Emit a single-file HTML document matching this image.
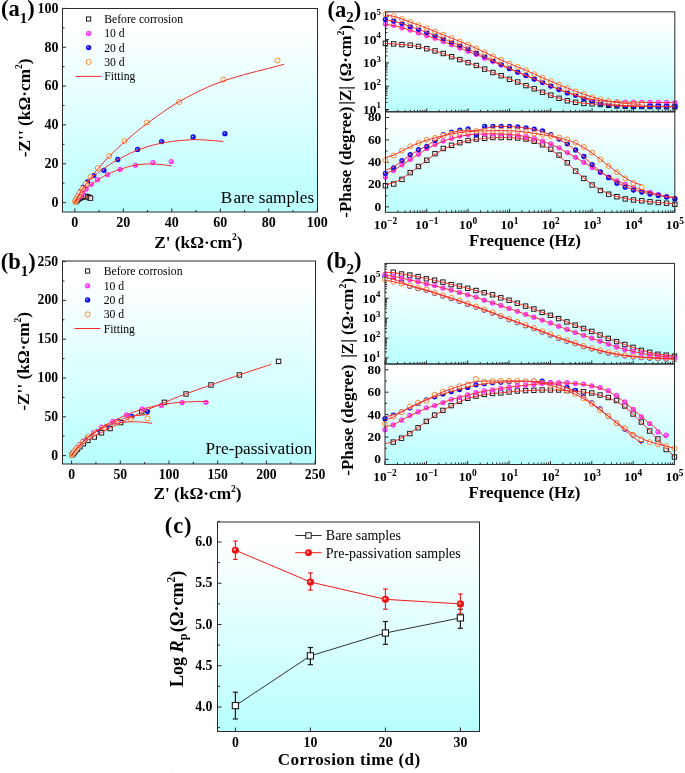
<!DOCTYPE html>
<html><head><meta charset="utf-8"><style>
html,body{margin:0;padding:0;background:#fff;}
body{width:685px;height:773px;overflow:hidden;font-family:"Liberation Serif",serif;}
svg{display:block;will-change:transform;}
</style></head><body>
<svg width="685" height="773" viewBox="0 0 685 773" font-family="'Liberation Serif', serif"><defs><linearGradient id="g" x1="0" y1="0" x2="0" y2="1"><stop offset="0" stop-color="#ffffff"/><stop offset="0.1" stop-color="#ffffff"/><stop offset="1" stop-color="#b9ffff"/></linearGradient><radialGradient id="bp" cx="0.5" cy="0.5" fx="0.36" fy="0.38" r="0.55"><stop offset="0" stop-color="#ffe6ff"/><stop offset="0.45" stop-color="#ff3cff"/><stop offset="1" stop-color="#ff3cff"/></radialGradient><radialGradient id="bb" cx="0.5" cy="0.5" fx="0.36" fy="0.38" r="0.55"><stop offset="0" stop-color="#c8c8ff"/><stop offset="0.45" stop-color="#0c0cf2"/><stop offset="1" stop-color="#0c0cf2"/></radialGradient><radialGradient id="br" cx="0.5" cy="0.5" fx="0.36" fy="0.38" r="0.55"><stop offset="0" stop-color="#ffe0e0"/><stop offset="0.45" stop-color="#f01010"/><stop offset="1" stop-color="#f01010"/></radialGradient></defs><rect x="62.5" y="8.5" width="255.0" height="203.5" fill="url(#g)" stroke="none"/>
<line x1="74.80" y1="212.00" x2="74.80" y2="208.50" stroke="#2a2a2a" stroke-width="1"/>
<line x1="123.30" y1="212.00" x2="123.30" y2="208.50" stroke="#2a2a2a" stroke-width="1"/>
<line x1="171.80" y1="212.00" x2="171.80" y2="208.50" stroke="#2a2a2a" stroke-width="1"/>
<line x1="220.30" y1="212.00" x2="220.30" y2="208.50" stroke="#2a2a2a" stroke-width="1"/>
<line x1="268.80" y1="212.00" x2="268.80" y2="208.50" stroke="#2a2a2a" stroke-width="1"/>
<line x1="317.30" y1="212.00" x2="317.30" y2="208.50" stroke="#2a2a2a" stroke-width="1"/>
<line x1="99.05" y1="212.00" x2="99.05" y2="210.00" stroke="#2a2a2a" stroke-width="1"/>
<line x1="147.55" y1="212.00" x2="147.55" y2="210.00" stroke="#2a2a2a" stroke-width="1"/>
<line x1="196.05" y1="212.00" x2="196.05" y2="210.00" stroke="#2a2a2a" stroke-width="1"/>
<line x1="244.55" y1="212.00" x2="244.55" y2="210.00" stroke="#2a2a2a" stroke-width="1"/>
<line x1="293.05" y1="212.00" x2="293.05" y2="210.00" stroke="#2a2a2a" stroke-width="1"/>
<line x1="62.50" y1="202.60" x2="66.00" y2="202.60" stroke="#2a2a2a" stroke-width="1"/>
<line x1="62.50" y1="163.76" x2="66.00" y2="163.76" stroke="#2a2a2a" stroke-width="1"/>
<line x1="62.50" y1="124.92" x2="66.00" y2="124.92" stroke="#2a2a2a" stroke-width="1"/>
<line x1="62.50" y1="86.08" x2="66.00" y2="86.08" stroke="#2a2a2a" stroke-width="1"/>
<line x1="62.50" y1="47.24" x2="66.00" y2="47.24" stroke="#2a2a2a" stroke-width="1"/>
<line x1="62.50" y1="8.40" x2="66.00" y2="8.40" stroke="#2a2a2a" stroke-width="1"/>
<line x1="62.50" y1="183.18" x2="64.50" y2="183.18" stroke="#2a2a2a" stroke-width="1"/>
<line x1="62.50" y1="144.34" x2="64.50" y2="144.34" stroke="#2a2a2a" stroke-width="1"/>
<line x1="62.50" y1="105.50" x2="64.50" y2="105.50" stroke="#2a2a2a" stroke-width="1"/>
<line x1="62.50" y1="66.66" x2="64.50" y2="66.66" stroke="#2a2a2a" stroke-width="1"/>
<line x1="62.50" y1="27.82" x2="64.50" y2="27.82" stroke="#2a2a2a" stroke-width="1"/>
<rect x="73.45" y="199.43" width="4.4" height="4.4" fill="#ffffff" stroke="#1a1a1a" stroke-width="1.0"/>
<rect x="74.05" y="198.75" width="4.4" height="4.4" fill="#ffffff" stroke="#1a1a1a" stroke-width="1.0"/>
<rect x="75.02" y="197.88" width="4.4" height="4.4" fill="#ffffff" stroke="#1a1a1a" stroke-width="1.0"/>
<rect x="76.24" y="196.90" width="4.4" height="4.4" fill="#ffffff" stroke="#1a1a1a" stroke-width="1.0"/>
<rect x="77.93" y="195.93" width="4.4" height="4.4" fill="#ffffff" stroke="#1a1a1a" stroke-width="1.0"/>
<rect x="79.88" y="194.96" width="4.4" height="4.4" fill="#ffffff" stroke="#1a1a1a" stroke-width="1.0"/>
<rect x="81.81" y="194.38" width="4.4" height="4.4" fill="#ffffff" stroke="#1a1a1a" stroke-width="1.0"/>
<rect x="83.75" y="194.19" width="4.4" height="4.4" fill="#ffffff" stroke="#1a1a1a" stroke-width="1.0"/>
<rect x="85.69" y="194.57" width="4.4" height="4.4" fill="#ffffff" stroke="#1a1a1a" stroke-width="1.0"/>
<rect x="87.15" y="195.55" width="4.4" height="4.4" fill="#ffffff" stroke="#1a1a1a" stroke-width="1.0"/>
<rect x="88.36" y="195.93" width="4.4" height="4.4" fill="#ffffff" stroke="#1a1a1a" stroke-width="1.0"/>
<circle cx="75.48" cy="201.53" r="2.65" fill="url(#bp)"/>
<circle cx="75.89" cy="200.85" r="2.65" fill="url(#bp)"/>
<circle cx="76.50" cy="199.98" r="2.65" fill="url(#bp)"/>
<circle cx="77.35" cy="198.81" r="2.65" fill="url(#bp)"/>
<circle cx="78.68" cy="197.16" r="2.65" fill="url(#bp)"/>
<circle cx="80.38" cy="195.22" r="2.65" fill="url(#bp)"/>
<circle cx="82.80" cy="192.50" r="2.65" fill="url(#bp)"/>
<circle cx="86.20" cy="189.01" r="2.65" fill="url(#bp)"/>
<circle cx="91.29" cy="184.35" r="2.65" fill="url(#bp)"/>
<circle cx="97.59" cy="179.68" r="2.65" fill="url(#bp)"/>
<circle cx="107.54" cy="174.64" r="2.65" fill="url(#bp)"/>
<circle cx="120.15" cy="169.39" r="2.65" fill="url(#bp)"/>
<circle cx="135.42" cy="165.31" r="2.65" fill="url(#bp)"/>
<circle cx="152.88" cy="162.59" r="2.65" fill="url(#bp)"/>
<circle cx="171.31" cy="161.62" r="2.65" fill="url(#bp)"/>
<circle cx="75.48" cy="200.95" r="2.65" fill="url(#bb)"/>
<circle cx="75.89" cy="199.98" r="2.65" fill="url(#bb)"/>
<circle cx="76.50" cy="198.72" r="2.65" fill="url(#bb)"/>
<circle cx="77.35" cy="196.97" r="2.65" fill="url(#bb)"/>
<circle cx="78.68" cy="194.64" r="2.65" fill="url(#bb)"/>
<circle cx="80.62" cy="191.34" r="2.65" fill="url(#bb)"/>
<circle cx="83.29" cy="187.26" r="2.65" fill="url(#bb)"/>
<circle cx="87.41" cy="182.01" r="2.65" fill="url(#bb)"/>
<circle cx="93.72" cy="175.61" r="2.65" fill="url(#bb)"/>
<circle cx="103.90" cy="170.36" r="2.65" fill="url(#bb)"/>
<circle cx="117.72" cy="159.49" r="2.65" fill="url(#bb)"/>
<circle cx="137.61" cy="149.39" r="2.65" fill="url(#bb)"/>
<circle cx="161.61" cy="141.62" r="2.65" fill="url(#bb)"/>
<circle cx="193.14" cy="136.96" r="2.65" fill="url(#bb)"/>
<circle cx="224.91" cy="133.66" r="2.65" fill="url(#bb)"/>
<circle cx="75.16" cy="201.73" r="2.5" fill="#ffffff" stroke="#f58a2a" stroke-width="1.0"/>
<circle cx="75.41" cy="201.14" r="2.5" fill="#ffffff" stroke="#f58a2a" stroke-width="1.0"/>
<circle cx="75.77" cy="200.27" r="2.5" fill="#ffffff" stroke="#f58a2a" stroke-width="1.0"/>
<circle cx="76.38" cy="199.10" r="2.5" fill="#ffffff" stroke="#f58a2a" stroke-width="1.0"/>
<circle cx="77.22" cy="197.55" r="2.5" fill="#ffffff" stroke="#f58a2a" stroke-width="1.0"/>
<circle cx="78.44" cy="195.41" r="2.5" fill="#ffffff" stroke="#f58a2a" stroke-width="1.0"/>
<circle cx="80.13" cy="192.50" r="2.5" fill="#ffffff" stroke="#f58a2a" stroke-width="1.0"/>
<circle cx="82.56" cy="188.62" r="2.5" fill="#ffffff" stroke="#f58a2a" stroke-width="1.0"/>
<circle cx="85.95" cy="183.76" r="2.5" fill="#ffffff" stroke="#f58a2a" stroke-width="1.0"/>
<circle cx="90.56" cy="176.97" r="2.5" fill="#ffffff" stroke="#f58a2a" stroke-width="1.0"/>
<circle cx="97.84" cy="168.03" r="2.5" fill="#ffffff" stroke="#f58a2a" stroke-width="1.0"/>
<circle cx="109.23" cy="155.99" r="2.5" fill="#ffffff" stroke="#f58a2a" stroke-width="1.0"/>
<circle cx="124.51" cy="141.04" r="2.5" fill="#ffffff" stroke="#f58a2a" stroke-width="1.0"/>
<circle cx="146.82" cy="122.59" r="2.5" fill="#ffffff" stroke="#f58a2a" stroke-width="1.0"/>
<circle cx="179.20" cy="102.00" r="2.5" fill="#ffffff" stroke="#f58a2a" stroke-width="1.0"/>
<circle cx="223.21" cy="79.67" r="2.5" fill="#ffffff" stroke="#f58a2a" stroke-width="1.0"/>
<circle cx="277.53" cy="60.45" r="2.5" fill="#ffffff" stroke="#f58a2a" stroke-width="1.0"/>
<polyline points="74.80,202.60 74.95,202.41 75.15,202.15 75.39,201.84 75.66,201.50 75.95,201.16 76.25,200.85 76.57,200.56 76.92,200.26 77.29,199.95 77.67,199.66 78.05,199.37 78.44,199.10 78.82,198.85 79.22,198.60 79.62,198.36 80.03,198.14 80.44,197.93 80.86,197.75 81.29,197.58 81.73,197.42 82.18,197.28 82.63,197.16 83.08,197.06 83.53,196.97 83.98,196.89 84.43,196.83 84.88,196.79 85.33,196.76 85.77,196.75 86.20,196.77 86.62,196.82 87.04,196.90 87.46,196.99 87.86,197.10 88.25,197.23 88.62,197.36 89.00,197.51 89.38,197.69 89.74,197.88 90.08,198.06 90.36,198.22 90.56,198.33" fill="none" stroke="#f52a2a" stroke-width="1.0" stroke-linejoin="round"/>
<polyline points="74.80,202.60 75.11,202.04 75.55,201.25 76.06,200.32 76.61,199.33 77.18,198.38 77.71,197.55 78.20,196.85 78.66,196.22 79.13,195.62 79.64,195.02 80.21,194.38 80.86,193.67 81.63,192.86 82.49,191.97 83.41,191.05 84.36,190.12 85.30,189.23 86.20,188.42 87.05,187.70 87.87,187.05 88.68,186.43 89.51,185.83 90.37,185.20 91.29,184.54 92.23,183.84 93.17,183.14 94.14,182.43 95.18,181.68 96.32,180.90 97.59,180.07 99.01,179.17 100.54,178.20 102.17,177.18 103.89,176.17 105.68,175.18 107.54,174.25 109.45,173.37 111.44,172.53 113.51,171.72 115.65,170.93 117.86,170.16 120.15,169.39 122.51,168.61 124.96,167.81 127.48,167.02 130.07,166.29 132.72,165.64 135.42,165.12 138.19,164.71 141.03,164.39 143.93,164.15 146.88,164.00 149.87,163.93 152.88,163.95 156.17,164.12 159.78,164.44 163.43,164.85 166.84,165.28 169.73,165.65 171.80,165.90" fill="none" stroke="#f52a2a" stroke-width="1.0" stroke-linejoin="round"/>
<polyline points="74.80,202.60 75.12,201.96 75.54,201.09 76.04,200.05 76.62,198.89 77.26,197.65 77.95,196.39 78.73,195.01 79.61,193.47 80.56,191.85 81.52,190.24 82.44,188.75 83.29,187.45 84.02,186.40 84.67,185.52 85.29,184.76 85.92,184.03 86.61,183.27 87.41,182.40 88.29,181.45 89.21,180.48 90.18,179.47 91.25,178.42 92.41,177.33 93.72,176.19 95.15,175.00 96.69,173.75 98.34,172.46 100.09,171.14 101.95,169.79 103.90,168.42 105.92,167.03 108.01,165.61 110.20,164.16 112.53,162.69 115.03,161.19 117.72,159.68 120.64,158.11 123.75,156.47 127.03,154.81 130.45,153.18 133.98,151.61 137.61,150.17 141.28,148.81 145.03,147.52 148.88,146.29 152.90,145.15 157.13,144.11 161.61,143.17 166.45,142.33 171.62,141.56 177.00,140.88 182.46,140.33 187.88,139.92 193.14,139.68 198.58,139.69 204.38,139.94 210.15,140.33 215.47,140.78 219.96,141.18 223.21,141.43" fill="none" stroke="#f52a2a" stroke-width="1.0" stroke-linejoin="round"/>
<polyline points="74.80,202.60 75.13,201.94 75.56,201.03 76.09,199.95 76.68,198.77 77.31,197.56 77.95,196.39 78.60,195.26 79.25,194.14 79.95,192.99 80.72,191.77 81.58,190.45 82.56,189.01 83.71,187.38 85.00,185.58 86.39,183.69 87.82,181.77 89.23,179.89 90.56,178.13 91.77,176.52 92.89,175.02 93.99,173.57 95.13,172.09 96.39,170.52 97.84,168.81 99.45,166.94 101.19,164.97 103.04,162.91 105.00,160.78 107.06,158.60 109.23,156.38 111.48,154.14 113.78,151.88 116.19,149.56 118.76,147.16 121.51,144.65 124.51,142.01 127.69,139.24 131.02,136.38 134.53,133.40 138.30,130.31 142.38,127.10 146.82,123.75 151.64,120.19 156.80,116.41 162.27,112.50 168.02,108.57 174.03,104.71 180.29,101.03 186.69,97.50 193.23,94.04 200.04,90.66 207.22,87.35 214.91,84.14 223.21,81.03 233.02,77.86 244.42,74.60 256.33,71.43 267.63,68.54 277.25,66.11 284.08,64.33" fill="none" stroke="#f52a2a" stroke-width="1.0" stroke-linejoin="round"/>
<rect x="62.5" y="8.5" width="255.0" height="203.5" fill="none" stroke="#2a2a2a" stroke-width="1"/>
<text x="0" y="0" font-size="14" font-weight="bold" text-anchor="middle" transform="translate(74.80,226.90) scale(1,1.0)">0</text>
<text x="0" y="0" font-size="14" font-weight="bold" text-anchor="end" transform="translate(58.60,206.90) scale(1,1.0)">0</text>
<text x="0" y="0" font-size="14" font-weight="bold" text-anchor="middle" transform="translate(123.30,226.90) scale(1,1.0)">20</text>
<text x="0" y="0" font-size="14" font-weight="bold" text-anchor="end" transform="translate(58.60,168.06) scale(1,1.0)">20</text>
<text x="0" y="0" font-size="14" font-weight="bold" text-anchor="middle" transform="translate(171.80,226.90) scale(1,1.0)">40</text>
<text x="0" y="0" font-size="14" font-weight="bold" text-anchor="end" transform="translate(58.60,129.22) scale(1,1.0)">40</text>
<text x="0" y="0" font-size="14" font-weight="bold" text-anchor="middle" transform="translate(220.30,226.90) scale(1,1.0)">60</text>
<text x="0" y="0" font-size="14" font-weight="bold" text-anchor="end" transform="translate(58.60,90.38) scale(1,1.0)">60</text>
<text x="0" y="0" font-size="14" font-weight="bold" text-anchor="middle" transform="translate(268.80,226.90) scale(1,1.0)">80</text>
<text x="0" y="0" font-size="14" font-weight="bold" text-anchor="end" transform="translate(58.60,51.54) scale(1,1.0)">80</text>
<text x="0" y="0" font-size="14" font-weight="bold" text-anchor="middle" transform="translate(317.30,226.90) scale(1,1.0)">100</text>
<text x="0" y="0" font-size="14" font-weight="bold" text-anchor="end" transform="translate(58.60,12.70) scale(1,1.0)">100</text>
<rect x="86.50" y="16.90" width="4.2" height="4.2" fill="#ffffff" stroke="#1a1a1a" stroke-width="1.0"/>
<circle cx="88.60" cy="33.40" r="2.7" fill="url(#bp)"/>
<circle cx="88.60" cy="47.60" r="2.7" fill="url(#bb)"/>
<circle cx="88.60" cy="62.00" r="2.6" fill="#ffffff" stroke="#f58a2a" stroke-width="1.0"/>
<line x1="75.40" y1="76.40" x2="101.40" y2="76.40" stroke="#f52a2a" stroke-width="1"/>
<text x="104.20" y="23.00" font-size="11.7" font-weight="normal" text-anchor="start" >Before corrosion</text>
<text x="104.20" y="37.40" font-size="11.7" font-weight="normal" text-anchor="start" >10 d</text>
<text x="104.20" y="51.60" font-size="11.7" font-weight="normal" text-anchor="start" >20 d</text>
<text x="104.20" y="66.00" font-size="11.7" font-weight="normal" text-anchor="start" >30 d</text>
<text x="104.20" y="80.40" font-size="11.7" font-weight="normal" text-anchor="start" >Fitting</text>
<text x="220.80" y="202.90" font-size="17.2" font-weight="normal" text-anchor="start" >B<tspan dx='1.2'>are samples</tspan></text>
<text x="0.00" y="0.00" font-size="17.3" font-weight="bold" text-anchor="middle" transform="translate(29.7,107.8) rotate(-90)">-Z'' (kΩ·cm<tspan font-size='9.5' dy='-7.5'>2</tspan><tspan dy='7.5'>)</tspan></text>
<text x="154.20" y="247.60" font-size="17.3" font-weight="bold" text-anchor="start" >Z' (kΩ·cm<tspan font-size='9.5' dy='-7.5'>2</tspan><tspan dy='7.5'>)</tspan></text>
<text x="1.00" y="16.30" font-size="22.5" font-weight="bold" text-anchor="start" >(a<tspan font-size='15' dy='6.5'>1</tspan><tspan dy='-6.5'>)</tspan></text>
<rect x="385.5" y="11.8" width="289.29999999999995" height="100.0" fill="url(#g)" stroke="none"/>
<rect x="385.5" y="111.8" width="289.29999999999995" height="100.50000000000001" fill="url(#g)" stroke="none"/>
<line x1="385.40" y1="111.80" x2="385.40" y2="108.30" stroke="#2a2a2a" stroke-width="1"/>
<line x1="397.85" y1="111.80" x2="397.85" y2="109.80" stroke="#2a2a2a" stroke-width="1"/>
<line x1="405.13" y1="111.80" x2="405.13" y2="109.80" stroke="#2a2a2a" stroke-width="1"/>
<line x1="410.29" y1="111.80" x2="410.29" y2="109.80" stroke="#2a2a2a" stroke-width="1"/>
<line x1="414.30" y1="111.80" x2="414.30" y2="109.80" stroke="#2a2a2a" stroke-width="1"/>
<line x1="417.57" y1="111.80" x2="417.57" y2="109.80" stroke="#2a2a2a" stroke-width="1"/>
<line x1="420.34" y1="111.80" x2="420.34" y2="109.80" stroke="#2a2a2a" stroke-width="1"/>
<line x1="422.74" y1="111.80" x2="422.74" y2="109.80" stroke="#2a2a2a" stroke-width="1"/>
<line x1="424.85" y1="111.80" x2="424.85" y2="109.80" stroke="#2a2a2a" stroke-width="1"/>
<line x1="426.74" y1="111.80" x2="426.74" y2="108.30" stroke="#2a2a2a" stroke-width="1"/>
<line x1="439.19" y1="111.80" x2="439.19" y2="109.80" stroke="#2a2a2a" stroke-width="1"/>
<line x1="446.47" y1="111.80" x2="446.47" y2="109.80" stroke="#2a2a2a" stroke-width="1"/>
<line x1="451.63" y1="111.80" x2="451.63" y2="109.80" stroke="#2a2a2a" stroke-width="1"/>
<line x1="455.64" y1="111.80" x2="455.64" y2="109.80" stroke="#2a2a2a" stroke-width="1"/>
<line x1="458.91" y1="111.80" x2="458.91" y2="109.80" stroke="#2a2a2a" stroke-width="1"/>
<line x1="461.68" y1="111.80" x2="461.68" y2="109.80" stroke="#2a2a2a" stroke-width="1"/>
<line x1="464.08" y1="111.80" x2="464.08" y2="109.80" stroke="#2a2a2a" stroke-width="1"/>
<line x1="466.19" y1="111.80" x2="466.19" y2="109.80" stroke="#2a2a2a" stroke-width="1"/>
<line x1="468.09" y1="111.80" x2="468.09" y2="108.30" stroke="#2a2a2a" stroke-width="1"/>
<line x1="480.53" y1="111.80" x2="480.53" y2="109.80" stroke="#2a2a2a" stroke-width="1"/>
<line x1="487.81" y1="111.80" x2="487.81" y2="109.80" stroke="#2a2a2a" stroke-width="1"/>
<line x1="492.98" y1="111.80" x2="492.98" y2="109.80" stroke="#2a2a2a" stroke-width="1"/>
<line x1="496.98" y1="111.80" x2="496.98" y2="109.80" stroke="#2a2a2a" stroke-width="1"/>
<line x1="500.26" y1="111.80" x2="500.26" y2="109.80" stroke="#2a2a2a" stroke-width="1"/>
<line x1="503.02" y1="111.80" x2="503.02" y2="109.80" stroke="#2a2a2a" stroke-width="1"/>
<line x1="505.42" y1="111.80" x2="505.42" y2="109.80" stroke="#2a2a2a" stroke-width="1"/>
<line x1="507.54" y1="111.80" x2="507.54" y2="109.80" stroke="#2a2a2a" stroke-width="1"/>
<line x1="509.43" y1="111.80" x2="509.43" y2="108.30" stroke="#2a2a2a" stroke-width="1"/>
<line x1="521.87" y1="111.80" x2="521.87" y2="109.80" stroke="#2a2a2a" stroke-width="1"/>
<line x1="529.15" y1="111.80" x2="529.15" y2="109.80" stroke="#2a2a2a" stroke-width="1"/>
<line x1="534.32" y1="111.80" x2="534.32" y2="109.80" stroke="#2a2a2a" stroke-width="1"/>
<line x1="538.33" y1="111.80" x2="538.33" y2="109.80" stroke="#2a2a2a" stroke-width="1"/>
<line x1="541.60" y1="111.80" x2="541.60" y2="109.80" stroke="#2a2a2a" stroke-width="1"/>
<line x1="544.37" y1="111.80" x2="544.37" y2="109.80" stroke="#2a2a2a" stroke-width="1"/>
<line x1="546.76" y1="111.80" x2="546.76" y2="109.80" stroke="#2a2a2a" stroke-width="1"/>
<line x1="548.88" y1="111.80" x2="548.88" y2="109.80" stroke="#2a2a2a" stroke-width="1"/>
<line x1="550.77" y1="111.80" x2="550.77" y2="108.30" stroke="#2a2a2a" stroke-width="1"/>
<line x1="563.22" y1="111.80" x2="563.22" y2="109.80" stroke="#2a2a2a" stroke-width="1"/>
<line x1="570.50" y1="111.80" x2="570.50" y2="109.80" stroke="#2a2a2a" stroke-width="1"/>
<line x1="575.66" y1="111.80" x2="575.66" y2="109.80" stroke="#2a2a2a" stroke-width="1"/>
<line x1="579.67" y1="111.80" x2="579.67" y2="109.80" stroke="#2a2a2a" stroke-width="1"/>
<line x1="582.94" y1="111.80" x2="582.94" y2="109.80" stroke="#2a2a2a" stroke-width="1"/>
<line x1="585.71" y1="111.80" x2="585.71" y2="109.80" stroke="#2a2a2a" stroke-width="1"/>
<line x1="588.11" y1="111.80" x2="588.11" y2="109.80" stroke="#2a2a2a" stroke-width="1"/>
<line x1="590.22" y1="111.80" x2="590.22" y2="109.80" stroke="#2a2a2a" stroke-width="1"/>
<line x1="592.11" y1="111.80" x2="592.11" y2="108.30" stroke="#2a2a2a" stroke-width="1"/>
<line x1="604.56" y1="111.80" x2="604.56" y2="109.80" stroke="#2a2a2a" stroke-width="1"/>
<line x1="611.84" y1="111.80" x2="611.84" y2="109.80" stroke="#2a2a2a" stroke-width="1"/>
<line x1="617.01" y1="111.80" x2="617.01" y2="109.80" stroke="#2a2a2a" stroke-width="1"/>
<line x1="621.01" y1="111.80" x2="621.01" y2="109.80" stroke="#2a2a2a" stroke-width="1"/>
<line x1="624.29" y1="111.80" x2="624.29" y2="109.80" stroke="#2a2a2a" stroke-width="1"/>
<line x1="627.05" y1="111.80" x2="627.05" y2="109.80" stroke="#2a2a2a" stroke-width="1"/>
<line x1="629.45" y1="111.80" x2="629.45" y2="109.80" stroke="#2a2a2a" stroke-width="1"/>
<line x1="631.57" y1="111.80" x2="631.57" y2="109.80" stroke="#2a2a2a" stroke-width="1"/>
<line x1="633.46" y1="111.80" x2="633.46" y2="108.30" stroke="#2a2a2a" stroke-width="1"/>
<line x1="645.90" y1="111.80" x2="645.90" y2="109.80" stroke="#2a2a2a" stroke-width="1"/>
<line x1="653.18" y1="111.80" x2="653.18" y2="109.80" stroke="#2a2a2a" stroke-width="1"/>
<line x1="658.35" y1="111.80" x2="658.35" y2="109.80" stroke="#2a2a2a" stroke-width="1"/>
<line x1="662.35" y1="111.80" x2="662.35" y2="109.80" stroke="#2a2a2a" stroke-width="1"/>
<line x1="665.63" y1="111.80" x2="665.63" y2="109.80" stroke="#2a2a2a" stroke-width="1"/>
<line x1="668.40" y1="111.80" x2="668.40" y2="109.80" stroke="#2a2a2a" stroke-width="1"/>
<line x1="670.79" y1="111.80" x2="670.79" y2="109.80" stroke="#2a2a2a" stroke-width="1"/>
<line x1="672.91" y1="111.80" x2="672.91" y2="109.80" stroke="#2a2a2a" stroke-width="1"/>
<line x1="674.80" y1="111.80" x2="674.80" y2="108.30" stroke="#2a2a2a" stroke-width="1"/>
<line x1="385.50" y1="110.57" x2="387.50" y2="110.57" stroke="#2a2a2a" stroke-width="1"/>
<line x1="385.50" y1="109.50" x2="389.00" y2="109.50" stroke="#2a2a2a" stroke-width="1"/>
<line x1="385.50" y1="102.49" x2="387.50" y2="102.49" stroke="#2a2a2a" stroke-width="1"/>
<line x1="385.50" y1="98.38" x2="387.50" y2="98.38" stroke="#2a2a2a" stroke-width="1"/>
<line x1="385.50" y1="95.47" x2="387.50" y2="95.47" stroke="#2a2a2a" stroke-width="1"/>
<line x1="385.50" y1="93.21" x2="387.50" y2="93.21" stroke="#2a2a2a" stroke-width="1"/>
<line x1="385.50" y1="91.37" x2="387.50" y2="91.37" stroke="#2a2a2a" stroke-width="1"/>
<line x1="385.50" y1="89.81" x2="387.50" y2="89.81" stroke="#2a2a2a" stroke-width="1"/>
<line x1="385.50" y1="88.46" x2="387.50" y2="88.46" stroke="#2a2a2a" stroke-width="1"/>
<line x1="385.50" y1="87.27" x2="387.50" y2="87.27" stroke="#2a2a2a" stroke-width="1"/>
<line x1="385.50" y1="86.20" x2="389.00" y2="86.20" stroke="#2a2a2a" stroke-width="1"/>
<line x1="385.50" y1="79.19" x2="387.50" y2="79.19" stroke="#2a2a2a" stroke-width="1"/>
<line x1="385.50" y1="75.08" x2="387.50" y2="75.08" stroke="#2a2a2a" stroke-width="1"/>
<line x1="385.50" y1="72.17" x2="387.50" y2="72.17" stroke="#2a2a2a" stroke-width="1"/>
<line x1="385.50" y1="69.91" x2="387.50" y2="69.91" stroke="#2a2a2a" stroke-width="1"/>
<line x1="385.50" y1="68.07" x2="387.50" y2="68.07" stroke="#2a2a2a" stroke-width="1"/>
<line x1="385.50" y1="66.51" x2="387.50" y2="66.51" stroke="#2a2a2a" stroke-width="1"/>
<line x1="385.50" y1="65.16" x2="387.50" y2="65.16" stroke="#2a2a2a" stroke-width="1"/>
<line x1="385.50" y1="63.97" x2="387.50" y2="63.97" stroke="#2a2a2a" stroke-width="1"/>
<line x1="385.50" y1="62.90" x2="389.00" y2="62.90" stroke="#2a2a2a" stroke-width="1"/>
<line x1="385.50" y1="55.89" x2="387.50" y2="55.89" stroke="#2a2a2a" stroke-width="1"/>
<line x1="385.50" y1="51.78" x2="387.50" y2="51.78" stroke="#2a2a2a" stroke-width="1"/>
<line x1="385.50" y1="48.87" x2="387.50" y2="48.87" stroke="#2a2a2a" stroke-width="1"/>
<line x1="385.50" y1="46.61" x2="387.50" y2="46.61" stroke="#2a2a2a" stroke-width="1"/>
<line x1="385.50" y1="44.77" x2="387.50" y2="44.77" stroke="#2a2a2a" stroke-width="1"/>
<line x1="385.50" y1="43.21" x2="387.50" y2="43.21" stroke="#2a2a2a" stroke-width="1"/>
<line x1="385.50" y1="41.86" x2="387.50" y2="41.86" stroke="#2a2a2a" stroke-width="1"/>
<line x1="385.50" y1="40.67" x2="387.50" y2="40.67" stroke="#2a2a2a" stroke-width="1"/>
<line x1="385.50" y1="39.60" x2="389.00" y2="39.60" stroke="#2a2a2a" stroke-width="1"/>
<line x1="385.50" y1="32.59" x2="387.50" y2="32.59" stroke="#2a2a2a" stroke-width="1"/>
<line x1="385.50" y1="28.48" x2="387.50" y2="28.48" stroke="#2a2a2a" stroke-width="1"/>
<line x1="385.50" y1="25.57" x2="387.50" y2="25.57" stroke="#2a2a2a" stroke-width="1"/>
<line x1="385.50" y1="23.31" x2="387.50" y2="23.31" stroke="#2a2a2a" stroke-width="1"/>
<line x1="385.50" y1="21.47" x2="387.50" y2="21.47" stroke="#2a2a2a" stroke-width="1"/>
<line x1="385.50" y1="19.91" x2="387.50" y2="19.91" stroke="#2a2a2a" stroke-width="1"/>
<line x1="385.50" y1="18.56" x2="387.50" y2="18.56" stroke="#2a2a2a" stroke-width="1"/>
<line x1="385.50" y1="17.37" x2="387.50" y2="17.37" stroke="#2a2a2a" stroke-width="1"/>
<line x1="385.50" y1="16.30" x2="389.00" y2="16.30" stroke="#2a2a2a" stroke-width="1"/>
<line x1="385.40" y1="212.30" x2="385.40" y2="208.80" stroke="#2a2a2a" stroke-width="1"/>
<line x1="397.85" y1="212.30" x2="397.85" y2="210.30" stroke="#2a2a2a" stroke-width="1"/>
<line x1="405.13" y1="212.30" x2="405.13" y2="210.30" stroke="#2a2a2a" stroke-width="1"/>
<line x1="410.29" y1="212.30" x2="410.29" y2="210.30" stroke="#2a2a2a" stroke-width="1"/>
<line x1="414.30" y1="212.30" x2="414.30" y2="210.30" stroke="#2a2a2a" stroke-width="1"/>
<line x1="417.57" y1="212.30" x2="417.57" y2="210.30" stroke="#2a2a2a" stroke-width="1"/>
<line x1="420.34" y1="212.30" x2="420.34" y2="210.30" stroke="#2a2a2a" stroke-width="1"/>
<line x1="422.74" y1="212.30" x2="422.74" y2="210.30" stroke="#2a2a2a" stroke-width="1"/>
<line x1="424.85" y1="212.30" x2="424.85" y2="210.30" stroke="#2a2a2a" stroke-width="1"/>
<line x1="426.74" y1="212.30" x2="426.74" y2="208.80" stroke="#2a2a2a" stroke-width="1"/>
<line x1="439.19" y1="212.30" x2="439.19" y2="210.30" stroke="#2a2a2a" stroke-width="1"/>
<line x1="446.47" y1="212.30" x2="446.47" y2="210.30" stroke="#2a2a2a" stroke-width="1"/>
<line x1="451.63" y1="212.30" x2="451.63" y2="210.30" stroke="#2a2a2a" stroke-width="1"/>
<line x1="455.64" y1="212.30" x2="455.64" y2="210.30" stroke="#2a2a2a" stroke-width="1"/>
<line x1="458.91" y1="212.30" x2="458.91" y2="210.30" stroke="#2a2a2a" stroke-width="1"/>
<line x1="461.68" y1="212.30" x2="461.68" y2="210.30" stroke="#2a2a2a" stroke-width="1"/>
<line x1="464.08" y1="212.30" x2="464.08" y2="210.30" stroke="#2a2a2a" stroke-width="1"/>
<line x1="466.19" y1="212.30" x2="466.19" y2="210.30" stroke="#2a2a2a" stroke-width="1"/>
<line x1="468.09" y1="212.30" x2="468.09" y2="208.80" stroke="#2a2a2a" stroke-width="1"/>
<line x1="480.53" y1="212.30" x2="480.53" y2="210.30" stroke="#2a2a2a" stroke-width="1"/>
<line x1="487.81" y1="212.30" x2="487.81" y2="210.30" stroke="#2a2a2a" stroke-width="1"/>
<line x1="492.98" y1="212.30" x2="492.98" y2="210.30" stroke="#2a2a2a" stroke-width="1"/>
<line x1="496.98" y1="212.30" x2="496.98" y2="210.30" stroke="#2a2a2a" stroke-width="1"/>
<line x1="500.26" y1="212.30" x2="500.26" y2="210.30" stroke="#2a2a2a" stroke-width="1"/>
<line x1="503.02" y1="212.30" x2="503.02" y2="210.30" stroke="#2a2a2a" stroke-width="1"/>
<line x1="505.42" y1="212.30" x2="505.42" y2="210.30" stroke="#2a2a2a" stroke-width="1"/>
<line x1="507.54" y1="212.30" x2="507.54" y2="210.30" stroke="#2a2a2a" stroke-width="1"/>
<line x1="509.43" y1="212.30" x2="509.43" y2="208.80" stroke="#2a2a2a" stroke-width="1"/>
<line x1="521.87" y1="212.30" x2="521.87" y2="210.30" stroke="#2a2a2a" stroke-width="1"/>
<line x1="529.15" y1="212.30" x2="529.15" y2="210.30" stroke="#2a2a2a" stroke-width="1"/>
<line x1="534.32" y1="212.30" x2="534.32" y2="210.30" stroke="#2a2a2a" stroke-width="1"/>
<line x1="538.33" y1="212.30" x2="538.33" y2="210.30" stroke="#2a2a2a" stroke-width="1"/>
<line x1="541.60" y1="212.30" x2="541.60" y2="210.30" stroke="#2a2a2a" stroke-width="1"/>
<line x1="544.37" y1="212.30" x2="544.37" y2="210.30" stroke="#2a2a2a" stroke-width="1"/>
<line x1="546.76" y1="212.30" x2="546.76" y2="210.30" stroke="#2a2a2a" stroke-width="1"/>
<line x1="548.88" y1="212.30" x2="548.88" y2="210.30" stroke="#2a2a2a" stroke-width="1"/>
<line x1="550.77" y1="212.30" x2="550.77" y2="208.80" stroke="#2a2a2a" stroke-width="1"/>
<line x1="563.22" y1="212.30" x2="563.22" y2="210.30" stroke="#2a2a2a" stroke-width="1"/>
<line x1="570.50" y1="212.30" x2="570.50" y2="210.30" stroke="#2a2a2a" stroke-width="1"/>
<line x1="575.66" y1="212.30" x2="575.66" y2="210.30" stroke="#2a2a2a" stroke-width="1"/>
<line x1="579.67" y1="212.30" x2="579.67" y2="210.30" stroke="#2a2a2a" stroke-width="1"/>
<line x1="582.94" y1="212.30" x2="582.94" y2="210.30" stroke="#2a2a2a" stroke-width="1"/>
<line x1="585.71" y1="212.30" x2="585.71" y2="210.30" stroke="#2a2a2a" stroke-width="1"/>
<line x1="588.11" y1="212.30" x2="588.11" y2="210.30" stroke="#2a2a2a" stroke-width="1"/>
<line x1="590.22" y1="212.30" x2="590.22" y2="210.30" stroke="#2a2a2a" stroke-width="1"/>
<line x1="592.11" y1="212.30" x2="592.11" y2="208.80" stroke="#2a2a2a" stroke-width="1"/>
<line x1="604.56" y1="212.30" x2="604.56" y2="210.30" stroke="#2a2a2a" stroke-width="1"/>
<line x1="611.84" y1="212.30" x2="611.84" y2="210.30" stroke="#2a2a2a" stroke-width="1"/>
<line x1="617.01" y1="212.30" x2="617.01" y2="210.30" stroke="#2a2a2a" stroke-width="1"/>
<line x1="621.01" y1="212.30" x2="621.01" y2="210.30" stroke="#2a2a2a" stroke-width="1"/>
<line x1="624.29" y1="212.30" x2="624.29" y2="210.30" stroke="#2a2a2a" stroke-width="1"/>
<line x1="627.05" y1="212.30" x2="627.05" y2="210.30" stroke="#2a2a2a" stroke-width="1"/>
<line x1="629.45" y1="212.30" x2="629.45" y2="210.30" stroke="#2a2a2a" stroke-width="1"/>
<line x1="631.57" y1="212.30" x2="631.57" y2="210.30" stroke="#2a2a2a" stroke-width="1"/>
<line x1="633.46" y1="212.30" x2="633.46" y2="208.80" stroke="#2a2a2a" stroke-width="1"/>
<line x1="645.90" y1="212.30" x2="645.90" y2="210.30" stroke="#2a2a2a" stroke-width="1"/>
<line x1="653.18" y1="212.30" x2="653.18" y2="210.30" stroke="#2a2a2a" stroke-width="1"/>
<line x1="658.35" y1="212.30" x2="658.35" y2="210.30" stroke="#2a2a2a" stroke-width="1"/>
<line x1="662.35" y1="212.30" x2="662.35" y2="210.30" stroke="#2a2a2a" stroke-width="1"/>
<line x1="665.63" y1="212.30" x2="665.63" y2="210.30" stroke="#2a2a2a" stroke-width="1"/>
<line x1="668.40" y1="212.30" x2="668.40" y2="210.30" stroke="#2a2a2a" stroke-width="1"/>
<line x1="670.79" y1="212.30" x2="670.79" y2="210.30" stroke="#2a2a2a" stroke-width="1"/>
<line x1="672.91" y1="212.30" x2="672.91" y2="210.30" stroke="#2a2a2a" stroke-width="1"/>
<line x1="674.80" y1="212.30" x2="674.80" y2="208.80" stroke="#2a2a2a" stroke-width="1"/>
<line x1="385.50" y1="206.90" x2="389.00" y2="206.90" stroke="#2a2a2a" stroke-width="1"/>
<line x1="385.50" y1="184.55" x2="389.00" y2="184.55" stroke="#2a2a2a" stroke-width="1"/>
<line x1="385.50" y1="162.20" x2="389.00" y2="162.20" stroke="#2a2a2a" stroke-width="1"/>
<line x1="385.50" y1="139.85" x2="389.00" y2="139.85" stroke="#2a2a2a" stroke-width="1"/>
<line x1="385.50" y1="117.50" x2="389.00" y2="117.50" stroke="#2a2a2a" stroke-width="1"/>
<line x1="385.50" y1="195.72" x2="387.50" y2="195.72" stroke="#2a2a2a" stroke-width="1"/>
<line x1="385.50" y1="173.38" x2="387.50" y2="173.38" stroke="#2a2a2a" stroke-width="1"/>
<line x1="385.50" y1="151.03" x2="387.50" y2="151.03" stroke="#2a2a2a" stroke-width="1"/>
<line x1="385.50" y1="128.68" x2="387.50" y2="128.68" stroke="#2a2a2a" stroke-width="1"/>
<rect x="383.20" y="41.10" width="4.4" height="4.4" fill="#ffffff" stroke="#1a1a1a" stroke-width="1.0"/>
<rect x="391.47" y="41.70" width="4.4" height="4.4" fill="#ffffff" stroke="#1a1a1a" stroke-width="1.0"/>
<rect x="399.74" y="42.40" width="4.4" height="4.4" fill="#ffffff" stroke="#1a1a1a" stroke-width="1.0"/>
<rect x="408.01" y="43.00" width="4.4" height="4.4" fill="#ffffff" stroke="#1a1a1a" stroke-width="1.0"/>
<rect x="416.28" y="44.20" width="4.4" height="4.4" fill="#ffffff" stroke="#1a1a1a" stroke-width="1.0"/>
<rect x="424.55" y="46.50" width="4.4" height="4.4" fill="#ffffff" stroke="#1a1a1a" stroke-width="1.0"/>
<rect x="432.82" y="48.70" width="4.4" height="4.4" fill="#ffffff" stroke="#1a1a1a" stroke-width="1.0"/>
<rect x="441.09" y="51.30" width="4.4" height="4.4" fill="#ffffff" stroke="#1a1a1a" stroke-width="1.0"/>
<rect x="449.36" y="54.50" width="4.4" height="4.4" fill="#ffffff" stroke="#1a1a1a" stroke-width="1.0"/>
<rect x="457.63" y="57.40" width="4.4" height="4.4" fill="#ffffff" stroke="#1a1a1a" stroke-width="1.0"/>
<rect x="465.90" y="60.40" width="4.4" height="4.4" fill="#ffffff" stroke="#1a1a1a" stroke-width="1.0"/>
<rect x="474.17" y="63.30" width="4.4" height="4.4" fill="#ffffff" stroke="#1a1a1a" stroke-width="1.0"/>
<rect x="482.44" y="66.90" width="4.4" height="4.4" fill="#ffffff" stroke="#1a1a1a" stroke-width="1.0"/>
<rect x="490.71" y="70.30" width="4.4" height="4.4" fill="#ffffff" stroke="#1a1a1a" stroke-width="1.0"/>
<rect x="498.98" y="73.50" width="4.4" height="4.4" fill="#ffffff" stroke="#1a1a1a" stroke-width="1.0"/>
<rect x="507.25" y="77.10" width="4.4" height="4.4" fill="#ffffff" stroke="#1a1a1a" stroke-width="1.0"/>
<rect x="515.52" y="79.80" width="4.4" height="4.4" fill="#ffffff" stroke="#1a1a1a" stroke-width="1.0"/>
<rect x="523.79" y="83.40" width="4.4" height="4.4" fill="#ffffff" stroke="#1a1a1a" stroke-width="1.0"/>
<rect x="532.06" y="86.60" width="4.4" height="4.4" fill="#ffffff" stroke="#1a1a1a" stroke-width="1.0"/>
<rect x="540.33" y="90.00" width="4.4" height="4.4" fill="#ffffff" stroke="#1a1a1a" stroke-width="1.0"/>
<rect x="548.60" y="92.90" width="4.4" height="4.4" fill="#ffffff" stroke="#1a1a1a" stroke-width="1.0"/>
<rect x="556.87" y="96.10" width="4.4" height="4.4" fill="#ffffff" stroke="#1a1a1a" stroke-width="1.0"/>
<rect x="565.14" y="98.60" width="4.4" height="4.4" fill="#ffffff" stroke="#1a1a1a" stroke-width="1.0"/>
<rect x="573.41" y="100.10" width="4.4" height="4.4" fill="#ffffff" stroke="#1a1a1a" stroke-width="1.0"/>
<rect x="581.68" y="101.20" width="4.4" height="4.4" fill="#ffffff" stroke="#1a1a1a" stroke-width="1.0"/>
<rect x="589.95" y="101.60" width="4.4" height="4.4" fill="#ffffff" stroke="#1a1a1a" stroke-width="1.0"/>
<rect x="598.22" y="102.30" width="4.4" height="4.4" fill="#ffffff" stroke="#1a1a1a" stroke-width="1.0"/>
<rect x="606.49" y="103.10" width="4.4" height="4.4" fill="#ffffff" stroke="#1a1a1a" stroke-width="1.0"/>
<rect x="614.76" y="103.80" width="4.4" height="4.4" fill="#ffffff" stroke="#1a1a1a" stroke-width="1.0"/>
<rect x="623.03" y="104.00" width="4.4" height="4.4" fill="#ffffff" stroke="#1a1a1a" stroke-width="1.0"/>
<rect x="631.30" y="104.20" width="4.4" height="4.4" fill="#ffffff" stroke="#1a1a1a" stroke-width="1.0"/>
<rect x="639.57" y="104.30" width="4.4" height="4.4" fill="#ffffff" stroke="#1a1a1a" stroke-width="1.0"/>
<rect x="647.84" y="104.40" width="4.4" height="4.4" fill="#ffffff" stroke="#1a1a1a" stroke-width="1.0"/>
<rect x="656.11" y="104.50" width="4.4" height="4.4" fill="#ffffff" stroke="#1a1a1a" stroke-width="1.0"/>
<rect x="664.38" y="104.60" width="4.4" height="4.4" fill="#ffffff" stroke="#1a1a1a" stroke-width="1.0"/>
<rect x="672.65" y="104.70" width="4.4" height="4.4" fill="#ffffff" stroke="#1a1a1a" stroke-width="1.0"/>
<circle cx="385.40" cy="23.90" r="2.65" fill="url(#bp)"/>
<circle cx="393.67" cy="25.30" r="2.65" fill="url(#bp)"/>
<circle cx="401.94" cy="27.80" r="2.65" fill="url(#bp)"/>
<circle cx="410.21" cy="30.10" r="2.65" fill="url(#bp)"/>
<circle cx="418.48" cy="32.90" r="2.65" fill="url(#bp)"/>
<circle cx="426.75" cy="35.50" r="2.65" fill="url(#bp)"/>
<circle cx="435.02" cy="38.20" r="2.65" fill="url(#bp)"/>
<circle cx="443.29" cy="41.40" r="2.65" fill="url(#bp)"/>
<circle cx="451.56" cy="44.70" r="2.65" fill="url(#bp)"/>
<circle cx="459.83" cy="48.00" r="2.65" fill="url(#bp)"/>
<circle cx="468.10" cy="51.30" r="2.65" fill="url(#bp)"/>
<circle cx="476.37" cy="54.50" r="2.65" fill="url(#bp)"/>
<circle cx="484.64" cy="58.20" r="2.65" fill="url(#bp)"/>
<circle cx="492.91" cy="61.50" r="2.65" fill="url(#bp)"/>
<circle cx="501.18" cy="65.00" r="2.65" fill="url(#bp)"/>
<circle cx="509.45" cy="68.80" r="2.65" fill="url(#bp)"/>
<circle cx="517.72" cy="72.30" r="2.65" fill="url(#bp)"/>
<circle cx="525.99" cy="75.70" r="2.65" fill="url(#bp)"/>
<circle cx="534.26" cy="79.10" r="2.65" fill="url(#bp)"/>
<circle cx="542.53" cy="82.50" r="2.65" fill="url(#bp)"/>
<circle cx="550.80" cy="86.00" r="2.65" fill="url(#bp)"/>
<circle cx="559.07" cy="89.40" r="2.65" fill="url(#bp)"/>
<circle cx="567.34" cy="92.60" r="2.65" fill="url(#bp)"/>
<circle cx="575.61" cy="95.20" r="2.65" fill="url(#bp)"/>
<circle cx="583.88" cy="97.80" r="2.65" fill="url(#bp)"/>
<circle cx="592.15" cy="99.60" r="2.65" fill="url(#bp)"/>
<circle cx="600.42" cy="100.80" r="2.65" fill="url(#bp)"/>
<circle cx="608.69" cy="101.50" r="2.65" fill="url(#bp)"/>
<circle cx="616.96" cy="101.90" r="2.65" fill="url(#bp)"/>
<circle cx="625.23" cy="102.10" r="2.65" fill="url(#bp)"/>
<circle cx="633.50" cy="102.20" r="2.65" fill="url(#bp)"/>
<circle cx="641.77" cy="102.30" r="2.65" fill="url(#bp)"/>
<circle cx="650.04" cy="102.40" r="2.65" fill="url(#bp)"/>
<circle cx="658.31" cy="102.50" r="2.65" fill="url(#bp)"/>
<circle cx="666.58" cy="102.50" r="2.65" fill="url(#bp)"/>
<circle cx="674.85" cy="102.60" r="2.65" fill="url(#bp)"/>
<circle cx="385.40" cy="19.50" r="2.65" fill="url(#bb)"/>
<circle cx="393.67" cy="20.90" r="2.65" fill="url(#bb)"/>
<circle cx="401.94" cy="23.60" r="2.65" fill="url(#bb)"/>
<circle cx="410.21" cy="26.40" r="2.65" fill="url(#bb)"/>
<circle cx="418.48" cy="29.30" r="2.65" fill="url(#bb)"/>
<circle cx="426.75" cy="32.30" r="2.65" fill="url(#bb)"/>
<circle cx="435.02" cy="35.50" r="2.65" fill="url(#bb)"/>
<circle cx="443.29" cy="38.80" r="2.65" fill="url(#bb)"/>
<circle cx="451.56" cy="42.10" r="2.65" fill="url(#bb)"/>
<circle cx="459.83" cy="45.50" r="2.65" fill="url(#bb)"/>
<circle cx="468.10" cy="48.70" r="2.65" fill="url(#bb)"/>
<circle cx="476.37" cy="53.20" r="2.65" fill="url(#bb)"/>
<circle cx="484.64" cy="56.40" r="2.65" fill="url(#bb)"/>
<circle cx="492.91" cy="60.40" r="2.65" fill="url(#bb)"/>
<circle cx="501.18" cy="64.30" r="2.65" fill="url(#bb)"/>
<circle cx="509.45" cy="68.40" r="2.65" fill="url(#bb)"/>
<circle cx="517.72" cy="72.00" r="2.65" fill="url(#bb)"/>
<circle cx="525.99" cy="75.40" r="2.65" fill="url(#bb)"/>
<circle cx="534.26" cy="78.90" r="2.65" fill="url(#bb)"/>
<circle cx="542.53" cy="82.30" r="2.65" fill="url(#bb)"/>
<circle cx="550.80" cy="85.90" r="2.65" fill="url(#bb)"/>
<circle cx="559.07" cy="89.60" r="2.65" fill="url(#bb)"/>
<circle cx="567.34" cy="92.90" r="2.65" fill="url(#bb)"/>
<circle cx="575.61" cy="95.00" r="2.65" fill="url(#bb)"/>
<circle cx="583.88" cy="98.70" r="2.65" fill="url(#bb)"/>
<circle cx="592.15" cy="101.20" r="2.65" fill="url(#bb)"/>
<circle cx="600.42" cy="103.40" r="2.65" fill="url(#bb)"/>
<circle cx="608.69" cy="104.60" r="2.65" fill="url(#bb)"/>
<circle cx="616.96" cy="105.30" r="2.65" fill="url(#bb)"/>
<circle cx="625.23" cy="105.70" r="2.65" fill="url(#bb)"/>
<circle cx="633.50" cy="105.90" r="2.65" fill="url(#bb)"/>
<circle cx="641.77" cy="106.00" r="2.65" fill="url(#bb)"/>
<circle cx="650.04" cy="106.10" r="2.65" fill="url(#bb)"/>
<circle cx="658.31" cy="106.20" r="2.65" fill="url(#bb)"/>
<circle cx="666.58" cy="106.30" r="2.65" fill="url(#bb)"/>
<circle cx="674.85" cy="106.40" r="2.65" fill="url(#bb)"/>
<circle cx="385.40" cy="14.40" r="2.5" fill="#ffffff" stroke="#f58a2a" stroke-width="1.0"/>
<circle cx="393.67" cy="16.10" r="2.5" fill="#ffffff" stroke="#f58a2a" stroke-width="1.0"/>
<circle cx="401.94" cy="19.10" r="2.5" fill="#ffffff" stroke="#f58a2a" stroke-width="1.0"/>
<circle cx="410.21" cy="22.10" r="2.5" fill="#ffffff" stroke="#f58a2a" stroke-width="1.0"/>
<circle cx="418.48" cy="25.00" r="2.5" fill="#ffffff" stroke="#f58a2a" stroke-width="1.0"/>
<circle cx="426.75" cy="28.20" r="2.5" fill="#ffffff" stroke="#f58a2a" stroke-width="1.0"/>
<circle cx="435.02" cy="31.50" r="2.5" fill="#ffffff" stroke="#f58a2a" stroke-width="1.0"/>
<circle cx="443.29" cy="34.80" r="2.5" fill="#ffffff" stroke="#f58a2a" stroke-width="1.0"/>
<circle cx="451.56" cy="38.20" r="2.5" fill="#ffffff" stroke="#f58a2a" stroke-width="1.0"/>
<circle cx="459.83" cy="41.40" r="2.5" fill="#ffffff" stroke="#f58a2a" stroke-width="1.0"/>
<circle cx="468.10" cy="44.70" r="2.5" fill="#ffffff" stroke="#f58a2a" stroke-width="1.0"/>
<circle cx="476.37" cy="48.40" r="2.5" fill="#ffffff" stroke="#f58a2a" stroke-width="1.0"/>
<circle cx="484.64" cy="52.30" r="2.5" fill="#ffffff" stroke="#f58a2a" stroke-width="1.0"/>
<circle cx="492.91" cy="56.40" r="2.5" fill="#ffffff" stroke="#f58a2a" stroke-width="1.0"/>
<circle cx="501.18" cy="59.90" r="2.5" fill="#ffffff" stroke="#f58a2a" stroke-width="1.0"/>
<circle cx="509.45" cy="63.70" r="2.5" fill="#ffffff" stroke="#f58a2a" stroke-width="1.0"/>
<circle cx="517.72" cy="66.90" r="2.5" fill="#ffffff" stroke="#f58a2a" stroke-width="1.0"/>
<circle cx="525.99" cy="70.30" r="2.5" fill="#ffffff" stroke="#f58a2a" stroke-width="1.0"/>
<circle cx="534.26" cy="74.20" r="2.5" fill="#ffffff" stroke="#f58a2a" stroke-width="1.0"/>
<circle cx="542.53" cy="77.90" r="2.5" fill="#ffffff" stroke="#f58a2a" stroke-width="1.0"/>
<circle cx="550.80" cy="81.20" r="2.5" fill="#ffffff" stroke="#f58a2a" stroke-width="1.0"/>
<circle cx="559.07" cy="84.70" r="2.5" fill="#ffffff" stroke="#f58a2a" stroke-width="1.0"/>
<circle cx="567.34" cy="88.10" r="2.5" fill="#ffffff" stroke="#f58a2a" stroke-width="1.0"/>
<circle cx="575.61" cy="91.40" r="2.5" fill="#ffffff" stroke="#f58a2a" stroke-width="1.0"/>
<circle cx="583.88" cy="94.30" r="2.5" fill="#ffffff" stroke="#f58a2a" stroke-width="1.0"/>
<circle cx="592.15" cy="97.20" r="2.5" fill="#ffffff" stroke="#f58a2a" stroke-width="1.0"/>
<circle cx="600.42" cy="99.40" r="2.5" fill="#ffffff" stroke="#f58a2a" stroke-width="1.0"/>
<circle cx="608.69" cy="101.30" r="2.5" fill="#ffffff" stroke="#f58a2a" stroke-width="1.0"/>
<circle cx="616.96" cy="102.60" r="2.5" fill="#ffffff" stroke="#f58a2a" stroke-width="1.0"/>
<circle cx="625.23" cy="103.50" r="2.5" fill="#ffffff" stroke="#f58a2a" stroke-width="1.0"/>
<circle cx="633.50" cy="104.00" r="2.5" fill="#ffffff" stroke="#f58a2a" stroke-width="1.0"/>
<circle cx="641.77" cy="104.30" r="2.5" fill="#ffffff" stroke="#f58a2a" stroke-width="1.0"/>
<polyline points="385.40,43.50 386.89,43.57 389.02,43.67 391.41,43.79 393.67,43.92 395.74,44.07 397.80,44.23 399.87,44.40 401.94,44.58 404.01,44.75 406.07,44.92 408.14,45.11 410.21,45.35 412.28,45.63 414.35,45.94 416.41,46.28 418.48,46.67 420.55,47.12 422.62,47.61 424.68,48.14 426.75,48.67 428.82,49.23 430.88,49.80 432.95,50.39 435.02,51.00 437.09,51.63 439.15,52.28 441.22,52.96 443.29,53.65 445.36,54.37 447.42,55.12 449.49,55.87 451.56,56.62 453.63,57.37 455.69,58.13 457.76,58.88 459.83,59.62 461.90,60.36 463.96,61.09 466.03,61.83 468.10,62.58 470.17,63.33 472.23,64.10 474.30,64.88 476.37,65.67 478.44,66.50 480.50,67.34 482.57,68.20 484.64,69.05 486.71,69.90 488.77,70.75 490.84,71.60 492.91,72.45 494.98,73.29 497.04,74.13 499.11,74.97 501.18,75.80 503.25,76.63 505.31,77.45 507.38,78.27 509.45,79.08 511.52,79.87 513.59,80.65 515.65,81.43 517.72,82.22 519.79,83.03 521.86,83.85 523.92,84.67 525.99,85.50 528.06,86.34 530.12,87.18 532.19,88.02 534.26,88.85 536.33,89.67 538.39,90.48 540.46,91.28 542.53,92.08 544.60,92.86 546.66,93.64 548.73,94.41 550.80,95.17 552.87,95.94 554.93,96.69 557.00,97.43 559.07,98.12 561.14,98.79 563.20,99.42 565.27,100.01 567.34,100.55 569.41,101.03 571.47,101.46 573.54,101.85 575.61,102.20 577.68,102.51 579.75,102.78 581.81,103.01 583.88,103.22 585.95,103.41 588.01,103.57 590.08,103.72 592.15,103.88 594.22,104.04 596.28,104.19 598.35,104.36 600.42,104.53 602.49,104.71 604.55,104.90 606.62,105.10 608.69,105.28 610.76,105.44 612.82,105.60 614.89,105.75 616.96,105.88 619.03,105.98 621.10,106.06 623.16,106.14 625.23,106.20 627.30,106.26 629.37,106.30 631.43,106.34 633.50,106.38 635.57,106.41 637.63,106.44 639.70,106.47 641.77,106.50 643.84,106.53 645.90,106.55 647.97,106.58 650.04,106.60 652.11,106.62 654.17,106.65 656.24,106.67 658.31,106.70 660.38,106.73 662.44,106.75 664.51,106.78 666.58,106.80 668.84,106.82 671.23,106.84 673.36,106.86 674.85,106.87" fill="none" stroke="#f52a2a" stroke-width="1.0" stroke-linejoin="round"/>
<polyline points="385.40,24.37 386.89,24.56 389.02,24.83 391.41,25.18 393.67,25.57 395.74,26.04 397.80,26.58 399.87,27.16 401.94,27.75 404.01,28.34 406.07,28.96 408.14,29.59 410.21,30.23 412.28,30.87 414.35,31.52 416.41,32.19 418.48,32.85 420.55,33.51 422.62,34.18 424.68,34.85 426.75,35.52 428.82,36.21 430.88,36.90 432.95,37.60 435.02,38.33 437.09,39.07 439.15,39.85 441.22,40.63 443.29,41.42 445.36,42.23 447.42,43.05 449.49,43.88 451.56,44.70 453.63,45.52 455.69,46.35 457.76,47.18 459.83,48.00 461.90,48.82 463.96,49.63 466.03,50.45 468.10,51.27 470.17,52.10 472.23,52.94 474.30,53.78 476.37,54.62 478.44,55.49 480.50,56.36 482.57,57.23 484.64,58.10 486.71,58.96 488.77,59.82 490.84,60.68 492.91,61.55 494.98,62.42 497.04,63.30 499.11,64.18 501.18,65.08 503.25,65.98 505.31,66.90 507.38,67.82 509.45,68.72 511.52,69.62 513.59,70.51 515.65,71.40 517.72,72.28 519.79,73.14 521.86,74.00 523.92,74.85 525.99,75.70 528.06,76.55 530.12,77.40 532.19,78.25 534.26,79.10 536.33,79.95 538.39,80.81 540.46,81.67 542.53,82.53 544.60,83.39 546.66,84.25 548.73,85.12 550.80,85.97 552.87,86.83 554.93,87.68 557.00,88.53 559.07,89.35 561.14,90.15 563.20,90.94 565.27,91.71 567.34,92.45 569.41,93.17 571.47,93.87 573.54,94.55 575.61,95.20 577.68,95.84 579.75,96.46 581.81,97.05 583.88,97.60 585.95,98.12 588.01,98.60 590.08,99.04 592.15,99.45 594.22,99.81 596.28,100.13 598.35,100.42 600.42,100.67 602.49,100.90 604.55,101.10 606.62,101.27 608.69,101.42 610.76,101.56 612.82,101.67 614.89,101.77 616.96,101.85 619.03,101.92 621.10,101.98 623.16,102.03 625.23,102.08 627.30,102.11 629.37,102.15 631.43,102.17 633.50,102.20 635.57,102.23 637.63,102.25 639.70,102.28 641.77,102.30 643.84,102.33 645.90,102.35 647.97,102.38 650.04,102.40 652.11,102.42 654.17,102.44 656.24,102.46 658.31,102.47 660.38,102.49 662.44,102.50 664.51,102.51 666.58,102.53 668.84,102.54 671.23,102.55 673.36,102.56 674.85,102.57" fill="none" stroke="#f52a2a" stroke-width="1.0" stroke-linejoin="round"/>
<polyline points="385.40,19.97 386.89,20.17 389.02,20.45 391.41,20.80 393.67,21.23 395.74,21.74 397.80,22.33 399.87,22.97 401.94,23.62 404.01,24.29 406.07,24.99 408.14,25.71 410.21,26.43 412.28,27.14 414.35,27.86 416.41,28.59 418.48,29.32 420.55,30.07 422.62,30.82 424.68,31.58 426.75,32.35 428.82,33.13 430.88,33.92 432.95,34.72 435.02,35.52 437.09,36.34 439.15,37.15 441.22,37.98 443.29,38.80 445.36,39.63 447.42,40.46 449.49,41.29 451.56,42.12 453.63,42.95 455.69,43.77 457.76,44.60 459.83,45.45 461.90,46.32 463.96,47.20 466.03,48.11 468.10,49.03 470.17,49.97 472.23,50.94 474.30,51.91 476.37,52.88 478.44,53.81 480.50,54.74 482.57,55.67 484.64,56.60 486.71,57.54 488.77,58.47 490.84,59.42 492.91,60.38 494.98,61.36 497.04,62.35 499.11,63.36 501.18,64.35 503.25,65.34 505.31,66.33 507.38,67.31 509.45,68.28 511.52,69.22 513.59,70.14 515.65,71.05 517.72,71.95 519.79,72.83 521.86,73.70 523.92,74.56 525.99,75.43 528.06,76.29 530.12,77.15 532.19,78.01 534.26,78.88 536.33,79.74 538.39,80.60 540.46,81.47 542.53,82.35 544.60,83.24 546.66,84.13 548.73,85.03 550.80,85.92 552.87,86.83 554.93,87.74 557.00,88.64 559.07,89.50 561.14,90.32 563.20,91.10 565.27,91.86 567.34,92.60 569.41,93.32 571.47,94.01 573.54,94.69 575.61,95.40 577.68,96.14 579.75,96.90 581.81,97.66 583.88,98.40 585.95,99.12 588.01,99.82 590.08,100.50 592.15,101.12 594.22,101.70 596.28,102.23 598.35,102.71 600.42,103.15 602.49,103.54 604.55,103.89 606.62,104.20 608.69,104.47 610.76,104.71 612.82,104.91 614.89,105.07 616.96,105.22 619.03,105.36 621.10,105.47 623.16,105.57 625.23,105.65 627.30,105.72 629.37,105.78 631.43,105.83 633.50,105.88 635.57,105.91 637.63,105.95 639.70,105.97 641.77,106.00 643.84,106.03 645.90,106.05 647.97,106.08 650.04,106.10 652.11,106.12 654.17,106.15 656.24,106.17 658.31,106.20 660.38,106.23 662.44,106.25 664.51,106.28 666.58,106.30 668.84,106.32 671.23,106.34 673.36,106.36 674.85,106.37" fill="none" stroke="#f52a2a" stroke-width="1.0" stroke-linejoin="round"/>
<polyline points="385.40,14.97 386.89,15.20 389.02,15.53 391.41,15.94 393.67,16.43 395.74,17.00 397.80,17.67 399.87,18.38 401.94,19.10 404.01,19.82 406.07,20.57 408.14,21.32 410.21,22.08 412.28,22.82 414.35,23.56 416.41,24.31 418.48,25.07 420.55,25.85 422.62,26.63 424.68,27.43 426.75,28.23 428.82,29.03 430.88,29.85 432.95,30.67 435.02,31.50 437.09,32.33 439.15,33.16 441.22,33.99 443.29,34.83 445.36,35.66 447.42,36.49 449.49,37.32 451.56,38.15 453.63,38.97 455.69,39.78 457.76,40.60 459.83,41.42 461.90,42.26 463.96,43.09 466.03,43.93 468.10,44.80 470.17,45.69 472.23,46.59 474.30,47.51 476.37,48.45 478.44,49.41 480.50,50.38 482.57,51.37 484.64,52.35 486.71,53.33 488.77,54.31 490.84,55.29 492.91,56.25 494.98,57.20 497.04,58.13 499.11,59.06 501.18,59.98 503.25,60.88 505.31,61.78 507.38,62.67 509.45,63.55 511.52,64.41 513.59,65.26 515.65,66.10 517.72,66.95 519.79,67.81 521.86,68.67 523.92,69.54 525.99,70.42 528.06,71.34 530.12,72.28 532.19,73.22 534.26,74.15 536.33,75.07 538.39,75.99 540.46,76.90 542.53,77.80 544.60,78.68 546.66,79.54 548.73,80.39 550.80,81.25 552.87,82.11 554.93,82.97 557.00,83.82 559.07,84.67 561.14,85.53 563.20,86.39 565.27,87.24 567.34,88.08 569.41,88.90 571.47,89.71 573.54,90.51 575.61,91.30 577.68,92.07 579.75,92.83 581.81,93.57 583.88,94.30 585.95,95.01 588.01,95.71 590.08,96.38 592.15,97.03 594.22,97.64 596.28,98.23 598.35,98.79 600.42,99.33 602.49,99.83 604.55,100.30 606.62,100.74 608.69,101.15 610.76,101.53 612.82,101.88 614.89,102.21 616.96,102.50 619.03,102.76 621.10,103.00 623.16,103.21 625.23,103.40 627.30,103.57 629.37,103.71 631.43,103.84 633.50,103.95 635.76,104.05 638.15,104.15 640.28,104.22 641.77,104.28" fill="none" stroke="#f52a2a" stroke-width="1.0" stroke-linejoin="round"/>
<rect x="383.20" y="183.50" width="4.4" height="4.4" fill="#ffffff" stroke="#1a1a1a" stroke-width="1.0"/>
<rect x="391.47" y="181.80" width="4.4" height="4.4" fill="#ffffff" stroke="#1a1a1a" stroke-width="1.0"/>
<rect x="399.74" y="177.20" width="4.4" height="4.4" fill="#ffffff" stroke="#1a1a1a" stroke-width="1.0"/>
<rect x="408.01" y="170.40" width="4.4" height="4.4" fill="#ffffff" stroke="#1a1a1a" stroke-width="1.0"/>
<rect x="416.28" y="164.30" width="4.4" height="4.4" fill="#ffffff" stroke="#1a1a1a" stroke-width="1.0"/>
<rect x="424.55" y="158.00" width="4.4" height="4.4" fill="#ffffff" stroke="#1a1a1a" stroke-width="1.0"/>
<rect x="432.82" y="151.40" width="4.4" height="4.4" fill="#ffffff" stroke="#1a1a1a" stroke-width="1.0"/>
<rect x="441.09" y="146.30" width="4.4" height="4.4" fill="#ffffff" stroke="#1a1a1a" stroke-width="1.0"/>
<rect x="449.36" y="143.10" width="4.4" height="4.4" fill="#ffffff" stroke="#1a1a1a" stroke-width="1.0"/>
<rect x="457.63" y="140.50" width="4.4" height="4.4" fill="#ffffff" stroke="#1a1a1a" stroke-width="1.0"/>
<rect x="465.90" y="138.30" width="4.4" height="4.4" fill="#ffffff" stroke="#1a1a1a" stroke-width="1.0"/>
<rect x="474.17" y="136.80" width="4.4" height="4.4" fill="#ffffff" stroke="#1a1a1a" stroke-width="1.0"/>
<rect x="482.44" y="136.10" width="4.4" height="4.4" fill="#ffffff" stroke="#1a1a1a" stroke-width="1.0"/>
<rect x="490.71" y="135.30" width="4.4" height="4.4" fill="#ffffff" stroke="#1a1a1a" stroke-width="1.0"/>
<rect x="498.98" y="135.30" width="4.4" height="4.4" fill="#ffffff" stroke="#1a1a1a" stroke-width="1.0"/>
<rect x="507.25" y="135.30" width="4.4" height="4.4" fill="#ffffff" stroke="#1a1a1a" stroke-width="1.0"/>
<rect x="515.52" y="135.80" width="4.4" height="4.4" fill="#ffffff" stroke="#1a1a1a" stroke-width="1.0"/>
<rect x="523.79" y="136.80" width="4.4" height="4.4" fill="#ffffff" stroke="#1a1a1a" stroke-width="1.0"/>
<rect x="532.06" y="139.00" width="4.4" height="4.4" fill="#ffffff" stroke="#1a1a1a" stroke-width="1.0"/>
<rect x="540.33" y="142.60" width="4.4" height="4.4" fill="#ffffff" stroke="#1a1a1a" stroke-width="1.0"/>
<rect x="548.60" y="147.00" width="4.4" height="4.4" fill="#ffffff" stroke="#1a1a1a" stroke-width="1.0"/>
<rect x="556.87" y="152.90" width="4.4" height="4.4" fill="#ffffff" stroke="#1a1a1a" stroke-width="1.0"/>
<rect x="565.14" y="160.60" width="4.4" height="4.4" fill="#ffffff" stroke="#1a1a1a" stroke-width="1.0"/>
<rect x="573.41" y="168.90" width="4.4" height="4.4" fill="#ffffff" stroke="#1a1a1a" stroke-width="1.0"/>
<rect x="581.68" y="176.20" width="4.4" height="4.4" fill="#ffffff" stroke="#1a1a1a" stroke-width="1.0"/>
<rect x="589.95" y="182.80" width="4.4" height="4.4" fill="#ffffff" stroke="#1a1a1a" stroke-width="1.0"/>
<rect x="598.22" y="188.30" width="4.4" height="4.4" fill="#ffffff" stroke="#1a1a1a" stroke-width="1.0"/>
<rect x="606.49" y="192.00" width="4.4" height="4.4" fill="#ffffff" stroke="#1a1a1a" stroke-width="1.0"/>
<rect x="614.76" y="194.50" width="4.4" height="4.4" fill="#ffffff" stroke="#1a1a1a" stroke-width="1.0"/>
<rect x="623.03" y="196.70" width="4.4" height="4.4" fill="#ffffff" stroke="#1a1a1a" stroke-width="1.0"/>
<rect x="631.30" y="197.80" width="4.4" height="4.4" fill="#ffffff" stroke="#1a1a1a" stroke-width="1.0"/>
<rect x="639.57" y="198.60" width="4.4" height="4.4" fill="#ffffff" stroke="#1a1a1a" stroke-width="1.0"/>
<rect x="647.84" y="199.60" width="4.4" height="4.4" fill="#ffffff" stroke="#1a1a1a" stroke-width="1.0"/>
<rect x="656.11" y="200.30" width="4.4" height="4.4" fill="#ffffff" stroke="#1a1a1a" stroke-width="1.0"/>
<rect x="664.38" y="201.00" width="4.4" height="4.4" fill="#ffffff" stroke="#1a1a1a" stroke-width="1.0"/>
<rect x="672.65" y="202.10" width="4.4" height="4.4" fill="#ffffff" stroke="#1a1a1a" stroke-width="1.0"/>
<circle cx="385.40" cy="177.00" r="2.65" fill="url(#bp)"/>
<circle cx="393.67" cy="170.40" r="2.65" fill="url(#bp)"/>
<circle cx="401.94" cy="164.80" r="2.65" fill="url(#bp)"/>
<circle cx="410.21" cy="159.40" r="2.65" fill="url(#bp)"/>
<circle cx="418.48" cy="154.30" r="2.65" fill="url(#bp)"/>
<circle cx="426.75" cy="148.50" r="2.65" fill="url(#bp)"/>
<circle cx="435.02" cy="144.40" r="2.65" fill="url(#bp)"/>
<circle cx="443.29" cy="140.90" r="2.65" fill="url(#bp)"/>
<circle cx="451.56" cy="138.30" r="2.65" fill="url(#bp)"/>
<circle cx="459.83" cy="136.10" r="2.65" fill="url(#bp)"/>
<circle cx="468.10" cy="134.60" r="2.65" fill="url(#bp)"/>
<circle cx="476.37" cy="133.90" r="2.65" fill="url(#bp)"/>
<circle cx="484.64" cy="133.90" r="2.65" fill="url(#bp)"/>
<circle cx="492.91" cy="133.90" r="2.65" fill="url(#bp)"/>
<circle cx="501.18" cy="133.90" r="2.65" fill="url(#bp)"/>
<circle cx="509.45" cy="134.20" r="2.65" fill="url(#bp)"/>
<circle cx="517.72" cy="135.10" r="2.65" fill="url(#bp)"/>
<circle cx="525.99" cy="136.50" r="2.65" fill="url(#bp)"/>
<circle cx="534.26" cy="138.30" r="2.65" fill="url(#bp)"/>
<circle cx="542.53" cy="141.20" r="2.65" fill="url(#bp)"/>
<circle cx="550.80" cy="143.80" r="2.65" fill="url(#bp)"/>
<circle cx="559.07" cy="147.80" r="2.65" fill="url(#bp)"/>
<circle cx="567.34" cy="152.60" r="2.65" fill="url(#bp)"/>
<circle cx="575.61" cy="157.30" r="2.65" fill="url(#bp)"/>
<circle cx="583.88" cy="162.40" r="2.65" fill="url(#bp)"/>
<circle cx="592.15" cy="167.50" r="2.65" fill="url(#bp)"/>
<circle cx="600.42" cy="172.60" r="2.65" fill="url(#bp)"/>
<circle cx="608.69" cy="177.00" r="2.65" fill="url(#bp)"/>
<circle cx="616.96" cy="180.90" r="2.65" fill="url(#bp)"/>
<circle cx="625.23" cy="184.30" r="2.65" fill="url(#bp)"/>
<circle cx="633.50" cy="187.50" r="2.65" fill="url(#bp)"/>
<circle cx="641.77" cy="190.10" r="2.65" fill="url(#bp)"/>
<circle cx="650.04" cy="192.30" r="2.65" fill="url(#bp)"/>
<circle cx="658.31" cy="194.50" r="2.65" fill="url(#bp)"/>
<circle cx="666.58" cy="196.70" r="2.65" fill="url(#bp)"/>
<circle cx="674.85" cy="198.40" r="2.65" fill="url(#bp)"/>
<circle cx="385.40" cy="173.30" r="2.65" fill="url(#bb)"/>
<circle cx="393.67" cy="167.90" r="2.65" fill="url(#bb)"/>
<circle cx="401.94" cy="160.60" r="2.65" fill="url(#bb)"/>
<circle cx="410.21" cy="154.60" r="2.65" fill="url(#bb)"/>
<circle cx="418.48" cy="149.70" r="2.65" fill="url(#bb)"/>
<circle cx="426.75" cy="146.50" r="2.65" fill="url(#bb)"/>
<circle cx="435.02" cy="140.50" r="2.65" fill="url(#bb)"/>
<circle cx="443.29" cy="134.60" r="2.65" fill="url(#bb)"/>
<circle cx="451.56" cy="132.10" r="2.65" fill="url(#bb)"/>
<circle cx="459.83" cy="130.20" r="2.65" fill="url(#bb)"/>
<circle cx="468.10" cy="128.80" r="2.65" fill="url(#bb)"/>
<circle cx="476.37" cy="134.80" r="2.65" fill="url(#bb)"/>
<circle cx="484.64" cy="126.30" r="2.65" fill="url(#bb)"/>
<circle cx="492.91" cy="126.30" r="2.65" fill="url(#bb)"/>
<circle cx="501.18" cy="126.30" r="2.65" fill="url(#bb)"/>
<circle cx="509.45" cy="126.30" r="2.65" fill="url(#bb)"/>
<circle cx="517.72" cy="126.90" r="2.65" fill="url(#bb)"/>
<circle cx="525.99" cy="127.80" r="2.65" fill="url(#bb)"/>
<circle cx="534.26" cy="129.20" r="2.65" fill="url(#bb)"/>
<circle cx="542.53" cy="131.00" r="2.65" fill="url(#bb)"/>
<circle cx="550.80" cy="134.60" r="2.65" fill="url(#bb)"/>
<circle cx="559.07" cy="139.00" r="2.65" fill="url(#bb)"/>
<circle cx="567.34" cy="143.80" r="2.65" fill="url(#bb)"/>
<circle cx="575.61" cy="150.00" r="2.65" fill="url(#bb)"/>
<circle cx="583.88" cy="156.50" r="2.65" fill="url(#bb)"/>
<circle cx="592.15" cy="164.60" r="2.65" fill="url(#bb)"/>
<circle cx="600.42" cy="171.90" r="2.65" fill="url(#bb)"/>
<circle cx="608.69" cy="177.70" r="2.65" fill="url(#bb)"/>
<circle cx="616.96" cy="183.20" r="2.65" fill="url(#bb)"/>
<circle cx="625.23" cy="187.20" r="2.65" fill="url(#bb)"/>
<circle cx="633.50" cy="190.10" r="2.65" fill="url(#bb)"/>
<circle cx="641.77" cy="192.00" r="2.65" fill="url(#bb)"/>
<circle cx="650.04" cy="194.00" r="2.65" fill="url(#bb)"/>
<circle cx="658.31" cy="195.50" r="2.65" fill="url(#bb)"/>
<circle cx="666.58" cy="197.00" r="2.65" fill="url(#bb)"/>
<circle cx="674.85" cy="198.90" r="2.65" fill="url(#bb)"/>
<circle cx="385.40" cy="160.20" r="2.5" fill="#ffffff" stroke="#f58a2a" stroke-width="1.0"/>
<circle cx="393.67" cy="155.50" r="2.5" fill="#ffffff" stroke="#f58a2a" stroke-width="1.0"/>
<circle cx="401.94" cy="150.70" r="2.5" fill="#ffffff" stroke="#f58a2a" stroke-width="1.0"/>
<circle cx="410.21" cy="146.30" r="2.5" fill="#ffffff" stroke="#f58a2a" stroke-width="1.0"/>
<circle cx="418.48" cy="143.00" r="2.5" fill="#ffffff" stroke="#f58a2a" stroke-width="1.0"/>
<circle cx="426.75" cy="139.70" r="2.5" fill="#ffffff" stroke="#f58a2a" stroke-width="1.0"/>
<circle cx="435.02" cy="138.00" r="2.5" fill="#ffffff" stroke="#f58a2a" stroke-width="1.0"/>
<circle cx="443.29" cy="135.60" r="2.5" fill="#ffffff" stroke="#f58a2a" stroke-width="1.0"/>
<circle cx="451.56" cy="133.60" r="2.5" fill="#ffffff" stroke="#f58a2a" stroke-width="1.0"/>
<circle cx="459.83" cy="132.40" r="2.5" fill="#ffffff" stroke="#f58a2a" stroke-width="1.0"/>
<circle cx="468.10" cy="131.70" r="2.5" fill="#ffffff" stroke="#f58a2a" stroke-width="1.0"/>
<circle cx="476.37" cy="131.00" r="2.5" fill="#ffffff" stroke="#f58a2a" stroke-width="1.0"/>
<circle cx="484.64" cy="130.70" r="2.5" fill="#ffffff" stroke="#f58a2a" stroke-width="1.0"/>
<circle cx="492.91" cy="130.70" r="2.5" fill="#ffffff" stroke="#f58a2a" stroke-width="1.0"/>
<circle cx="501.18" cy="130.70" r="2.5" fill="#ffffff" stroke="#f58a2a" stroke-width="1.0"/>
<circle cx="509.45" cy="130.70" r="2.5" fill="#ffffff" stroke="#f58a2a" stroke-width="1.0"/>
<circle cx="517.72" cy="131.00" r="2.5" fill="#ffffff" stroke="#f58a2a" stroke-width="1.0"/>
<circle cx="525.99" cy="131.70" r="2.5" fill="#ffffff" stroke="#f58a2a" stroke-width="1.0"/>
<circle cx="534.26" cy="133.60" r="2.5" fill="#ffffff" stroke="#f58a2a" stroke-width="1.0"/>
<circle cx="542.53" cy="134.60" r="2.5" fill="#ffffff" stroke="#f58a2a" stroke-width="1.0"/>
<circle cx="550.80" cy="136.10" r="2.5" fill="#ffffff" stroke="#f58a2a" stroke-width="1.0"/>
<circle cx="559.07" cy="137.50" r="2.5" fill="#ffffff" stroke="#f58a2a" stroke-width="1.0"/>
<circle cx="567.34" cy="139.40" r="2.5" fill="#ffffff" stroke="#f58a2a" stroke-width="1.0"/>
<circle cx="575.61" cy="142.70" r="2.5" fill="#ffffff" stroke="#f58a2a" stroke-width="1.0"/>
<circle cx="583.88" cy="147.00" r="2.5" fill="#ffffff" stroke="#f58a2a" stroke-width="1.0"/>
<circle cx="592.15" cy="152.60" r="2.5" fill="#ffffff" stroke="#f58a2a" stroke-width="1.0"/>
<circle cx="600.42" cy="159.40" r="2.5" fill="#ffffff" stroke="#f58a2a" stroke-width="1.0"/>
<circle cx="608.69" cy="166.00" r="2.5" fill="#ffffff" stroke="#f58a2a" stroke-width="1.0"/>
<circle cx="616.96" cy="172.10" r="2.5" fill="#ffffff" stroke="#f58a2a" stroke-width="1.0"/>
<circle cx="625.23" cy="178.40" r="2.5" fill="#ffffff" stroke="#f58a2a" stroke-width="1.0"/>
<circle cx="633.50" cy="183.10" r="2.5" fill="#ffffff" stroke="#f58a2a" stroke-width="1.0"/>
<circle cx="641.77" cy="187.20" r="2.5" fill="#ffffff" stroke="#f58a2a" stroke-width="1.0"/>
<polyline points="385.40,184.51 386.89,184.23 389.02,183.84 391.41,183.31 393.67,182.63 395.74,181.78 397.80,180.78 399.87,179.65 401.94,178.44 404.01,177.13 406.07,175.70 408.14,174.22 410.21,172.71 412.28,171.19 414.35,169.62 416.41,168.03 418.48,166.45 420.55,164.87 422.62,163.29 424.68,161.71 426.75,160.17 428.82,158.64 430.88,157.13 432.95,155.66 435.02,154.26 437.09,152.93 439.15,151.66 441.22,150.46 443.29,149.34 445.36,148.32 447.42,147.37 449.49,146.49 451.56,145.67 453.63,144.90 455.69,144.20 457.76,143.55 459.83,142.93 461.90,142.35 463.96,141.81 466.03,141.30 468.10,140.84 470.17,140.41 472.23,140.02 474.30,139.66 476.37,139.34 478.44,139.05 480.50,138.79 482.57,138.57 484.64,138.36 486.71,138.18 488.77,138.03 490.84,137.90 492.91,137.79 494.98,137.71 497.04,137.64 499.11,137.60 501.18,137.58 503.25,137.58 505.31,137.60 507.38,137.65 509.45,137.72 511.52,137.82 513.59,137.94 515.65,138.09 517.72,138.29 519.79,138.54 521.86,138.82 523.92,139.16 525.99,139.57 528.06,140.04 530.12,140.57 532.19,141.18 534.26,141.85 536.33,142.60 538.39,143.42 540.46,144.31 542.53,145.28 544.60,146.33 546.66,147.44 548.73,148.64 550.80,149.93 552.87,151.30 554.93,152.76 557.00,154.30 559.07,155.91 561.14,157.60 563.20,159.39 565.27,161.22 567.34,163.07 569.41,164.96 571.47,166.89 573.54,168.82 575.61,170.72 577.68,172.59 579.75,174.44 581.81,176.25 583.88,178.01 585.95,179.70 588.01,181.35 590.08,182.93 592.15,184.43 594.22,185.86 596.28,187.21 598.35,188.49 600.42,189.68 602.49,190.78 604.55,191.80 606.62,192.74 608.69,193.62 610.76,194.42 612.82,195.15 614.89,195.82 616.96,196.44 619.03,197.02 621.10,197.54 623.16,198.01 625.23,198.45 627.30,198.85 629.37,199.20 631.43,199.53 633.50,199.83 635.57,200.11 637.63,200.37 639.70,200.60 641.77,200.84 643.84,201.06 645.90,201.28 647.97,201.49 650.04,201.70 652.11,201.91 654.17,202.11 656.24,202.31 658.31,202.51 660.38,202.70 662.44,202.90 664.51,203.09 666.58,203.26 668.84,203.41 671.23,203.54 673.36,203.65 674.85,203.72" fill="none" stroke="#f52a2a" stroke-width="1.0" stroke-linejoin="round"/>
<polyline points="385.40,173.42 386.89,172.89 389.02,172.16 391.41,171.25 393.67,170.24 395.74,169.07 397.80,167.74 399.87,166.34 401.94,164.96 404.01,163.60 406.07,162.22 408.14,160.84 410.21,159.48 412.28,158.13 414.35,156.79 416.41,155.47 418.48,154.16 420.55,152.87 422.62,151.59 424.68,150.33 426.75,149.13 428.82,147.98 430.88,146.86 432.95,145.80 435.02,144.79 437.09,143.84 439.15,142.94 441.22,142.10 443.29,141.30 445.36,140.55 447.42,139.84 449.49,139.18 451.56,138.55 453.63,137.96 455.69,137.41 457.76,136.90 459.83,136.44 461.90,136.01 463.96,135.63 466.03,135.29 468.10,134.99 470.17,134.73 472.23,134.53 474.30,134.35 476.37,134.21 478.44,134.10 480.50,134.03 482.57,133.98 484.64,133.94 486.71,133.92 488.77,133.91 490.84,133.91 492.91,133.92 494.98,133.93 497.04,133.96 499.11,133.99 501.18,134.05 503.25,134.13 505.31,134.22 507.38,134.33 509.45,134.47 511.52,134.65 513.59,134.85 515.65,135.08 517.72,135.35 519.79,135.65 521.86,135.98 523.92,136.35 525.99,136.75 528.06,137.19 530.12,137.66 532.19,138.17 534.26,138.72 536.33,139.30 538.39,139.91 540.46,140.56 542.53,141.24 544.60,141.96 546.66,142.72 548.73,143.51 550.80,144.36 552.87,145.25 554.93,146.18 557.00,147.16 559.07,148.18 561.14,149.24 563.20,150.35 565.27,151.48 567.34,152.64 569.41,153.81 571.47,155.01 573.54,156.22 575.61,157.44 577.68,158.68 579.75,159.92 581.81,161.17 583.88,162.43 585.95,163.68 588.01,164.95 590.08,166.21 592.15,167.46 594.22,168.69 596.28,169.92 598.35,171.13 600.42,172.31 602.49,173.46 604.55,174.58 606.62,175.67 608.69,176.74 610.76,177.77 612.82,178.76 614.89,179.73 616.96,180.67 619.03,181.58 621.10,182.47 623.16,183.32 625.23,184.16 627.30,184.96 629.37,185.75 631.43,186.51 633.50,187.24 635.57,187.94 637.63,188.62 639.70,189.28 641.77,189.91 643.84,190.53 645.90,191.12 647.97,191.70 650.04,192.28 652.11,192.84 654.17,193.40 656.24,193.94 658.31,194.47 660.38,194.98 662.44,195.49 664.51,195.96 666.58,196.37 668.84,196.72 671.23,197.01 673.36,197.25 674.85,197.41" fill="none" stroke="#f52a2a" stroke-width="1.0" stroke-linejoin="round"/>
<polyline points="385.40,170.14 386.89,169.60 389.02,168.84 391.41,167.90 393.67,166.82 395.74,165.55 397.80,164.09 399.87,162.54 401.94,161.04 404.01,159.56 406.07,158.07 408.14,156.60 410.21,155.20 412.28,153.89 414.35,152.64 416.41,151.43 418.48,150.23 420.55,149.05 422.62,147.90 424.68,146.75 426.75,145.56 428.82,144.33 430.88,143.07 432.95,141.81 435.02,140.57 437.09,139.36 439.15,138.14 441.22,136.98 443.29,135.92 445.36,134.95 447.42,134.06 449.49,133.26 451.56,132.57 453.63,132.00 455.69,131.53 457.76,131.16 459.83,130.89 461.90,130.74 463.96,130.71 466.03,130.72 468.10,130.70 470.17,130.66 472.23,130.63 474.30,130.55 476.37,130.36 478.44,130.01 480.50,129.56 482.57,129.06 484.64,128.58 486.71,128.11 488.77,127.63 490.84,127.18 492.91,126.83 494.98,126.60 497.04,126.46 499.11,126.38 501.18,126.34 503.25,126.33 505.31,126.38 507.38,126.45 509.45,126.54 511.52,126.65 513.59,126.77 515.65,126.91 517.72,127.08 519.79,127.28 521.86,127.50 523.92,127.75 525.99,128.03 528.06,128.34 530.12,128.68 532.19,129.06 534.26,129.49 536.33,129.98 538.39,130.51 540.46,131.09 542.53,131.75 544.60,132.48 546.66,133.27 548.73,134.12 550.80,135.04 552.87,136.01 554.93,137.05 557.00,138.14 559.07,139.29 561.14,140.48 563.20,141.72 565.27,143.02 567.34,144.37 569.41,145.77 571.47,147.23 573.54,148.74 575.61,150.30 577.68,151.92 579.75,153.60 581.81,155.32 583.88,157.07 585.95,158.85 588.01,160.68 590.08,162.51 592.15,164.31 594.22,166.09 596.28,167.86 598.35,169.59 600.42,171.27 602.49,172.88 604.55,174.45 606.62,175.96 608.69,177.40 610.76,178.78 612.82,180.10 614.89,181.36 616.96,182.55 619.03,183.67 621.10,184.72 623.16,185.71 625.23,186.63 627.30,187.48 629.37,188.26 631.43,188.98 633.50,189.66 635.57,190.30 637.63,190.88 639.70,191.42 641.77,191.94 643.84,192.45 645.90,192.92 647.97,193.37 650.04,193.82 652.11,194.26 654.17,194.68 656.24,195.09 658.31,195.49 660.38,195.90 662.44,196.29 664.51,196.66 666.58,196.99 668.84,197.28 671.23,197.53 673.36,197.73 674.85,197.88" fill="none" stroke="#f52a2a" stroke-width="1.0" stroke-linejoin="round"/>
<polyline points="385.40,157.58 386.89,157.17 389.02,156.60 391.41,155.89 393.67,155.10 395.74,154.17 397.80,153.11 399.87,152.00 401.94,150.91 404.01,149.85 406.07,148.79 408.14,147.74 410.21,146.74 412.28,145.79 414.35,144.87 416.41,144.00 418.48,143.17 420.55,142.38 422.62,141.64 424.68,140.93 426.75,140.26 428.82,139.61 430.88,139.01 432.95,138.43 435.02,137.86 437.09,137.31 439.15,136.77 441.22,136.25 443.29,135.76 445.36,135.27 447.42,134.81 449.49,134.37 451.56,133.96 453.63,133.58 455.69,133.24 457.76,132.93 459.83,132.64 461.90,132.38 463.96,132.15 466.03,131.95 468.10,131.76 470.17,131.58 472.23,131.43 474.30,131.29 476.37,131.17 478.44,131.06 480.50,130.97 482.57,130.90 484.64,130.84 486.71,130.79 488.77,130.76 490.84,130.74 492.91,130.72 494.98,130.71 497.04,130.70 499.11,130.71 501.18,130.72 503.25,130.73 505.31,130.75 507.38,130.78 509.45,130.84 511.52,130.91 513.59,130.99 515.65,131.10 517.72,131.24 519.79,131.42 521.86,131.63 523.92,131.86 525.99,132.12 528.06,132.40 530.12,132.71 532.19,133.04 534.26,133.37 536.33,133.70 538.39,134.04 540.46,134.38 542.53,134.72 544.60,135.07 546.66,135.41 548.73,135.76 550.80,136.12 552.87,136.50 554.93,136.89 557.00,137.31 559.07,137.77 561.14,138.27 563.20,138.79 565.27,139.37 567.34,140.02 569.41,140.73 571.47,141.50 573.54,142.33 575.61,143.24 577.68,144.23 579.75,145.29 581.81,146.42 583.88,147.62 585.95,148.90 588.01,150.26 590.08,151.67 592.15,153.12 594.22,154.62 596.28,156.18 598.35,157.77 600.42,159.37 602.49,160.97 604.55,162.59 606.62,164.21 608.69,165.81 610.76,167.40 612.82,168.97 614.89,170.53 616.96,172.04 619.03,173.54 621.10,175.01 623.16,176.43 625.23,177.78 627.30,179.07 629.37,180.31 631.43,181.45 633.50,182.43 635.76,183.26 638.15,183.94 640.28,184.49 641.77,184.87" fill="none" stroke="#f52a2a" stroke-width="1.0" stroke-linejoin="round"/>
<rect x="385.5" y="11.8" width="289.29999999999995" height="100.0" fill="none" stroke="#2a2a2a" stroke-width="1"/>
<rect x="385.5" y="111.8" width="289.29999999999995" height="100.50000000000001" fill="none" stroke="#2a2a2a" stroke-width="1"/>
<text x="0" y="0" font-size="13.4" font-weight="bold" text-anchor="end" transform="translate(380.80,113.50) scale(1,1.0)">10<tspan font-size='8.8' dy='-5.40'>1</tspan></text>
<text x="0" y="0" font-size="13.4" font-weight="bold" text-anchor="end" transform="translate(380.80,90.20) scale(1,1.0)">10<tspan font-size='8.8' dy='-5.40'>2</tspan></text>
<text x="0" y="0" font-size="13.4" font-weight="bold" text-anchor="end" transform="translate(380.80,66.90) scale(1,1.0)">10<tspan font-size='8.8' dy='-5.40'>3</tspan></text>
<text x="0" y="0" font-size="13.4" font-weight="bold" text-anchor="end" transform="translate(380.80,43.60) scale(1,1.0)">10<tspan font-size='8.8' dy='-5.40'>4</tspan></text>
<text x="0" y="0" font-size="13.4" font-weight="bold" text-anchor="end" transform="translate(380.80,20.30) scale(1,1.0)">10<tspan font-size='8.8' dy='-5.40'>5</tspan></text>
<text x="0" y="0" font-size="13.4" font-weight="bold" text-anchor="end" transform="translate(381.30,210.80) scale(1,1.0)">0</text>
<text x="0" y="0" font-size="13.4" font-weight="bold" text-anchor="end" transform="translate(381.30,188.45) scale(1,1.0)">20</text>
<text x="0" y="0" font-size="13.4" font-weight="bold" text-anchor="end" transform="translate(381.30,166.10) scale(1,1.0)">40</text>
<text x="0" y="0" font-size="13.4" font-weight="bold" text-anchor="end" transform="translate(381.30,143.75) scale(1,1.0)">60</text>
<text x="0" y="0" font-size="13.4" font-weight="bold" text-anchor="end" transform="translate(381.30,121.40) scale(1,1.0)">80</text>
<text x="0" y="0" font-size="13.4" font-weight="bold" text-anchor="middle" transform="translate(385.40,228.90) scale(1,1.0)">10<tspan font-size='9.4' dy='-5.00'>−2</tspan></text>
<text x="0" y="0" font-size="13.4" font-weight="bold" text-anchor="middle" transform="translate(426.74,228.90) scale(1,1.0)">10<tspan font-size='9.4' dy='-5.00'>−1</tspan></text>
<text x="0" y="0" font-size="13.4" font-weight="bold" text-anchor="middle" transform="translate(468.09,228.90) scale(1,1.0)">10<tspan font-size='9.4' dy='-5.00'>0</tspan></text>
<text x="0" y="0" font-size="13.4" font-weight="bold" text-anchor="middle" transform="translate(509.43,228.90) scale(1,1.0)">10<tspan font-size='9.4' dy='-5.00'>1</tspan></text>
<text x="0" y="0" font-size="13.4" font-weight="bold" text-anchor="middle" transform="translate(550.77,228.90) scale(1,1.0)">10<tspan font-size='9.4' dy='-5.00'>2</tspan></text>
<text x="0" y="0" font-size="13.4" font-weight="bold" text-anchor="middle" transform="translate(592.11,228.90) scale(1,1.0)">10<tspan font-size='9.4' dy='-5.00'>3</tspan></text>
<text x="0" y="0" font-size="13.4" font-weight="bold" text-anchor="middle" transform="translate(633.46,228.90) scale(1,1.0)">10<tspan font-size='9.4' dy='-5.00'>4</tspan></text>
<text x="0" y="0" font-size="13.4" font-weight="bold" text-anchor="middle" transform="translate(674.80,228.90) scale(1,1.0)">10<tspan font-size='9.4' dy='-5.00'>5</tspan></text>
<text x="469.00" y="245.60" font-size="16.9" font-weight="bold" text-anchor="start" >Frequence (Hz)</text>
<text x="0.00" y="0.00" font-size="16.9" font-weight="bold" text-anchor="middle" transform="translate(351.4,64.8) rotate(-90)">|Z| (Ω·cm<tspan font-size='10' dy='-7'>2</tspan><tspan dy='7'>)</tspan></text>
<text x="0.00" y="0.00" font-size="16.95" font-weight="bold" text-anchor="middle" transform="translate(351.4,162.1) rotate(-90)">-Phase (degree)</text>
<text x="327.40" y="16.70" font-size="22.5" font-weight="bold" text-anchor="start" >(a<tspan font-size='15' dy='5.5'>2</tspan><tspan dy='-5.5'>)</tspan></text>
<rect x="62.5" y="261.0" width="253.0" height="203.0" fill="url(#g)" stroke="none"/>
<line x1="71.60" y1="464.00" x2="71.60" y2="460.50" stroke="#2a2a2a" stroke-width="1"/>
<line x1="120.30" y1="464.00" x2="120.30" y2="460.50" stroke="#2a2a2a" stroke-width="1"/>
<line x1="169.00" y1="464.00" x2="169.00" y2="460.50" stroke="#2a2a2a" stroke-width="1"/>
<line x1="217.70" y1="464.00" x2="217.70" y2="460.50" stroke="#2a2a2a" stroke-width="1"/>
<line x1="266.40" y1="464.00" x2="266.40" y2="460.50" stroke="#2a2a2a" stroke-width="1"/>
<line x1="315.10" y1="464.00" x2="315.10" y2="460.50" stroke="#2a2a2a" stroke-width="1"/>
<line x1="95.95" y1="464.00" x2="95.95" y2="462.00" stroke="#2a2a2a" stroke-width="1"/>
<line x1="144.65" y1="464.00" x2="144.65" y2="462.00" stroke="#2a2a2a" stroke-width="1"/>
<line x1="193.35" y1="464.00" x2="193.35" y2="462.00" stroke="#2a2a2a" stroke-width="1"/>
<line x1="242.05" y1="464.00" x2="242.05" y2="462.00" stroke="#2a2a2a" stroke-width="1"/>
<line x1="290.75" y1="464.00" x2="290.75" y2="462.00" stroke="#2a2a2a" stroke-width="1"/>
<line x1="62.50" y1="455.60" x2="66.00" y2="455.60" stroke="#2a2a2a" stroke-width="1"/>
<line x1="62.50" y1="416.80" x2="66.00" y2="416.80" stroke="#2a2a2a" stroke-width="1"/>
<line x1="62.50" y1="378.00" x2="66.00" y2="378.00" stroke="#2a2a2a" stroke-width="1"/>
<line x1="62.50" y1="339.20" x2="66.00" y2="339.20" stroke="#2a2a2a" stroke-width="1"/>
<line x1="62.50" y1="300.40" x2="66.00" y2="300.40" stroke="#2a2a2a" stroke-width="1"/>
<line x1="62.50" y1="261.60" x2="66.00" y2="261.60" stroke="#2a2a2a" stroke-width="1"/>
<line x1="62.50" y1="436.20" x2="64.50" y2="436.20" stroke="#2a2a2a" stroke-width="1"/>
<line x1="62.50" y1="397.40" x2="64.50" y2="397.40" stroke="#2a2a2a" stroke-width="1"/>
<line x1="62.50" y1="358.60" x2="64.50" y2="358.60" stroke="#2a2a2a" stroke-width="1"/>
<line x1="62.50" y1="319.80" x2="64.50" y2="319.80" stroke="#2a2a2a" stroke-width="1"/>
<line x1="62.50" y1="281.00" x2="64.50" y2="281.00" stroke="#2a2a2a" stroke-width="1"/>
<rect x="70.08" y="452.55" width="4.4" height="4.4" fill="#ffffff" stroke="#1a1a1a" stroke-width="1.0"/>
<rect x="70.57" y="451.93" width="4.4" height="4.4" fill="#ffffff" stroke="#1a1a1a" stroke-width="1.0"/>
<rect x="71.25" y="451.15" width="4.4" height="4.4" fill="#ffffff" stroke="#1a1a1a" stroke-width="1.0"/>
<rect x="72.13" y="450.14" width="4.4" height="4.4" fill="#ffffff" stroke="#1a1a1a" stroke-width="1.0"/>
<rect x="73.39" y="448.74" width="4.4" height="4.4" fill="#ffffff" stroke="#1a1a1a" stroke-width="1.0"/>
<rect x="75.24" y="446.88" width="4.4" height="4.4" fill="#ffffff" stroke="#1a1a1a" stroke-width="1.0"/>
<rect x="77.68" y="444.55" width="4.4" height="4.4" fill="#ffffff" stroke="#1a1a1a" stroke-width="1.0"/>
<rect x="81.09" y="441.60" width="4.4" height="4.4" fill="#ffffff" stroke="#1a1a1a" stroke-width="1.0"/>
<rect x="85.76" y="438.19" width="4.4" height="4.4" fill="#ffffff" stroke="#1a1a1a" stroke-width="1.0"/>
<rect x="92.09" y="434.78" width="4.4" height="4.4" fill="#ffffff" stroke="#1a1a1a" stroke-width="1.0"/>
<rect x="99.30" y="430.59" width="4.4" height="4.4" fill="#ffffff" stroke="#1a1a1a" stroke-width="1.0"/>
<rect x="107.87" y="426.32" width="4.4" height="4.4" fill="#ffffff" stroke="#1a1a1a" stroke-width="1.0"/>
<rect x="118.39" y="420.42" width="4.4" height="4.4" fill="#ffffff" stroke="#1a1a1a" stroke-width="1.0"/>
<rect x="139.53" y="409.56" width="4.4" height="4.4" fill="#ffffff" stroke="#1a1a1a" stroke-width="1.0"/>
<rect x="162.22" y="400.17" width="4.4" height="4.4" fill="#ffffff" stroke="#1a1a1a" stroke-width="1.0"/>
<rect x="183.84" y="391.79" width="4.4" height="4.4" fill="#ffffff" stroke="#1a1a1a" stroke-width="1.0"/>
<rect x="208.78" y="382.78" width="4.4" height="4.4" fill="#ffffff" stroke="#1a1a1a" stroke-width="1.0"/>
<rect x="237.22" y="372.77" width="4.4" height="4.4" fill="#ffffff" stroke="#1a1a1a" stroke-width="1.0"/>
<rect x="276.38" y="359.19" width="4.4" height="4.4" fill="#ffffff" stroke="#1a1a1a" stroke-width="1.0"/>
<circle cx="72.18" cy="454.59" r="2.65" fill="url(#bp)"/>
<circle cx="72.67" cy="453.82" r="2.65" fill="url(#bp)"/>
<circle cx="73.35" cy="452.81" r="2.65" fill="url(#bp)"/>
<circle cx="74.23" cy="451.56" r="2.65" fill="url(#bp)"/>
<circle cx="75.50" cy="449.86" r="2.65" fill="url(#bp)"/>
<circle cx="77.25" cy="447.68" r="2.65" fill="url(#bp)"/>
<circle cx="79.59" cy="444.89" r="2.65" fill="url(#bp)"/>
<circle cx="82.90" cy="441.48" r="2.65" fill="url(#bp)"/>
<circle cx="87.48" cy="437.36" r="2.65" fill="url(#bp)"/>
<circle cx="93.51" cy="432.71" r="2.65" fill="url(#bp)"/>
<circle cx="101.50" cy="427.20" r="2.65" fill="url(#bp)"/>
<circle cx="112.70" cy="421.30" r="2.65" fill="url(#bp)"/>
<circle cx="126.53" cy="415.02" r="2.65" fill="url(#bp)"/>
<circle cx="142.31" cy="408.81" r="2.65" fill="url(#bp)"/>
<circle cx="161.40" cy="405.39" r="2.65" fill="url(#bp)"/>
<circle cx="182.05" cy="402.60" r="2.65" fill="url(#bp)"/>
<circle cx="206.01" cy="402.37" r="2.65" fill="url(#bp)"/>
<circle cx="72.18" cy="454.59" r="2.65" fill="url(#bb)"/>
<circle cx="72.67" cy="453.82" r="2.65" fill="url(#bb)"/>
<circle cx="73.35" cy="452.81" r="2.65" fill="url(#bb)"/>
<circle cx="74.33" cy="451.49" r="2.65" fill="url(#bb)"/>
<circle cx="75.59" cy="449.86" r="2.65" fill="url(#bb)"/>
<circle cx="77.44" cy="447.68" r="2.65" fill="url(#bb)"/>
<circle cx="79.98" cy="444.89" r="2.65" fill="url(#bb)"/>
<circle cx="83.48" cy="441.24" r="2.65" fill="url(#bb)"/>
<circle cx="88.35" cy="436.98" r="2.65" fill="url(#bb)"/>
<circle cx="96.73" cy="431.93" r="2.65" fill="url(#bb)"/>
<circle cx="106.18" cy="426.89" r="2.65" fill="url(#bb)"/>
<circle cx="117.86" cy="421.46" r="2.65" fill="url(#bb)"/>
<circle cx="131.79" cy="416.33" r="2.65" fill="url(#bb)"/>
<circle cx="147.47" cy="411.37" r="2.65" fill="url(#bb)"/>
<circle cx="72.09" cy="454.75" r="2.5" fill="#ffffff" stroke="#f58a2a" stroke-width="1.0"/>
<circle cx="72.57" cy="453.97" r="2.5" fill="#ffffff" stroke="#f58a2a" stroke-width="1.0"/>
<circle cx="73.16" cy="453.04" r="2.5" fill="#ffffff" stroke="#f58a2a" stroke-width="1.0"/>
<circle cx="74.03" cy="451.80" r="2.5" fill="#ffffff" stroke="#f58a2a" stroke-width="1.0"/>
<circle cx="75.30" cy="450.17" r="2.5" fill="#ffffff" stroke="#f58a2a" stroke-width="1.0"/>
<circle cx="77.05" cy="448.00" r="2.5" fill="#ffffff" stroke="#f58a2a" stroke-width="1.0"/>
<circle cx="79.59" cy="445.20" r="2.5" fill="#ffffff" stroke="#f58a2a" stroke-width="1.0"/>
<circle cx="83.09" cy="441.63" r="2.5" fill="#ffffff" stroke="#f58a2a" stroke-width="1.0"/>
<circle cx="88.64" cy="436.82" r="2.5" fill="#ffffff" stroke="#f58a2a" stroke-width="1.0"/>
<circle cx="95.56" cy="432.48" r="2.5" fill="#ffffff" stroke="#f58a2a" stroke-width="1.0"/>
<circle cx="104.42" cy="427.59" r="2.5" fill="#ffffff" stroke="#f58a2a" stroke-width="1.0"/>
<circle cx="117.28" cy="422.31" r="2.5" fill="#ffffff" stroke="#f58a2a" stroke-width="1.0"/>
<circle cx="130.43" cy="418.90" r="2.5" fill="#ffffff" stroke="#f58a2a" stroke-width="1.0"/>
<circle cx="147.47" cy="418.43" r="2.5" fill="#ffffff" stroke="#f58a2a" stroke-width="1.0"/>
<polyline points="71.60,455.60 71.75,455.39 71.94,455.11 72.18,454.77 72.45,454.39 72.74,453.99 73.06,453.58 73.39,453.17 73.73,452.73 74.10,452.28 74.50,451.79 74.97,451.27 75.50,450.71 76.07,450.12 76.68,449.52 77.33,448.87 78.07,448.18 78.91,447.43 79.88,446.60 80.95,445.68 82.10,444.70 83.35,443.64 84.73,442.54 86.26,441.40 87.96,440.24 89.84,439.05 91.87,437.82 94.04,436.56 96.38,435.26 98.86,433.90 101.50,432.48 104.34,430.98 107.38,429.41 110.57,427.79 113.87,426.14 117.23,424.46 120.59,422.78 123.98,421.07 127.43,419.31 130.93,417.54 134.49,415.77 138.09,414.01 141.73,412.30 145.43,410.62 149.22,408.95 153.04,407.30 156.88,405.67 160.68,404.08 164.42,402.52 168.05,401.01 171.59,399.55 175.09,398.12 178.63,396.70 182.26,395.28 186.04,393.83 189.97,392.38 193.98,390.94 198.09,389.49 202.29,388.03 206.58,386.53 210.98,384.98 215.48,383.38 220.08,381.73 224.79,380.04 229.58,378.33 234.46,376.61 239.42,374.90 244.86,373.05 250.88,371.04 256.98,369.03 262.68,367.15 267.51,365.56 270.98,364.42" fill="none" stroke="#f52a2a" stroke-width="1.0" stroke-linejoin="round"/>
<polyline points="71.60,455.60 71.75,455.34 71.94,454.99 72.18,454.57 72.45,454.11 72.74,453.61 73.06,453.12 73.39,452.62 73.74,452.10 74.11,451.56 74.53,450.98 74.98,450.37 75.50,449.70 76.04,449.00 76.60,448.28 77.20,447.52 77.88,446.69 78.67,445.80 79.59,444.81 80.61,443.74 81.71,442.58 82.91,441.36 84.25,440.06 85.76,438.70 87.48,437.29 89.49,435.75 91.80,434.06 94.28,432.32 96.81,430.59 99.26,428.96 101.50,427.51 103.50,426.27 105.35,425.18 107.11,424.19 108.88,423.25 110.72,422.30 112.70,421.30 114.83,420.24 117.05,419.17 119.33,418.09 121.68,417.02 124.09,415.96 126.53,414.94 129.01,413.93 131.53,412.93 134.09,411.95 136.74,410.99 139.47,410.07 142.31,409.20 145.28,408.35 148.37,407.53 151.55,406.74 154.80,406.00 158.09,405.31 161.40,404.69 164.69,404.15 167.98,403.66 171.30,403.23 174.72,402.85 178.29,402.51 182.05,402.21 186.37,401.96 191.26,401.75 196.30,401.59 201.05,401.46 205.08,401.36 207.96,401.28" fill="none" stroke="#f52a2a" stroke-width="1.0" stroke-linejoin="round"/>
<polyline points="71.60,455.60 71.75,455.33 71.94,454.96 72.17,454.53 72.44,454.05 72.74,453.54 73.06,453.04 73.40,452.55 73.76,452.04 74.14,451.52 74.57,450.96 75.05,450.36 75.59,449.70 76.17,449.01 76.77,448.28 77.42,447.52 78.15,446.69 78.99,445.79 79.98,444.81 81.14,443.70 82.47,442.46 83.92,441.15 85.41,439.82 86.91,438.54 88.35,437.36 89.74,436.29 91.11,435.28 92.47,434.32 93.86,433.38 95.27,432.46 96.73,431.54 98.22,430.63 99.72,429.75 101.25,428.88 102.82,428.02 104.46,427.15 106.18,426.27 107.97,425.36 109.82,424.43 111.74,423.50 113.72,422.58 115.76,421.68 117.86,420.84 120.02,420.01 122.23,419.19 124.49,418.41 126.84,417.67 129.27,416.99 131.79,416.41 134.65,415.92 137.88,415.51 141.19,415.17 144.30,414.88 146.95,414.65 148.84,414.47" fill="none" stroke="#f52a2a" stroke-width="1.0" stroke-linejoin="round"/>
<polyline points="71.60,455.60 71.75,455.32 71.95,454.93 72.19,454.47 72.46,453.96 72.76,453.45 73.06,452.96 73.37,452.51 73.67,452.08 74.00,451.63 74.37,451.16 74.80,450.62 75.30,450.01 75.84,449.34 76.40,448.63 77.02,447.87 77.73,447.03 78.57,446.10 79.59,445.05 80.85,443.80 82.33,442.36 83.95,440.83 85.61,439.30 87.20,437.88 88.64,436.67 89.90,435.68 91.04,434.86 92.11,434.15 93.19,433.48 94.32,432.82 95.56,432.09 96.88,431.30 98.22,430.50 99.62,429.70 101.10,428.90 102.69,428.11 104.42,427.35 106.33,426.59 108.40,425.81 110.58,425.05 112.83,424.33 115.07,423.69 117.28,423.16 119.48,422.76 121.71,422.45 123.95,422.23 126.17,422.06 128.34,421.94 130.43,421.84 132.43,421.78 134.37,421.77 136.26,421.80 138.10,421.87 139.92,421.96 141.73,422.08 143.62,422.24 145.62,422.46 147.60,422.71 149.41,422.96 150.94,423.17 152.05,423.32" fill="none" stroke="#f52a2a" stroke-width="1.0" stroke-linejoin="round"/>
<rect x="62.5" y="261.0" width="253.0" height="203.0" fill="none" stroke="#2a2a2a" stroke-width="1"/>
<text x="0" y="0" font-size="13.7" font-weight="bold" text-anchor="middle" transform="translate(71.60,478.90) scale(1,1.0)">0</text>
<text x="0" y="0" font-size="13.7" font-weight="bold" text-anchor="end" transform="translate(58.10,459.60) scale(1,1.0)">0</text>
<text x="0" y="0" font-size="13.7" font-weight="bold" text-anchor="middle" transform="translate(120.30,478.90) scale(1,1.0)">50</text>
<text x="0" y="0" font-size="13.7" font-weight="bold" text-anchor="end" transform="translate(58.10,420.80) scale(1,1.0)">50</text>
<text x="0" y="0" font-size="13.7" font-weight="bold" text-anchor="middle" transform="translate(169.00,478.90) scale(1,1.0)">100</text>
<text x="0" y="0" font-size="13.7" font-weight="bold" text-anchor="end" transform="translate(58.10,382.00) scale(1,1.0)">100</text>
<text x="0" y="0" font-size="13.7" font-weight="bold" text-anchor="middle" transform="translate(217.70,478.90) scale(1,1.0)">150</text>
<text x="0" y="0" font-size="13.7" font-weight="bold" text-anchor="end" transform="translate(58.10,343.20) scale(1,1.0)">150</text>
<text x="0" y="0" font-size="13.7" font-weight="bold" text-anchor="middle" transform="translate(266.40,478.90) scale(1,1.0)">200</text>
<text x="0" y="0" font-size="13.7" font-weight="bold" text-anchor="end" transform="translate(58.10,304.40) scale(1,1.0)">200</text>
<text x="0" y="0" font-size="13.7" font-weight="bold" text-anchor="middle" transform="translate(315.10,478.90) scale(1,1.0)">250</text>
<text x="0" y="0" font-size="13.7" font-weight="bold" text-anchor="end" transform="translate(58.10,265.60) scale(1,1.0)">250</text>
<rect x="85.50" y="268.90" width="4.2" height="4.2" fill="#ffffff" stroke="#1a1a1a" stroke-width="1.0"/>
<circle cx="87.60" cy="285.80" r="2.7" fill="url(#bp)"/>
<circle cx="87.60" cy="299.90" r="2.7" fill="url(#bb)"/>
<circle cx="87.60" cy="314.40" r="2.6" fill="#ffffff" stroke="#f58a2a" stroke-width="1.0"/>
<line x1="74.50" y1="328.50" x2="100.30" y2="328.50" stroke="#f52a2a" stroke-width="1"/>
<text x="103.70" y="275.00" font-size="11.7" font-weight="normal" text-anchor="start" >Before corrosion</text>
<text x="103.70" y="289.80" font-size="11.7" font-weight="normal" text-anchor="start" >10 d</text>
<text x="103.70" y="303.90" font-size="11.7" font-weight="normal" text-anchor="start" >20 d</text>
<text x="103.70" y="318.40" font-size="11.7" font-weight="normal" text-anchor="start" >30 d</text>
<text x="103.70" y="332.50" font-size="11.7" font-weight="normal" text-anchor="start" >Fitting</text>
<text x="205.60" y="454.00" font-size="17.3" font-weight="normal" text-anchor="start" >Pre-passivation</text>
<text x="0.00" y="0.00" font-size="17.3" font-weight="bold" text-anchor="middle" transform="translate(28.6,361.3) rotate(-90)">-Z'' (kΩ·cm<tspan font-size='9.5' dy='-7.5'>2</tspan><tspan dy='7.5'>)</tspan></text>
<text x="153.40" y="499.40" font-size="17.3" font-weight="bold" text-anchor="start" >Z' (kΩ·cm<tspan font-size='9.5' dy='-7.5'>2</tspan><tspan dy='7.5'>)</tspan></text>
<text x="0.80" y="269.20" font-size="22.5" font-weight="bold" text-anchor="start" >(b<tspan font-size='15' dy='6.5'>1</tspan><tspan dy='-6.5'>)</tspan></text>
<rect x="385.0" y="263.4" width="289.5" height="100.60000000000002" fill="url(#g)" stroke="none"/>
<rect x="385.0" y="364.0" width="289.5" height="100.5" fill="url(#g)" stroke="none"/>
<line x1="385.00" y1="364.00" x2="385.00" y2="360.50" stroke="#2a2a2a" stroke-width="1"/>
<line x1="397.45" y1="364.00" x2="397.45" y2="362.00" stroke="#2a2a2a" stroke-width="1"/>
<line x1="404.73" y1="364.00" x2="404.73" y2="362.00" stroke="#2a2a2a" stroke-width="1"/>
<line x1="409.90" y1="364.00" x2="409.90" y2="362.00" stroke="#2a2a2a" stroke-width="1"/>
<line x1="413.91" y1="364.00" x2="413.91" y2="362.00" stroke="#2a2a2a" stroke-width="1"/>
<line x1="417.18" y1="364.00" x2="417.18" y2="362.00" stroke="#2a2a2a" stroke-width="1"/>
<line x1="419.95" y1="364.00" x2="419.95" y2="362.00" stroke="#2a2a2a" stroke-width="1"/>
<line x1="422.35" y1="364.00" x2="422.35" y2="362.00" stroke="#2a2a2a" stroke-width="1"/>
<line x1="424.46" y1="364.00" x2="424.46" y2="362.00" stroke="#2a2a2a" stroke-width="1"/>
<line x1="426.36" y1="364.00" x2="426.36" y2="360.50" stroke="#2a2a2a" stroke-width="1"/>
<line x1="438.81" y1="364.00" x2="438.81" y2="362.00" stroke="#2a2a2a" stroke-width="1"/>
<line x1="446.09" y1="364.00" x2="446.09" y2="362.00" stroke="#2a2a2a" stroke-width="1"/>
<line x1="451.26" y1="364.00" x2="451.26" y2="362.00" stroke="#2a2a2a" stroke-width="1"/>
<line x1="455.26" y1="364.00" x2="455.26" y2="362.00" stroke="#2a2a2a" stroke-width="1"/>
<line x1="458.54" y1="364.00" x2="458.54" y2="362.00" stroke="#2a2a2a" stroke-width="1"/>
<line x1="461.31" y1="364.00" x2="461.31" y2="362.00" stroke="#2a2a2a" stroke-width="1"/>
<line x1="463.71" y1="364.00" x2="463.71" y2="362.00" stroke="#2a2a2a" stroke-width="1"/>
<line x1="465.82" y1="364.00" x2="465.82" y2="362.00" stroke="#2a2a2a" stroke-width="1"/>
<line x1="467.71" y1="364.00" x2="467.71" y2="360.50" stroke="#2a2a2a" stroke-width="1"/>
<line x1="480.16" y1="364.00" x2="480.16" y2="362.00" stroke="#2a2a2a" stroke-width="1"/>
<line x1="487.45" y1="364.00" x2="487.45" y2="362.00" stroke="#2a2a2a" stroke-width="1"/>
<line x1="492.61" y1="364.00" x2="492.61" y2="362.00" stroke="#2a2a2a" stroke-width="1"/>
<line x1="496.62" y1="364.00" x2="496.62" y2="362.00" stroke="#2a2a2a" stroke-width="1"/>
<line x1="499.90" y1="364.00" x2="499.90" y2="362.00" stroke="#2a2a2a" stroke-width="1"/>
<line x1="502.67" y1="364.00" x2="502.67" y2="362.00" stroke="#2a2a2a" stroke-width="1"/>
<line x1="505.06" y1="364.00" x2="505.06" y2="362.00" stroke="#2a2a2a" stroke-width="1"/>
<line x1="507.18" y1="364.00" x2="507.18" y2="362.00" stroke="#2a2a2a" stroke-width="1"/>
<line x1="509.07" y1="364.00" x2="509.07" y2="360.50" stroke="#2a2a2a" stroke-width="1"/>
<line x1="521.52" y1="364.00" x2="521.52" y2="362.00" stroke="#2a2a2a" stroke-width="1"/>
<line x1="528.80" y1="364.00" x2="528.80" y2="362.00" stroke="#2a2a2a" stroke-width="1"/>
<line x1="533.97" y1="364.00" x2="533.97" y2="362.00" stroke="#2a2a2a" stroke-width="1"/>
<line x1="537.98" y1="364.00" x2="537.98" y2="362.00" stroke="#2a2a2a" stroke-width="1"/>
<line x1="541.25" y1="364.00" x2="541.25" y2="362.00" stroke="#2a2a2a" stroke-width="1"/>
<line x1="544.02" y1="364.00" x2="544.02" y2="362.00" stroke="#2a2a2a" stroke-width="1"/>
<line x1="546.42" y1="364.00" x2="546.42" y2="362.00" stroke="#2a2a2a" stroke-width="1"/>
<line x1="548.54" y1="364.00" x2="548.54" y2="362.00" stroke="#2a2a2a" stroke-width="1"/>
<line x1="550.43" y1="364.00" x2="550.43" y2="360.50" stroke="#2a2a2a" stroke-width="1"/>
<line x1="562.88" y1="364.00" x2="562.88" y2="362.00" stroke="#2a2a2a" stroke-width="1"/>
<line x1="570.16" y1="364.00" x2="570.16" y2="362.00" stroke="#2a2a2a" stroke-width="1"/>
<line x1="575.33" y1="364.00" x2="575.33" y2="362.00" stroke="#2a2a2a" stroke-width="1"/>
<line x1="579.34" y1="364.00" x2="579.34" y2="362.00" stroke="#2a2a2a" stroke-width="1"/>
<line x1="582.61" y1="364.00" x2="582.61" y2="362.00" stroke="#2a2a2a" stroke-width="1"/>
<line x1="585.38" y1="364.00" x2="585.38" y2="362.00" stroke="#2a2a2a" stroke-width="1"/>
<line x1="587.78" y1="364.00" x2="587.78" y2="362.00" stroke="#2a2a2a" stroke-width="1"/>
<line x1="589.89" y1="364.00" x2="589.89" y2="362.00" stroke="#2a2a2a" stroke-width="1"/>
<line x1="591.79" y1="364.00" x2="591.79" y2="360.50" stroke="#2a2a2a" stroke-width="1"/>
<line x1="604.24" y1="364.00" x2="604.24" y2="362.00" stroke="#2a2a2a" stroke-width="1"/>
<line x1="611.52" y1="364.00" x2="611.52" y2="362.00" stroke="#2a2a2a" stroke-width="1"/>
<line x1="616.69" y1="364.00" x2="616.69" y2="362.00" stroke="#2a2a2a" stroke-width="1"/>
<line x1="620.69" y1="364.00" x2="620.69" y2="362.00" stroke="#2a2a2a" stroke-width="1"/>
<line x1="623.97" y1="364.00" x2="623.97" y2="362.00" stroke="#2a2a2a" stroke-width="1"/>
<line x1="626.74" y1="364.00" x2="626.74" y2="362.00" stroke="#2a2a2a" stroke-width="1"/>
<line x1="629.13" y1="364.00" x2="629.13" y2="362.00" stroke="#2a2a2a" stroke-width="1"/>
<line x1="631.25" y1="364.00" x2="631.25" y2="362.00" stroke="#2a2a2a" stroke-width="1"/>
<line x1="633.14" y1="364.00" x2="633.14" y2="360.50" stroke="#2a2a2a" stroke-width="1"/>
<line x1="645.59" y1="364.00" x2="645.59" y2="362.00" stroke="#2a2a2a" stroke-width="1"/>
<line x1="652.88" y1="364.00" x2="652.88" y2="362.00" stroke="#2a2a2a" stroke-width="1"/>
<line x1="658.04" y1="364.00" x2="658.04" y2="362.00" stroke="#2a2a2a" stroke-width="1"/>
<line x1="662.05" y1="364.00" x2="662.05" y2="362.00" stroke="#2a2a2a" stroke-width="1"/>
<line x1="665.32" y1="364.00" x2="665.32" y2="362.00" stroke="#2a2a2a" stroke-width="1"/>
<line x1="668.09" y1="364.00" x2="668.09" y2="362.00" stroke="#2a2a2a" stroke-width="1"/>
<line x1="670.49" y1="364.00" x2="670.49" y2="362.00" stroke="#2a2a2a" stroke-width="1"/>
<line x1="672.61" y1="364.00" x2="672.61" y2="362.00" stroke="#2a2a2a" stroke-width="1"/>
<line x1="674.50" y1="364.00" x2="674.50" y2="360.50" stroke="#2a2a2a" stroke-width="1"/>
<line x1="385.00" y1="362.30" x2="387.00" y2="362.30" stroke="#2a2a2a" stroke-width="1"/>
<line x1="385.00" y1="360.97" x2="387.00" y2="360.97" stroke="#2a2a2a" stroke-width="1"/>
<line x1="385.00" y1="359.82" x2="387.00" y2="359.82" stroke="#2a2a2a" stroke-width="1"/>
<line x1="385.00" y1="358.81" x2="387.00" y2="358.81" stroke="#2a2a2a" stroke-width="1"/>
<line x1="385.00" y1="357.90" x2="388.50" y2="357.90" stroke="#2a2a2a" stroke-width="1"/>
<line x1="385.00" y1="351.92" x2="387.00" y2="351.92" stroke="#2a2a2a" stroke-width="1"/>
<line x1="385.00" y1="348.43" x2="387.00" y2="348.43" stroke="#2a2a2a" stroke-width="1"/>
<line x1="385.00" y1="345.95" x2="387.00" y2="345.95" stroke="#2a2a2a" stroke-width="1"/>
<line x1="385.00" y1="344.03" x2="387.00" y2="344.03" stroke="#2a2a2a" stroke-width="1"/>
<line x1="385.00" y1="342.45" x2="387.00" y2="342.45" stroke="#2a2a2a" stroke-width="1"/>
<line x1="385.00" y1="341.12" x2="387.00" y2="341.12" stroke="#2a2a2a" stroke-width="1"/>
<line x1="385.00" y1="339.97" x2="387.00" y2="339.97" stroke="#2a2a2a" stroke-width="1"/>
<line x1="385.00" y1="338.96" x2="387.00" y2="338.96" stroke="#2a2a2a" stroke-width="1"/>
<line x1="385.00" y1="338.05" x2="388.50" y2="338.05" stroke="#2a2a2a" stroke-width="1"/>
<line x1="385.00" y1="332.07" x2="387.00" y2="332.07" stroke="#2a2a2a" stroke-width="1"/>
<line x1="385.00" y1="328.58" x2="387.00" y2="328.58" stroke="#2a2a2a" stroke-width="1"/>
<line x1="385.00" y1="326.10" x2="387.00" y2="326.10" stroke="#2a2a2a" stroke-width="1"/>
<line x1="385.00" y1="324.18" x2="387.00" y2="324.18" stroke="#2a2a2a" stroke-width="1"/>
<line x1="385.00" y1="322.60" x2="387.00" y2="322.60" stroke="#2a2a2a" stroke-width="1"/>
<line x1="385.00" y1="321.27" x2="387.00" y2="321.27" stroke="#2a2a2a" stroke-width="1"/>
<line x1="385.00" y1="320.12" x2="387.00" y2="320.12" stroke="#2a2a2a" stroke-width="1"/>
<line x1="385.00" y1="319.11" x2="387.00" y2="319.11" stroke="#2a2a2a" stroke-width="1"/>
<line x1="385.00" y1="318.20" x2="388.50" y2="318.20" stroke="#2a2a2a" stroke-width="1"/>
<line x1="385.00" y1="312.22" x2="387.00" y2="312.22" stroke="#2a2a2a" stroke-width="1"/>
<line x1="385.00" y1="308.73" x2="387.00" y2="308.73" stroke="#2a2a2a" stroke-width="1"/>
<line x1="385.00" y1="306.25" x2="387.00" y2="306.25" stroke="#2a2a2a" stroke-width="1"/>
<line x1="385.00" y1="304.33" x2="387.00" y2="304.33" stroke="#2a2a2a" stroke-width="1"/>
<line x1="385.00" y1="302.75" x2="387.00" y2="302.75" stroke="#2a2a2a" stroke-width="1"/>
<line x1="385.00" y1="301.42" x2="387.00" y2="301.42" stroke="#2a2a2a" stroke-width="1"/>
<line x1="385.00" y1="300.27" x2="387.00" y2="300.27" stroke="#2a2a2a" stroke-width="1"/>
<line x1="385.00" y1="299.26" x2="387.00" y2="299.26" stroke="#2a2a2a" stroke-width="1"/>
<line x1="385.00" y1="298.35" x2="388.50" y2="298.35" stroke="#2a2a2a" stroke-width="1"/>
<line x1="385.00" y1="292.37" x2="387.00" y2="292.37" stroke="#2a2a2a" stroke-width="1"/>
<line x1="385.00" y1="288.88" x2="387.00" y2="288.88" stroke="#2a2a2a" stroke-width="1"/>
<line x1="385.00" y1="286.40" x2="387.00" y2="286.40" stroke="#2a2a2a" stroke-width="1"/>
<line x1="385.00" y1="284.48" x2="387.00" y2="284.48" stroke="#2a2a2a" stroke-width="1"/>
<line x1="385.00" y1="282.90" x2="387.00" y2="282.90" stroke="#2a2a2a" stroke-width="1"/>
<line x1="385.00" y1="281.57" x2="387.00" y2="281.57" stroke="#2a2a2a" stroke-width="1"/>
<line x1="385.00" y1="280.42" x2="387.00" y2="280.42" stroke="#2a2a2a" stroke-width="1"/>
<line x1="385.00" y1="279.41" x2="387.00" y2="279.41" stroke="#2a2a2a" stroke-width="1"/>
<line x1="385.00" y1="278.50" x2="388.50" y2="278.50" stroke="#2a2a2a" stroke-width="1"/>
<line x1="385.00" y1="272.52" x2="387.00" y2="272.52" stroke="#2a2a2a" stroke-width="1"/>
<line x1="385.00" y1="269.03" x2="387.00" y2="269.03" stroke="#2a2a2a" stroke-width="1"/>
<line x1="385.00" y1="266.55" x2="387.00" y2="266.55" stroke="#2a2a2a" stroke-width="1"/>
<line x1="385.00" y1="264.63" x2="387.00" y2="264.63" stroke="#2a2a2a" stroke-width="1"/>
<line x1="385.00" y1="464.50" x2="385.00" y2="461.00" stroke="#2a2a2a" stroke-width="1"/>
<line x1="397.45" y1="464.50" x2="397.45" y2="462.50" stroke="#2a2a2a" stroke-width="1"/>
<line x1="404.73" y1="464.50" x2="404.73" y2="462.50" stroke="#2a2a2a" stroke-width="1"/>
<line x1="409.90" y1="464.50" x2="409.90" y2="462.50" stroke="#2a2a2a" stroke-width="1"/>
<line x1="413.91" y1="464.50" x2="413.91" y2="462.50" stroke="#2a2a2a" stroke-width="1"/>
<line x1="417.18" y1="464.50" x2="417.18" y2="462.50" stroke="#2a2a2a" stroke-width="1"/>
<line x1="419.95" y1="464.50" x2="419.95" y2="462.50" stroke="#2a2a2a" stroke-width="1"/>
<line x1="422.35" y1="464.50" x2="422.35" y2="462.50" stroke="#2a2a2a" stroke-width="1"/>
<line x1="424.46" y1="464.50" x2="424.46" y2="462.50" stroke="#2a2a2a" stroke-width="1"/>
<line x1="426.36" y1="464.50" x2="426.36" y2="461.00" stroke="#2a2a2a" stroke-width="1"/>
<line x1="438.81" y1="464.50" x2="438.81" y2="462.50" stroke="#2a2a2a" stroke-width="1"/>
<line x1="446.09" y1="464.50" x2="446.09" y2="462.50" stroke="#2a2a2a" stroke-width="1"/>
<line x1="451.26" y1="464.50" x2="451.26" y2="462.50" stroke="#2a2a2a" stroke-width="1"/>
<line x1="455.26" y1="464.50" x2="455.26" y2="462.50" stroke="#2a2a2a" stroke-width="1"/>
<line x1="458.54" y1="464.50" x2="458.54" y2="462.50" stroke="#2a2a2a" stroke-width="1"/>
<line x1="461.31" y1="464.50" x2="461.31" y2="462.50" stroke="#2a2a2a" stroke-width="1"/>
<line x1="463.71" y1="464.50" x2="463.71" y2="462.50" stroke="#2a2a2a" stroke-width="1"/>
<line x1="465.82" y1="464.50" x2="465.82" y2="462.50" stroke="#2a2a2a" stroke-width="1"/>
<line x1="467.71" y1="464.50" x2="467.71" y2="461.00" stroke="#2a2a2a" stroke-width="1"/>
<line x1="480.16" y1="464.50" x2="480.16" y2="462.50" stroke="#2a2a2a" stroke-width="1"/>
<line x1="487.45" y1="464.50" x2="487.45" y2="462.50" stroke="#2a2a2a" stroke-width="1"/>
<line x1="492.61" y1="464.50" x2="492.61" y2="462.50" stroke="#2a2a2a" stroke-width="1"/>
<line x1="496.62" y1="464.50" x2="496.62" y2="462.50" stroke="#2a2a2a" stroke-width="1"/>
<line x1="499.90" y1="464.50" x2="499.90" y2="462.50" stroke="#2a2a2a" stroke-width="1"/>
<line x1="502.67" y1="464.50" x2="502.67" y2="462.50" stroke="#2a2a2a" stroke-width="1"/>
<line x1="505.06" y1="464.50" x2="505.06" y2="462.50" stroke="#2a2a2a" stroke-width="1"/>
<line x1="507.18" y1="464.50" x2="507.18" y2="462.50" stroke="#2a2a2a" stroke-width="1"/>
<line x1="509.07" y1="464.50" x2="509.07" y2="461.00" stroke="#2a2a2a" stroke-width="1"/>
<line x1="521.52" y1="464.50" x2="521.52" y2="462.50" stroke="#2a2a2a" stroke-width="1"/>
<line x1="528.80" y1="464.50" x2="528.80" y2="462.50" stroke="#2a2a2a" stroke-width="1"/>
<line x1="533.97" y1="464.50" x2="533.97" y2="462.50" stroke="#2a2a2a" stroke-width="1"/>
<line x1="537.98" y1="464.50" x2="537.98" y2="462.50" stroke="#2a2a2a" stroke-width="1"/>
<line x1="541.25" y1="464.50" x2="541.25" y2="462.50" stroke="#2a2a2a" stroke-width="1"/>
<line x1="544.02" y1="464.50" x2="544.02" y2="462.50" stroke="#2a2a2a" stroke-width="1"/>
<line x1="546.42" y1="464.50" x2="546.42" y2="462.50" stroke="#2a2a2a" stroke-width="1"/>
<line x1="548.54" y1="464.50" x2="548.54" y2="462.50" stroke="#2a2a2a" stroke-width="1"/>
<line x1="550.43" y1="464.50" x2="550.43" y2="461.00" stroke="#2a2a2a" stroke-width="1"/>
<line x1="562.88" y1="464.50" x2="562.88" y2="462.50" stroke="#2a2a2a" stroke-width="1"/>
<line x1="570.16" y1="464.50" x2="570.16" y2="462.50" stroke="#2a2a2a" stroke-width="1"/>
<line x1="575.33" y1="464.50" x2="575.33" y2="462.50" stroke="#2a2a2a" stroke-width="1"/>
<line x1="579.34" y1="464.50" x2="579.34" y2="462.50" stroke="#2a2a2a" stroke-width="1"/>
<line x1="582.61" y1="464.50" x2="582.61" y2="462.50" stroke="#2a2a2a" stroke-width="1"/>
<line x1="585.38" y1="464.50" x2="585.38" y2="462.50" stroke="#2a2a2a" stroke-width="1"/>
<line x1="587.78" y1="464.50" x2="587.78" y2="462.50" stroke="#2a2a2a" stroke-width="1"/>
<line x1="589.89" y1="464.50" x2="589.89" y2="462.50" stroke="#2a2a2a" stroke-width="1"/>
<line x1="591.79" y1="464.50" x2="591.79" y2="461.00" stroke="#2a2a2a" stroke-width="1"/>
<line x1="604.24" y1="464.50" x2="604.24" y2="462.50" stroke="#2a2a2a" stroke-width="1"/>
<line x1="611.52" y1="464.50" x2="611.52" y2="462.50" stroke="#2a2a2a" stroke-width="1"/>
<line x1="616.69" y1="464.50" x2="616.69" y2="462.50" stroke="#2a2a2a" stroke-width="1"/>
<line x1="620.69" y1="464.50" x2="620.69" y2="462.50" stroke="#2a2a2a" stroke-width="1"/>
<line x1="623.97" y1="464.50" x2="623.97" y2="462.50" stroke="#2a2a2a" stroke-width="1"/>
<line x1="626.74" y1="464.50" x2="626.74" y2="462.50" stroke="#2a2a2a" stroke-width="1"/>
<line x1="629.13" y1="464.50" x2="629.13" y2="462.50" stroke="#2a2a2a" stroke-width="1"/>
<line x1="631.25" y1="464.50" x2="631.25" y2="462.50" stroke="#2a2a2a" stroke-width="1"/>
<line x1="633.14" y1="464.50" x2="633.14" y2="461.00" stroke="#2a2a2a" stroke-width="1"/>
<line x1="645.59" y1="464.50" x2="645.59" y2="462.50" stroke="#2a2a2a" stroke-width="1"/>
<line x1="652.88" y1="464.50" x2="652.88" y2="462.50" stroke="#2a2a2a" stroke-width="1"/>
<line x1="658.04" y1="464.50" x2="658.04" y2="462.50" stroke="#2a2a2a" stroke-width="1"/>
<line x1="662.05" y1="464.50" x2="662.05" y2="462.50" stroke="#2a2a2a" stroke-width="1"/>
<line x1="665.32" y1="464.50" x2="665.32" y2="462.50" stroke="#2a2a2a" stroke-width="1"/>
<line x1="668.09" y1="464.50" x2="668.09" y2="462.50" stroke="#2a2a2a" stroke-width="1"/>
<line x1="670.49" y1="464.50" x2="670.49" y2="462.50" stroke="#2a2a2a" stroke-width="1"/>
<line x1="672.61" y1="464.50" x2="672.61" y2="462.50" stroke="#2a2a2a" stroke-width="1"/>
<line x1="674.50" y1="464.50" x2="674.50" y2="461.00" stroke="#2a2a2a" stroke-width="1"/>
<line x1="385.00" y1="459.40" x2="388.50" y2="459.40" stroke="#2a2a2a" stroke-width="1"/>
<line x1="385.00" y1="437.00" x2="388.50" y2="437.00" stroke="#2a2a2a" stroke-width="1"/>
<line x1="385.00" y1="414.60" x2="388.50" y2="414.60" stroke="#2a2a2a" stroke-width="1"/>
<line x1="385.00" y1="392.20" x2="388.50" y2="392.20" stroke="#2a2a2a" stroke-width="1"/>
<line x1="385.00" y1="369.80" x2="388.50" y2="369.80" stroke="#2a2a2a" stroke-width="1"/>
<line x1="385.00" y1="448.20" x2="387.00" y2="448.20" stroke="#2a2a2a" stroke-width="1"/>
<line x1="385.00" y1="425.80" x2="387.00" y2="425.80" stroke="#2a2a2a" stroke-width="1"/>
<line x1="385.00" y1="403.40" x2="387.00" y2="403.40" stroke="#2a2a2a" stroke-width="1"/>
<line x1="385.00" y1="381.00" x2="387.00" y2="381.00" stroke="#2a2a2a" stroke-width="1"/>
<rect x="391.07" y="270.00" width="4.4" height="4.4" fill="#ffffff" stroke="#1a1a1a" stroke-width="1.0"/>
<rect x="399.34" y="271.80" width="4.4" height="4.4" fill="#ffffff" stroke="#1a1a1a" stroke-width="1.0"/>
<rect x="407.61" y="272.90" width="4.4" height="4.4" fill="#ffffff" stroke="#1a1a1a" stroke-width="1.0"/>
<rect x="415.88" y="274.40" width="4.4" height="4.4" fill="#ffffff" stroke="#1a1a1a" stroke-width="1.0"/>
<rect x="424.15" y="276.60" width="4.4" height="4.4" fill="#ffffff" stroke="#1a1a1a" stroke-width="1.0"/>
<rect x="432.42" y="278.00" width="4.4" height="4.4" fill="#ffffff" stroke="#1a1a1a" stroke-width="1.0"/>
<rect x="440.69" y="279.90" width="4.4" height="4.4" fill="#ffffff" stroke="#1a1a1a" stroke-width="1.0"/>
<rect x="448.96" y="282.40" width="4.4" height="4.4" fill="#ffffff" stroke="#1a1a1a" stroke-width="1.0"/>
<rect x="457.23" y="283.90" width="4.4" height="4.4" fill="#ffffff" stroke="#1a1a1a" stroke-width="1.0"/>
<rect x="465.50" y="286.10" width="4.4" height="4.4" fill="#ffffff" stroke="#1a1a1a" stroke-width="1.0"/>
<rect x="473.77" y="288.30" width="4.4" height="4.4" fill="#ffffff" stroke="#1a1a1a" stroke-width="1.0"/>
<rect x="482.04" y="290.50" width="4.4" height="4.4" fill="#ffffff" stroke="#1a1a1a" stroke-width="1.0"/>
<rect x="490.31" y="292.60" width="4.4" height="4.4" fill="#ffffff" stroke="#1a1a1a" stroke-width="1.0"/>
<rect x="498.58" y="295.60" width="4.4" height="4.4" fill="#ffffff" stroke="#1a1a1a" stroke-width="1.0"/>
<rect x="506.85" y="298.00" width="4.4" height="4.4" fill="#ffffff" stroke="#1a1a1a" stroke-width="1.0"/>
<rect x="515.12" y="301.00" width="4.4" height="4.4" fill="#ffffff" stroke="#1a1a1a" stroke-width="1.0"/>
<rect x="523.39" y="303.90" width="4.4" height="4.4" fill="#ffffff" stroke="#1a1a1a" stroke-width="1.0"/>
<rect x="531.66" y="306.80" width="4.4" height="4.4" fill="#ffffff" stroke="#1a1a1a" stroke-width="1.0"/>
<rect x="539.93" y="310.20" width="4.4" height="4.4" fill="#ffffff" stroke="#1a1a1a" stroke-width="1.0"/>
<rect x="548.20" y="313.10" width="4.4" height="4.4" fill="#ffffff" stroke="#1a1a1a" stroke-width="1.0"/>
<rect x="556.47" y="316.40" width="4.4" height="4.4" fill="#ffffff" stroke="#1a1a1a" stroke-width="1.0"/>
<rect x="564.74" y="319.70" width="4.4" height="4.4" fill="#ffffff" stroke="#1a1a1a" stroke-width="1.0"/>
<rect x="573.01" y="323.00" width="4.4" height="4.4" fill="#ffffff" stroke="#1a1a1a" stroke-width="1.0"/>
<rect x="581.28" y="326.30" width="4.4" height="4.4" fill="#ffffff" stroke="#1a1a1a" stroke-width="1.0"/>
<rect x="589.55" y="329.20" width="4.4" height="4.4" fill="#ffffff" stroke="#1a1a1a" stroke-width="1.0"/>
<rect x="597.82" y="332.80" width="4.4" height="4.4" fill="#ffffff" stroke="#1a1a1a" stroke-width="1.0"/>
<rect x="606.09" y="336.20" width="4.4" height="4.4" fill="#ffffff" stroke="#1a1a1a" stroke-width="1.0"/>
<rect x="614.36" y="339.40" width="4.4" height="4.4" fill="#ffffff" stroke="#1a1a1a" stroke-width="1.0"/>
<rect x="622.63" y="342.30" width="4.4" height="4.4" fill="#ffffff" stroke="#1a1a1a" stroke-width="1.0"/>
<rect x="630.90" y="345.20" width="4.4" height="4.4" fill="#ffffff" stroke="#1a1a1a" stroke-width="1.0"/>
<rect x="639.17" y="348.20" width="4.4" height="4.4" fill="#ffffff" stroke="#1a1a1a" stroke-width="1.0"/>
<rect x="647.44" y="350.10" width="4.4" height="4.4" fill="#ffffff" stroke="#1a1a1a" stroke-width="1.0"/>
<rect x="655.71" y="352.10" width="4.4" height="4.4" fill="#ffffff" stroke="#1a1a1a" stroke-width="1.0"/>
<rect x="663.98" y="353.00" width="4.4" height="4.4" fill="#ffffff" stroke="#1a1a1a" stroke-width="1.0"/>
<rect x="672.25" y="354.00" width="4.4" height="4.4" fill="#ffffff" stroke="#1a1a1a" stroke-width="1.0"/>
<circle cx="385.00" cy="276.50" r="2.65" fill="url(#bb)"/>
<circle cx="393.27" cy="279.00" r="2.65" fill="url(#bb)"/>
<circle cx="401.54" cy="281.60" r="2.65" fill="url(#bb)"/>
<circle cx="409.81" cy="286.20" r="2.65" fill="url(#bb)"/>
<circle cx="418.08" cy="288.60" r="2.65" fill="url(#bb)"/>
<circle cx="426.35" cy="290.10" r="2.65" fill="url(#bb)"/>
<circle cx="434.62" cy="293.30" r="2.65" fill="url(#bb)"/>
<circle cx="442.89" cy="295.90" r="2.65" fill="url(#bb)"/>
<circle cx="451.16" cy="298.40" r="2.65" fill="url(#bb)"/>
<circle cx="459.43" cy="301.30" r="2.65" fill="url(#bb)"/>
<circle cx="467.70" cy="304.20" r="2.65" fill="url(#bb)"/>
<circle cx="475.97" cy="307.10" r="2.65" fill="url(#bb)"/>
<circle cx="484.24" cy="310.00" r="2.65" fill="url(#bb)"/>
<circle cx="492.51" cy="313.00" r="2.65" fill="url(#bb)"/>
<circle cx="500.78" cy="316.30" r="2.65" fill="url(#bb)"/>
<circle cx="509.05" cy="319.50" r="2.65" fill="url(#bb)"/>
<circle cx="517.32" cy="322.50" r="2.65" fill="url(#bb)"/>
<circle cx="525.59" cy="325.70" r="2.65" fill="url(#bb)"/>
<circle cx="533.86" cy="328.60" r="2.65" fill="url(#bb)"/>
<circle cx="542.13" cy="331.90" r="2.65" fill="url(#bb)"/>
<circle cx="550.40" cy="334.90" r="2.65" fill="url(#bb)"/>
<circle cx="558.67" cy="338.20" r="2.65" fill="url(#bb)"/>
<circle cx="566.94" cy="341.00" r="2.65" fill="url(#bb)"/>
<circle cx="575.21" cy="343.60" r="2.65" fill="url(#bb)"/>
<circle cx="583.48" cy="346.60" r="2.65" fill="url(#bb)"/>
<circle cx="591.75" cy="348.80" r="2.65" fill="url(#bb)"/>
<circle cx="600.02" cy="351.00" r="2.65" fill="url(#bb)"/>
<circle cx="608.29" cy="352.90" r="2.65" fill="url(#bb)"/>
<circle cx="616.56" cy="354.60" r="2.65" fill="url(#bb)"/>
<circle cx="624.83" cy="355.80" r="2.65" fill="url(#bb)"/>
<circle cx="633.10" cy="356.80" r="2.65" fill="url(#bb)"/>
<circle cx="641.37" cy="357.50" r="2.65" fill="url(#bb)"/>
<circle cx="649.64" cy="358.00" r="2.65" fill="url(#bb)"/>
<circle cx="657.91" cy="358.60" r="2.65" fill="url(#bb)"/>
<circle cx="666.18" cy="359.00" r="2.65" fill="url(#bb)"/>
<circle cx="674.45" cy="359.30" r="2.65" fill="url(#bb)"/>
<circle cx="385.00" cy="279.50" r="2.5" fill="#ffffff" stroke="#f58a2a" stroke-width="1.0"/>
<circle cx="393.27" cy="281.70" r="2.5" fill="#ffffff" stroke="#f58a2a" stroke-width="1.0"/>
<circle cx="401.54" cy="283.60" r="2.5" fill="#ffffff" stroke="#f58a2a" stroke-width="1.0"/>
<circle cx="409.81" cy="285.60" r="2.5" fill="#ffffff" stroke="#f58a2a" stroke-width="1.0"/>
<circle cx="418.08" cy="288.00" r="2.5" fill="#ffffff" stroke="#f58a2a" stroke-width="1.0"/>
<circle cx="426.35" cy="289.50" r="2.5" fill="#ffffff" stroke="#f58a2a" stroke-width="1.0"/>
<circle cx="434.62" cy="292.70" r="2.5" fill="#ffffff" stroke="#f58a2a" stroke-width="1.0"/>
<circle cx="442.89" cy="295.30" r="2.5" fill="#ffffff" stroke="#f58a2a" stroke-width="1.0"/>
<circle cx="451.16" cy="297.80" r="2.5" fill="#ffffff" stroke="#f58a2a" stroke-width="1.0"/>
<circle cx="459.43" cy="300.70" r="2.5" fill="#ffffff" stroke="#f58a2a" stroke-width="1.0"/>
<circle cx="467.70" cy="303.60" r="2.5" fill="#ffffff" stroke="#f58a2a" stroke-width="1.0"/>
<circle cx="475.97" cy="306.50" r="2.5" fill="#ffffff" stroke="#f58a2a" stroke-width="1.0"/>
<circle cx="484.24" cy="309.40" r="2.5" fill="#ffffff" stroke="#f58a2a" stroke-width="1.0"/>
<circle cx="492.51" cy="312.40" r="2.5" fill="#ffffff" stroke="#f58a2a" stroke-width="1.0"/>
<circle cx="500.78" cy="315.70" r="2.5" fill="#ffffff" stroke="#f58a2a" stroke-width="1.0"/>
<circle cx="509.05" cy="318.90" r="2.5" fill="#ffffff" stroke="#f58a2a" stroke-width="1.0"/>
<circle cx="517.32" cy="321.90" r="2.5" fill="#ffffff" stroke="#f58a2a" stroke-width="1.0"/>
<circle cx="525.59" cy="325.10" r="2.5" fill="#ffffff" stroke="#f58a2a" stroke-width="1.0"/>
<circle cx="533.86" cy="328.00" r="2.5" fill="#ffffff" stroke="#f58a2a" stroke-width="1.0"/>
<circle cx="542.13" cy="331.30" r="2.5" fill="#ffffff" stroke="#f58a2a" stroke-width="1.0"/>
<circle cx="550.40" cy="334.30" r="2.5" fill="#ffffff" stroke="#f58a2a" stroke-width="1.0"/>
<circle cx="558.67" cy="337.60" r="2.5" fill="#ffffff" stroke="#f58a2a" stroke-width="1.0"/>
<circle cx="566.94" cy="340.40" r="2.5" fill="#ffffff" stroke="#f58a2a" stroke-width="1.0"/>
<circle cx="575.21" cy="343.00" r="2.5" fill="#ffffff" stroke="#f58a2a" stroke-width="1.0"/>
<circle cx="583.48" cy="346.00" r="2.5" fill="#ffffff" stroke="#f58a2a" stroke-width="1.0"/>
<circle cx="591.75" cy="348.20" r="2.5" fill="#ffffff" stroke="#f58a2a" stroke-width="1.0"/>
<circle cx="600.02" cy="350.40" r="2.5" fill="#ffffff" stroke="#f58a2a" stroke-width="1.0"/>
<circle cx="608.29" cy="352.30" r="2.5" fill="#ffffff" stroke="#f58a2a" stroke-width="1.0"/>
<circle cx="616.56" cy="354.00" r="2.5" fill="#ffffff" stroke="#f58a2a" stroke-width="1.0"/>
<circle cx="624.83" cy="355.20" r="2.5" fill="#ffffff" stroke="#f58a2a" stroke-width="1.0"/>
<circle cx="633.10" cy="356.20" r="2.5" fill="#ffffff" stroke="#f58a2a" stroke-width="1.0"/>
<circle cx="641.37" cy="356.90" r="2.5" fill="#ffffff" stroke="#f58a2a" stroke-width="1.0"/>
<circle cx="649.64" cy="357.40" r="2.5" fill="#ffffff" stroke="#f58a2a" stroke-width="1.0"/>
<circle cx="657.91" cy="358.00" r="2.5" fill="#ffffff" stroke="#f58a2a" stroke-width="1.0"/>
<circle cx="666.18" cy="358.40" r="2.5" fill="#ffffff" stroke="#f58a2a" stroke-width="1.0"/>
<circle cx="674.45" cy="358.70" r="2.5" fill="#ffffff" stroke="#f58a2a" stroke-width="1.0"/>
<circle cx="385.00" cy="274.40" r="2.65" fill="url(#bp)"/>
<circle cx="393.27" cy="276.30" r="2.65" fill="url(#bp)"/>
<circle cx="401.54" cy="278.10" r="2.65" fill="url(#bp)"/>
<circle cx="409.81" cy="279.80" r="2.65" fill="url(#bp)"/>
<circle cx="418.08" cy="281.70" r="2.65" fill="url(#bp)"/>
<circle cx="426.35" cy="283.90" r="2.65" fill="url(#bp)"/>
<circle cx="434.62" cy="285.60" r="2.65" fill="url(#bp)"/>
<circle cx="442.89" cy="288.00" r="2.65" fill="url(#bp)"/>
<circle cx="451.16" cy="290.00" r="2.65" fill="url(#bp)"/>
<circle cx="459.43" cy="292.40" r="2.65" fill="url(#bp)"/>
<circle cx="467.70" cy="294.80" r="2.65" fill="url(#bp)"/>
<circle cx="475.97" cy="297.10" r="2.65" fill="url(#bp)"/>
<circle cx="484.24" cy="300.20" r="2.65" fill="url(#bp)"/>
<circle cx="492.51" cy="302.90" r="2.65" fill="url(#bp)"/>
<circle cx="500.78" cy="305.50" r="2.65" fill="url(#bp)"/>
<circle cx="509.05" cy="308.40" r="2.65" fill="url(#bp)"/>
<circle cx="517.32" cy="311.30" r="2.65" fill="url(#bp)"/>
<circle cx="525.59" cy="314.30" r="2.65" fill="url(#bp)"/>
<circle cx="533.86" cy="317.20" r="2.65" fill="url(#bp)"/>
<circle cx="542.13" cy="320.10" r="2.65" fill="url(#bp)"/>
<circle cx="550.40" cy="323.00" r="2.65" fill="url(#bp)"/>
<circle cx="558.67" cy="326.20" r="2.65" fill="url(#bp)"/>
<circle cx="566.94" cy="329.40" r="2.65" fill="url(#bp)"/>
<circle cx="575.21" cy="332.60" r="2.65" fill="url(#bp)"/>
<circle cx="583.48" cy="335.30" r="2.65" fill="url(#bp)"/>
<circle cx="591.75" cy="338.20" r="2.65" fill="url(#bp)"/>
<circle cx="600.02" cy="341.20" r="2.65" fill="url(#bp)"/>
<circle cx="608.29" cy="344.10" r="2.65" fill="url(#bp)"/>
<circle cx="616.56" cy="347.00" r="2.65" fill="url(#bp)"/>
<circle cx="624.83" cy="349.60" r="2.65" fill="url(#bp)"/>
<circle cx="633.10" cy="351.40" r="2.65" fill="url(#bp)"/>
<circle cx="641.37" cy="353.30" r="2.65" fill="url(#bp)"/>
<circle cx="649.64" cy="354.70" r="2.65" fill="url(#bp)"/>
<circle cx="657.91" cy="355.80" r="2.65" fill="url(#bp)"/>
<circle cx="666.18" cy="356.90" r="2.65" fill="url(#bp)"/>
<circle cx="674.45" cy="357.40" r="2.65" fill="url(#bp)"/>
<polyline points="385.00,272.20 386.49,272.26 388.62,272.35 391.01,272.48 393.27,272.65 395.34,272.89 397.40,273.18 399.47,273.50 401.54,273.82 403.61,274.15 405.68,274.49 407.74,274.84 409.81,275.20 411.88,275.57 413.94,275.96 416.01,276.36 418.08,276.78 420.15,277.22 422.21,277.68 424.28,278.14 426.35,278.60 428.42,279.03 430.49,279.46 432.55,279.88 434.62,280.32 436.69,280.79 438.75,281.26 440.82,281.75 442.89,282.25 444.96,282.77 447.02,283.30 449.09,283.83 451.16,284.35 453.23,284.84 455.30,285.32 457.36,285.79 459.43,286.28 461.50,286.77 463.56,287.27 465.63,287.78 467.70,288.30 469.77,288.84 471.84,289.39 473.90,289.95 475.97,290.50 478.04,291.04 480.11,291.58 482.17,292.12 484.24,292.68 486.31,293.24 488.38,293.82 490.44,294.41 492.51,295.02 494.58,295.66 496.64,296.32 498.71,296.98 500.78,297.65 502.85,298.32 504.92,298.99 506.98,299.66 509.05,300.35 511.12,301.05 513.18,301.75 515.25,302.46 517.32,303.18 519.39,303.90 521.46,304.62 523.52,305.36 525.59,306.10 527.66,306.85 529.73,307.60 531.79,308.36 533.86,309.12 535.93,309.90 538.00,310.69 540.06,311.49 542.13,312.27 544.20,313.06 546.26,313.83 548.33,314.61 550.40,315.40 552.47,316.19 554.53,316.99 556.60,317.79 558.67,318.60 560.74,319.42 562.80,320.24 564.87,321.07 566.94,321.90 569.01,322.73 571.08,323.56 573.14,324.38 575.21,325.20 577.28,326.01 579.35,326.81 581.41,327.60 583.48,328.40 585.55,329.19 587.62,329.98 589.68,330.77 591.75,331.57 593.82,332.40 595.88,333.25 597.95,334.10 600.02,334.95 602.09,335.80 604.15,336.66 606.22,337.52 608.29,338.35 610.36,339.16 612.42,339.96 614.49,340.75 616.56,341.52 618.63,342.28 620.69,343.03 622.76,343.76 624.83,344.50 626.90,345.24 628.96,345.98 631.03,346.71 633.10,347.42 635.17,348.13 637.24,348.82 639.30,349.49 641.37,350.12 643.44,350.72 645.50,351.29 647.57,351.82 649.64,352.32 651.71,352.80 653.77,353.24 655.84,353.65 657.91,354.02 659.98,354.37 662.05,354.69 664.11,354.98 666.18,355.23 668.44,355.44 670.83,355.62 672.96,355.76 674.45,355.87" fill="none" stroke="#f52a2a" stroke-width="1.0" stroke-linejoin="round"/>
<polyline points="385.00,275.03 386.49,275.24 388.62,275.54 391.01,275.90 393.27,276.27 395.34,276.69 397.40,277.14 399.47,277.61 401.54,278.08 403.61,278.52 405.68,278.95 407.74,279.40 409.81,279.85 411.88,280.32 413.94,280.80 416.01,281.28 418.08,281.77 420.15,282.27 422.21,282.77 424.28,283.27 426.35,283.77 428.42,284.27 430.49,284.77 432.55,285.27 434.62,285.77 436.69,286.30 438.75,286.82 440.82,287.36 442.89,287.90 444.96,288.44 447.02,288.99 449.09,289.54 451.16,290.10 453.23,290.67 455.30,291.24 457.36,291.82 459.43,292.40 461.50,292.98 463.56,293.57 465.63,294.17 467.70,294.77 469.77,295.39 471.84,296.01 473.90,296.65 475.97,297.30 478.04,297.98 480.11,298.68 482.17,299.40 484.24,300.10 486.31,300.80 488.38,301.49 490.44,302.19 492.51,302.88 494.58,303.55 496.64,304.22 498.71,304.89 500.78,305.57 502.85,306.27 504.92,306.97 506.98,307.68 509.05,308.40 511.12,309.12 513.18,309.85 515.25,310.59 517.32,311.32 519.39,312.06 521.46,312.80 523.52,313.54 525.59,314.27 527.66,315.01 529.73,315.74 531.79,316.47 533.86,317.20 535.93,317.93 538.00,318.65 540.06,319.37 542.13,320.10 544.20,320.83 546.26,321.57 548.33,322.32 550.40,323.07 552.47,323.84 554.53,324.62 556.60,325.41 558.67,326.20 560.74,327.00 562.80,327.80 564.87,328.61 566.94,329.40 569.01,330.18 571.08,330.96 573.14,331.72 575.21,332.48 577.28,333.21 579.35,333.93 581.41,334.64 583.48,335.35 585.55,336.07 587.62,336.78 589.68,337.50 591.75,338.23 593.82,338.96 595.88,339.70 597.95,340.44 600.02,341.18 602.09,341.91 604.15,342.65 606.22,343.38 608.29,344.10 610.36,344.82 612.42,345.54 614.49,346.25 616.56,346.93 618.63,347.58 620.69,348.21 622.76,348.82 624.83,349.40 626.90,349.94 628.96,350.46 631.03,350.95 633.10,351.43 635.17,351.89 637.24,352.34 639.30,352.77 641.37,353.18 643.44,353.57 645.50,353.94 647.57,354.29 649.64,354.62 651.71,354.94 653.77,355.24 655.84,355.53 657.91,355.80 659.98,356.06 662.05,356.32 664.11,356.55 666.18,356.75 668.44,356.91 670.83,357.05 672.96,357.16 674.45,357.23" fill="none" stroke="#f52a2a" stroke-width="1.0" stroke-linejoin="round"/>
<polyline points="385.00,277.33 386.49,277.60 388.62,277.99 391.01,278.47 393.27,279.02 395.34,279.69 397.40,280.45 399.47,281.27 401.54,282.10 403.61,282.97 405.68,283.90 407.74,284.81 409.81,285.65 411.88,286.40 413.94,287.10 416.01,287.75 418.08,288.38 420.15,288.94 422.21,289.46 424.28,289.97 426.35,290.53 428.42,291.15 430.49,291.80 432.55,292.48 434.62,293.15 436.69,293.83 438.75,294.51 440.82,295.20 442.89,295.88 444.96,296.53 447.02,297.18 449.09,297.83 451.16,298.50 453.23,299.19 455.30,299.88 457.36,300.59 459.43,301.30 461.50,302.02 463.56,302.74 465.63,303.47 467.70,304.20 469.77,304.92 471.84,305.65 473.90,306.37 475.97,307.10 478.04,307.83 480.11,308.55 482.17,309.28 484.24,310.02 486.31,310.78 488.38,311.53 490.44,312.30 492.51,313.07 494.58,313.87 496.64,314.67 498.71,315.47 500.78,316.27 502.85,317.07 504.92,317.87 506.98,318.66 509.05,319.45 511.12,320.23 513.18,321.01 515.25,321.78 517.32,322.55 519.39,323.32 521.46,324.09 523.52,324.86 525.59,325.62 527.66,326.39 529.73,327.16 531.79,327.93 533.86,328.70 535.93,329.48 538.00,330.26 540.06,331.04 542.13,331.83 544.20,332.61 546.26,333.40 548.33,334.19 550.40,334.98 552.47,335.76 554.53,336.54 556.60,337.32 558.67,338.08 560.74,338.81 562.80,339.53 564.87,340.25 566.94,340.95 569.01,341.65 571.08,342.34 573.14,343.02 575.21,343.70 577.28,344.39 579.35,345.07 581.41,345.75 583.48,346.40 585.55,347.03 587.62,347.64 589.68,348.23 591.75,348.80 593.82,349.36 595.88,349.89 597.95,350.41 600.02,350.93 602.09,351.43 604.15,351.92 606.22,352.39 608.29,352.85 610.36,353.29 612.42,353.70 614.49,354.10 616.56,354.48 618.63,354.83 620.69,355.15 622.76,355.46 624.83,355.75 626.90,356.02 628.96,356.27 631.03,356.51 633.10,356.73 635.17,356.93 637.24,357.11 639.30,357.29 641.37,357.45 643.44,357.61 645.50,357.75 647.57,357.89 649.64,358.02 651.71,358.16 653.77,358.30 655.84,358.43 657.91,358.55 659.98,358.67 662.05,358.78 664.11,358.89 666.18,358.98 668.44,359.05 670.83,359.11 672.96,359.16 674.45,359.20" fill="none" stroke="#f52a2a" stroke-width="1.0" stroke-linejoin="round"/>
<polyline points="385.00,280.23 386.49,280.47 388.62,280.80 391.01,281.20 393.27,281.62 395.34,282.08 397.40,282.58 399.47,283.11 401.54,283.62 403.61,284.14 405.68,284.66 407.74,285.18 409.81,285.70 411.88,286.22 413.94,286.73 416.01,287.25 418.08,287.77 420.15,288.30 422.21,288.82 424.28,289.35 426.35,289.93 428.42,290.55 430.49,291.20 432.55,291.88 434.62,292.55 436.69,293.23 438.75,293.91 440.82,294.60 442.89,295.27 444.96,295.93 447.02,296.58 449.09,297.23 451.16,297.90 453.23,298.59 455.30,299.28 457.36,299.99 459.43,300.70 461.50,301.42 463.56,302.14 465.63,302.87 467.70,303.60 469.77,304.32 471.84,305.05 473.90,305.77 475.97,306.50 478.04,307.23 480.11,307.95 482.17,308.68 484.24,309.42 486.31,310.18 488.38,310.93 490.44,311.70 492.51,312.47 494.58,313.27 496.64,314.07 498.71,314.87 500.78,315.67 502.85,316.47 504.92,317.27 506.98,318.06 509.05,318.85 511.12,319.63 513.18,320.41 515.25,321.18 517.32,321.95 519.39,322.72 521.46,323.49 523.52,324.26 525.59,325.02 527.66,325.79 529.73,326.56 531.79,327.33 533.86,328.10 535.93,328.88 538.00,329.66 540.06,330.44 542.13,331.23 544.20,332.01 546.26,332.80 548.33,333.59 550.40,334.38 552.47,335.16 554.53,335.94 556.60,336.72 558.67,337.48 560.74,338.21 562.80,338.93 564.87,339.65 566.94,340.35 569.01,341.05 571.08,341.74 573.14,342.42 575.21,343.10 577.28,343.79 579.35,344.47 581.41,345.15 583.48,345.80 585.55,346.43 587.62,347.04 589.68,347.63 591.75,348.20 593.82,348.76 595.88,349.29 597.95,349.81 600.02,350.32 602.09,350.83 604.15,351.32 606.22,351.79 608.29,352.25 610.36,352.69 612.42,353.10 614.49,353.50 616.56,353.88 618.63,354.23 620.69,354.55 622.76,354.86 624.83,355.15 626.90,355.42 628.96,355.67 631.03,355.91 633.10,356.12 635.17,356.33 637.24,356.51 639.30,356.69 641.37,356.85 643.44,357.01 645.50,357.15 647.57,357.29 649.64,357.42 651.71,357.56 653.77,357.70 655.84,357.83 657.91,357.95 659.98,358.07 662.05,358.18 664.11,358.29 666.18,358.38 668.44,358.45 670.83,358.51 672.96,358.56 674.45,358.60" fill="none" stroke="#f52a2a" stroke-width="1.0" stroke-linejoin="round"/>
<rect x="391.07" y="439.90" width="4.4" height="4.4" fill="#ffffff" stroke="#1a1a1a" stroke-width="1.0"/>
<rect x="399.34" y="436.00" width="4.4" height="4.4" fill="#ffffff" stroke="#1a1a1a" stroke-width="1.0"/>
<rect x="407.61" y="431.40" width="4.4" height="4.4" fill="#ffffff" stroke="#1a1a1a" stroke-width="1.0"/>
<rect x="415.88" y="425.60" width="4.4" height="4.4" fill="#ffffff" stroke="#1a1a1a" stroke-width="1.0"/>
<rect x="424.15" y="419.20" width="4.4" height="4.4" fill="#ffffff" stroke="#1a1a1a" stroke-width="1.0"/>
<rect x="432.42" y="412.90" width="4.4" height="4.4" fill="#ffffff" stroke="#1a1a1a" stroke-width="1.0"/>
<rect x="440.69" y="408.20" width="4.4" height="4.4" fill="#ffffff" stroke="#1a1a1a" stroke-width="1.0"/>
<rect x="448.96" y="403.40" width="4.4" height="4.4" fill="#ffffff" stroke="#1a1a1a" stroke-width="1.0"/>
<rect x="457.23" y="399.00" width="4.4" height="4.4" fill="#ffffff" stroke="#1a1a1a" stroke-width="1.0"/>
<rect x="465.50" y="396.10" width="4.4" height="4.4" fill="#ffffff" stroke="#1a1a1a" stroke-width="1.0"/>
<rect x="473.77" y="393.90" width="4.4" height="4.4" fill="#ffffff" stroke="#1a1a1a" stroke-width="1.0"/>
<rect x="482.04" y="392.20" width="4.4" height="4.4" fill="#ffffff" stroke="#1a1a1a" stroke-width="1.0"/>
<rect x="490.31" y="391.30" width="4.4" height="4.4" fill="#ffffff" stroke="#1a1a1a" stroke-width="1.0"/>
<rect x="498.58" y="390.70" width="4.4" height="4.4" fill="#ffffff" stroke="#1a1a1a" stroke-width="1.0"/>
<rect x="506.85" y="389.80" width="4.4" height="4.4" fill="#ffffff" stroke="#1a1a1a" stroke-width="1.0"/>
<rect x="515.12" y="388.80" width="4.4" height="4.4" fill="#ffffff" stroke="#1a1a1a" stroke-width="1.0"/>
<rect x="523.39" y="388.40" width="4.4" height="4.4" fill="#ffffff" stroke="#1a1a1a" stroke-width="1.0"/>
<rect x="531.66" y="388.10" width="4.4" height="4.4" fill="#ffffff" stroke="#1a1a1a" stroke-width="1.0"/>
<rect x="539.93" y="387.80" width="4.4" height="4.4" fill="#ffffff" stroke="#1a1a1a" stroke-width="1.0"/>
<rect x="548.20" y="387.80" width="4.4" height="4.4" fill="#ffffff" stroke="#1a1a1a" stroke-width="1.0"/>
<rect x="556.47" y="387.80" width="4.4" height="4.4" fill="#ffffff" stroke="#1a1a1a" stroke-width="1.0"/>
<rect x="564.74" y="388.40" width="4.4" height="4.4" fill="#ffffff" stroke="#1a1a1a" stroke-width="1.0"/>
<rect x="573.01" y="389.10" width="4.4" height="4.4" fill="#ffffff" stroke="#1a1a1a" stroke-width="1.0"/>
<rect x="581.28" y="389.60" width="4.4" height="4.4" fill="#ffffff" stroke="#1a1a1a" stroke-width="1.0"/>
<rect x="589.55" y="390.80" width="4.4" height="4.4" fill="#ffffff" stroke="#1a1a1a" stroke-width="1.0"/>
<rect x="597.82" y="392.80" width="4.4" height="4.4" fill="#ffffff" stroke="#1a1a1a" stroke-width="1.0"/>
<rect x="606.09" y="395.30" width="4.4" height="4.4" fill="#ffffff" stroke="#1a1a1a" stroke-width="1.0"/>
<rect x="614.36" y="398.30" width="4.4" height="4.4" fill="#ffffff" stroke="#1a1a1a" stroke-width="1.0"/>
<rect x="622.63" y="403.80" width="4.4" height="4.4" fill="#ffffff" stroke="#1a1a1a" stroke-width="1.0"/>
<rect x="630.90" y="411.80" width="4.4" height="4.4" fill="#ffffff" stroke="#1a1a1a" stroke-width="1.0"/>
<rect x="639.17" y="419.80" width="4.4" height="4.4" fill="#ffffff" stroke="#1a1a1a" stroke-width="1.0"/>
<rect x="647.44" y="428.80" width="4.4" height="4.4" fill="#ffffff" stroke="#1a1a1a" stroke-width="1.0"/>
<rect x="655.71" y="436.80" width="4.4" height="4.4" fill="#ffffff" stroke="#1a1a1a" stroke-width="1.0"/>
<rect x="663.98" y="447.30" width="4.4" height="4.4" fill="#ffffff" stroke="#1a1a1a" stroke-width="1.0"/>
<rect x="672.25" y="454.80" width="4.4" height="4.4" fill="#ffffff" stroke="#1a1a1a" stroke-width="1.0"/>
<circle cx="385.00" cy="418.70" r="2.65" fill="url(#bb)"/>
<circle cx="393.27" cy="415.10" r="2.65" fill="url(#bb)"/>
<circle cx="401.54" cy="412.00" r="2.65" fill="url(#bb)"/>
<circle cx="409.81" cy="407.80" r="2.65" fill="url(#bb)"/>
<circle cx="418.08" cy="403.40" r="2.65" fill="url(#bb)"/>
<circle cx="426.35" cy="400.00" r="2.65" fill="url(#bb)"/>
<circle cx="434.62" cy="396.80" r="2.65" fill="url(#bb)"/>
<circle cx="442.89" cy="393.90" r="2.65" fill="url(#bb)"/>
<circle cx="451.16" cy="391.70" r="2.65" fill="url(#bb)"/>
<circle cx="459.43" cy="389.50" r="2.65" fill="url(#bb)"/>
<circle cx="467.70" cy="387.40" r="2.65" fill="url(#bb)"/>
<circle cx="475.97" cy="384.80" r="2.65" fill="url(#bb)"/>
<circle cx="484.24" cy="383.70" r="2.65" fill="url(#bb)"/>
<circle cx="492.51" cy="382.70" r="2.65" fill="url(#bb)"/>
<circle cx="500.78" cy="382.20" r="2.65" fill="url(#bb)"/>
<circle cx="509.05" cy="381.80" r="2.65" fill="url(#bb)"/>
<circle cx="517.32" cy="381.50" r="2.65" fill="url(#bb)"/>
<circle cx="525.59" cy="381.30" r="2.65" fill="url(#bb)"/>
<circle cx="533.86" cy="381.20" r="2.65" fill="url(#bb)"/>
<circle cx="542.13" cy="381.20" r="2.65" fill="url(#bb)"/>
<circle cx="550.40" cy="383.00" r="2.65" fill="url(#bb)"/>
<circle cx="558.67" cy="385.20" r="2.65" fill="url(#bb)"/>
<circle cx="566.94" cy="387.40" r="2.65" fill="url(#bb)"/>
<circle cx="575.21" cy="390.30" r="2.65" fill="url(#bb)"/>
<circle cx="583.48" cy="397.00" r="2.65" fill="url(#bb)"/>
<circle cx="591.75" cy="403.00" r="2.65" fill="url(#bb)"/>
<circle cx="600.02" cy="409.00" r="2.65" fill="url(#bb)"/>
<circle cx="608.29" cy="416.00" r="2.65" fill="url(#bb)"/>
<circle cx="616.56" cy="423.00" r="2.65" fill="url(#bb)"/>
<circle cx="624.83" cy="429.00" r="2.65" fill="url(#bb)"/>
<circle cx="633.10" cy="435.00" r="2.65" fill="url(#bb)"/>
<circle cx="641.37" cy="440.60" r="2.65" fill="url(#bb)"/>
<circle cx="385.00" cy="423.90" r="2.5" fill="#ffffff" stroke="#f58a2a" stroke-width="1.0"/>
<circle cx="393.27" cy="416.60" r="2.5" fill="#ffffff" stroke="#f58a2a" stroke-width="1.0"/>
<circle cx="401.54" cy="412.20" r="2.5" fill="#ffffff" stroke="#f58a2a" stroke-width="1.0"/>
<circle cx="409.81" cy="406.60" r="2.5" fill="#ffffff" stroke="#f58a2a" stroke-width="1.0"/>
<circle cx="418.08" cy="402.70" r="2.5" fill="#ffffff" stroke="#f58a2a" stroke-width="1.0"/>
<circle cx="426.35" cy="400.80" r="2.5" fill="#ffffff" stroke="#f58a2a" stroke-width="1.0"/>
<circle cx="434.62" cy="394.70" r="2.5" fill="#ffffff" stroke="#f58a2a" stroke-width="1.0"/>
<circle cx="442.89" cy="391.70" r="2.5" fill="#ffffff" stroke="#f58a2a" stroke-width="1.0"/>
<circle cx="451.16" cy="388.50" r="2.5" fill="#ffffff" stroke="#f58a2a" stroke-width="1.0"/>
<circle cx="459.43" cy="386.20" r="2.5" fill="#ffffff" stroke="#f58a2a" stroke-width="1.0"/>
<circle cx="467.70" cy="384.40" r="2.5" fill="#ffffff" stroke="#f58a2a" stroke-width="1.0"/>
<circle cx="475.97" cy="379.00" r="2.5" fill="#ffffff" stroke="#f58a2a" stroke-width="1.0"/>
<circle cx="484.24" cy="381.80" r="2.5" fill="#ffffff" stroke="#f58a2a" stroke-width="1.0"/>
<circle cx="492.51" cy="381.20" r="2.5" fill="#ffffff" stroke="#f58a2a" stroke-width="1.0"/>
<circle cx="500.78" cy="380.80" r="2.5" fill="#ffffff" stroke="#f58a2a" stroke-width="1.0"/>
<circle cx="509.05" cy="380.80" r="2.5" fill="#ffffff" stroke="#f58a2a" stroke-width="1.0"/>
<circle cx="517.32" cy="380.80" r="2.5" fill="#ffffff" stroke="#f58a2a" stroke-width="1.0"/>
<circle cx="525.59" cy="381.20" r="2.5" fill="#ffffff" stroke="#f58a2a" stroke-width="1.0"/>
<circle cx="533.86" cy="381.20" r="2.5" fill="#ffffff" stroke="#f58a2a" stroke-width="1.0"/>
<circle cx="542.13" cy="383.00" r="2.5" fill="#ffffff" stroke="#f58a2a" stroke-width="1.0"/>
<circle cx="550.40" cy="385.20" r="2.5" fill="#ffffff" stroke="#f58a2a" stroke-width="1.0"/>
<circle cx="558.67" cy="387.40" r="2.5" fill="#ffffff" stroke="#f58a2a" stroke-width="1.0"/>
<circle cx="566.94" cy="390.30" r="2.5" fill="#ffffff" stroke="#f58a2a" stroke-width="1.0"/>
<circle cx="575.21" cy="393.90" r="2.5" fill="#ffffff" stroke="#f58a2a" stroke-width="1.0"/>
<circle cx="583.48" cy="398.30" r="2.5" fill="#ffffff" stroke="#f58a2a" stroke-width="1.0"/>
<circle cx="591.75" cy="403.70" r="2.5" fill="#ffffff" stroke="#f58a2a" stroke-width="1.0"/>
<circle cx="600.02" cy="410.00" r="2.5" fill="#ffffff" stroke="#f58a2a" stroke-width="1.0"/>
<circle cx="608.29" cy="415.80" r="2.5" fill="#ffffff" stroke="#f58a2a" stroke-width="1.0"/>
<circle cx="616.56" cy="423.10" r="2.5" fill="#ffffff" stroke="#f58a2a" stroke-width="1.0"/>
<circle cx="624.83" cy="428.20" r="2.5" fill="#ffffff" stroke="#f58a2a" stroke-width="1.0"/>
<circle cx="633.10" cy="434.80" r="2.5" fill="#ffffff" stroke="#f58a2a" stroke-width="1.0"/>
<circle cx="641.37" cy="439.20" r="2.5" fill="#ffffff" stroke="#f58a2a" stroke-width="1.0"/>
<circle cx="649.64" cy="442.10" r="2.5" fill="#ffffff" stroke="#f58a2a" stroke-width="1.0"/>
<circle cx="657.91" cy="444.30" r="2.5" fill="#ffffff" stroke="#f58a2a" stroke-width="1.0"/>
<circle cx="666.18" cy="446.20" r="2.5" fill="#ffffff" stroke="#f58a2a" stroke-width="1.0"/>
<circle cx="674.45" cy="448.40" r="2.5" fill="#ffffff" stroke="#f58a2a" stroke-width="1.0"/>
<circle cx="385.00" cy="429.70" r="2.65" fill="url(#bp)"/>
<circle cx="393.27" cy="425.00" r="2.65" fill="url(#bp)"/>
<circle cx="401.54" cy="420.20" r="2.65" fill="url(#bp)"/>
<circle cx="409.81" cy="415.40" r="2.65" fill="url(#bp)"/>
<circle cx="418.08" cy="411.90" r="2.65" fill="url(#bp)"/>
<circle cx="426.35" cy="407.80" r="2.65" fill="url(#bp)"/>
<circle cx="434.62" cy="405.60" r="2.65" fill="url(#bp)"/>
<circle cx="442.89" cy="402.70" r="2.65" fill="url(#bp)"/>
<circle cx="451.16" cy="399.30" r="2.65" fill="url(#bp)"/>
<circle cx="459.43" cy="397.30" r="2.65" fill="url(#bp)"/>
<circle cx="467.70" cy="395.00" r="2.65" fill="url(#bp)"/>
<circle cx="475.97" cy="392.70" r="2.65" fill="url(#bp)"/>
<circle cx="484.24" cy="391.00" r="2.65" fill="url(#bp)"/>
<circle cx="492.51" cy="390.00" r="2.65" fill="url(#bp)"/>
<circle cx="500.78" cy="388.50" r="2.65" fill="url(#bp)"/>
<circle cx="509.05" cy="387.40" r="2.65" fill="url(#bp)"/>
<circle cx="517.32" cy="385.90" r="2.65" fill="url(#bp)"/>
<circle cx="525.59" cy="385.20" r="2.65" fill="url(#bp)"/>
<circle cx="533.86" cy="384.40" r="2.65" fill="url(#bp)"/>
<circle cx="542.13" cy="383.40" r="2.65" fill="url(#bp)"/>
<circle cx="550.40" cy="383.00" r="2.65" fill="url(#bp)"/>
<circle cx="558.67" cy="382.70" r="2.65" fill="url(#bp)"/>
<circle cx="566.94" cy="382.70" r="2.65" fill="url(#bp)"/>
<circle cx="575.21" cy="383.50" r="2.65" fill="url(#bp)"/>
<circle cx="583.48" cy="384.10" r="2.65" fill="url(#bp)"/>
<circle cx="591.75" cy="385.90" r="2.65" fill="url(#bp)"/>
<circle cx="600.02" cy="387.60" r="2.65" fill="url(#bp)"/>
<circle cx="608.29" cy="390.70" r="2.65" fill="url(#bp)"/>
<circle cx="616.56" cy="395.40" r="2.65" fill="url(#bp)"/>
<circle cx="624.83" cy="402.00" r="2.65" fill="url(#bp)"/>
<circle cx="633.10" cy="409.30" r="2.65" fill="url(#bp)"/>
<circle cx="641.37" cy="416.60" r="2.65" fill="url(#bp)"/>
<circle cx="649.64" cy="423.60" r="2.65" fill="url(#bp)"/>
<circle cx="657.91" cy="431.90" r="2.65" fill="url(#bp)"/>
<circle cx="666.18" cy="435.20" r="2.65" fill="url(#bp)"/>
<polyline points="385.00,443.57 386.49,443.25 388.62,442.81 391.01,442.25 393.27,441.59 395.34,440.79 397.40,439.88 399.47,438.88 401.54,437.83 403.61,436.73 405.68,435.56 407.74,434.34 409.81,433.07 411.88,431.74 413.94,430.37 416.01,428.95 418.08,427.51 420.15,426.03 422.21,424.52 424.28,423.00 426.35,421.50 428.42,420.02 430.49,418.55 432.55,417.10 434.62,415.70 436.69,414.34 438.75,413.02 440.82,411.74 442.89,410.49 444.96,409.27 447.02,408.09 449.09,406.94 451.16,405.84 453.23,404.77 455.30,403.74 457.36,402.76 459.43,401.83 461.50,400.97 463.56,400.15 465.63,399.39 467.70,398.69 469.77,398.04 471.84,397.44 473.90,396.89 475.97,396.38 478.04,395.91 480.11,395.49 482.17,395.11 484.24,394.75 486.31,394.43 488.38,394.15 490.44,393.89 492.51,393.64 494.58,393.41 496.64,393.20 498.71,393.00 500.78,392.80 502.85,392.59 504.92,392.39 506.98,392.18 509.05,391.98 511.12,391.78 513.18,391.59 515.25,391.40 517.32,391.23 519.39,391.07 521.46,390.92 523.52,390.79 525.59,390.68 527.66,390.57 529.73,390.48 531.79,390.40 533.86,390.32 535.93,390.26 538.00,390.20 540.06,390.15 542.13,390.11 544.20,390.08 546.26,390.06 548.33,390.05 550.40,390.06 552.47,390.08 554.53,390.11 556.60,390.16 558.67,390.23 560.74,390.32 562.80,390.42 564.87,390.54 566.94,390.66 569.01,390.80 571.08,390.94 573.14,391.10 575.21,391.27 577.28,391.46 579.35,391.65 581.41,391.86 583.48,392.10 585.55,392.37 587.62,392.67 589.68,393.00 591.75,393.38 593.82,393.79 595.88,394.24 597.95,394.73 600.02,395.27 602.09,395.84 604.15,396.46 606.22,397.13 608.29,397.88 610.36,398.69 612.42,399.57 614.49,400.54 616.56,401.62 618.63,402.83 620.69,404.15 622.76,405.57 624.83,407.09 626.90,408.74 628.96,410.49 631.03,412.33 633.10,414.22 635.17,416.16 637.24,418.18 639.30,420.24 641.37,422.31 643.44,424.41 645.50,426.53 647.57,428.68 649.64,430.84 651.71,433.05 653.77,435.29 655.84,437.51 657.91,439.69 659.98,441.77 662.05,443.78 664.11,445.80 666.18,447.91 668.44,450.33 670.83,452.97 672.96,455.35 674.45,457.00" fill="none" stroke="#f52a2a" stroke-width="1.0" stroke-linejoin="round"/>
<polyline points="385.00,427.08 386.49,426.67 388.62,426.09 391.01,425.38 393.27,424.57 395.34,423.63 397.40,422.54 399.47,421.40 401.54,420.27 403.61,419.17 405.68,418.04 407.74,416.93 409.81,415.85 411.88,414.81 413.94,413.80 416.01,412.82 418.08,411.88 420.15,410.97 422.21,410.09 424.28,409.25 426.35,408.43 428.42,407.65 430.49,406.89 432.55,406.16 434.62,405.43 436.69,404.70 438.75,403.98 440.82,403.26 442.89,402.56 444.96,401.85 447.02,401.14 449.09,400.45 451.16,399.77 453.23,399.12 455.30,398.49 457.36,397.88 459.43,397.27 461.50,396.69 463.56,396.12 465.63,395.56 467.70,395.02 469.77,394.48 471.84,393.96 473.90,393.45 475.97,392.97 478.04,392.51 480.11,392.08 482.17,391.66 484.24,391.27 486.31,390.90 488.38,390.55 490.44,390.21 492.51,389.88 494.58,389.55 496.64,389.23 498.71,388.91 500.78,388.59 502.85,388.27 504.92,387.95 506.98,387.63 509.05,387.32 511.12,387.02 513.18,386.73 515.25,386.44 517.32,386.17 519.39,385.91 521.46,385.66 523.52,385.43 525.59,385.20 527.66,384.98 529.73,384.76 531.79,384.56 533.86,384.36 535.93,384.16 538.00,383.97 540.06,383.79 542.13,383.62 544.20,383.47 546.26,383.32 548.33,383.20 550.40,383.09 552.47,383.01 554.53,382.94 556.60,382.89 558.67,382.87 560.74,382.87 562.80,382.89 564.87,382.93 566.94,383.01 569.01,383.10 571.08,383.23 573.14,383.37 575.21,383.55 577.28,383.75 579.35,383.98 581.41,384.24 583.48,384.53 585.55,384.85 587.62,385.20 589.68,385.59 591.75,386.02 593.82,386.50 595.88,387.01 597.95,387.58 600.02,388.22 602.09,388.93 604.15,389.70 606.22,390.56 608.29,391.51 610.36,392.56 612.42,393.70 614.49,394.94 616.56,396.26 618.63,397.67 620.69,399.18 622.76,400.76 624.83,402.38 626.90,404.06 628.96,405.79 631.03,407.56 633.10,409.33 635.17,411.10 637.24,412.88 639.30,414.67 641.37,416.45 643.44,418.23 645.50,420.01 647.57,421.77 649.64,423.50 651.71,425.13 653.77,426.70 655.84,428.32 657.91,430.10 660.17,432.31 662.56,434.81 664.69,437.11 666.18,438.70" fill="none" stroke="#f52a2a" stroke-width="1.0" stroke-linejoin="round"/>
<polyline points="385.00,416.74 386.49,416.45 388.62,416.04 391.01,415.52 393.27,414.92 395.34,414.21 397.40,413.39 399.47,412.51 401.54,411.61 403.61,410.68 405.68,409.70 407.74,408.71 409.81,407.72 411.88,406.73 413.94,405.73 416.01,404.74 418.08,403.77 420.15,402.84 422.21,401.92 424.28,401.02 426.35,400.16 428.42,399.32 430.49,398.51 432.55,397.73 434.62,396.97 436.69,396.24 438.75,395.53 440.82,394.84 442.89,394.18 444.96,393.54 447.02,392.93 449.09,392.34 451.16,391.75 453.23,391.17 455.30,390.61 457.36,390.06 459.43,389.51 461.50,388.95 463.56,388.39 465.63,387.84 467.70,387.31 469.77,386.79 471.84,386.28 473.90,385.79 475.97,385.34 478.04,384.92 480.11,384.54 482.17,384.18 484.24,383.86 486.31,383.58 488.38,383.33 490.44,383.10 492.51,382.90 494.58,382.72 496.64,382.55 498.71,382.41 500.78,382.27 502.85,382.15 504.92,382.04 506.98,381.94 509.05,381.85 511.12,381.76 513.18,381.69 515.25,381.62 517.32,381.55 519.39,381.49 521.46,381.43 523.52,381.38 525.59,381.35 527.66,381.32 529.73,381.31 531.79,381.31 533.86,381.36 535.93,381.44 538.00,381.55 540.06,381.70 542.13,381.91 544.20,382.17 546.26,382.49 548.33,382.86 550.40,383.26 552.47,383.70 554.53,384.19 556.60,384.71 558.67,385.27 560.74,385.85 562.80,386.47 564.87,387.14 566.94,387.90 569.01,388.74 571.08,389.65 573.14,390.64 575.21,391.73 577.28,392.92 579.35,394.21 581.41,395.57 583.48,396.98 585.55,398.42 587.62,399.93 589.68,401.47 591.75,403.02 593.82,404.58 595.88,406.15 597.95,407.75 600.02,409.38 602.09,411.02 604.15,412.69 606.22,414.38 608.29,416.09 610.36,417.83 612.42,419.60 614.49,421.38 616.56,423.16 618.63,424.96 620.69,426.77 622.76,428.57 624.83,430.31 626.90,431.95 628.96,433.52 631.03,435.09 633.10,436.74 635.36,438.67 637.75,440.77 639.88,442.68 641.37,444.00" fill="none" stroke="#f52a2a" stroke-width="1.0" stroke-linejoin="round"/>
<polyline points="385.00,420.09 386.49,419.58 388.62,418.86 391.01,417.98 393.27,417.00 395.34,415.89 397.40,414.63 399.47,413.31 401.54,412.04 403.61,410.82 405.68,409.60 407.74,408.42 409.81,407.29 411.88,406.23 413.94,405.23 416.01,404.26 418.08,403.29 420.15,402.34 422.21,401.42 424.28,400.49 426.35,399.54 428.42,398.56 430.49,397.56 432.55,396.56 434.62,395.59 436.69,394.63 438.75,393.67 440.82,392.75 442.89,391.88 444.96,391.06 447.02,390.30 449.09,389.57 451.16,388.86 453.23,388.17 455.30,387.51 457.36,386.87 459.43,386.22 461.50,385.55 463.56,384.86 465.63,384.20 467.70,383.59 469.77,383.03 471.84,382.49 473.90,382.01 475.97,381.64 478.04,381.38 480.11,381.22 482.17,381.12 484.24,381.05 486.31,381.02 488.38,381.04 490.44,381.07 492.51,381.09 494.58,381.07 496.64,381.03 498.71,381.00 500.78,380.96 502.85,380.93 504.92,380.89 506.98,380.86 509.05,380.85 511.12,380.85 513.18,380.86 515.25,380.89 517.32,380.93 519.39,380.97 521.46,381.02 523.52,381.09 525.59,381.19 527.66,381.31 529.73,381.46 531.79,381.64 533.86,381.88 535.93,382.16 538.00,382.49 540.06,382.86 542.13,383.26 544.20,383.71 546.26,384.20 548.33,384.72 550.40,385.27 552.47,385.84 554.53,386.43 556.60,387.05 558.67,387.71 560.74,388.39 562.80,389.11 564.87,389.86 566.94,390.66 569.01,391.50 571.08,392.39 573.14,393.32 575.21,394.31 577.28,395.35 579.35,396.44 581.41,397.59 583.48,398.78 585.55,400.03 587.62,401.34 589.68,402.69 591.75,404.07 593.82,405.49 595.88,406.96 597.95,408.45 600.02,409.96 602.09,411.50 604.15,413.05 606.22,414.63 608.29,416.19 610.36,417.76 612.42,419.34 614.49,420.91 616.56,422.46 618.63,424.00 620.69,425.52 622.76,427.02 624.83,428.49 626.90,429.92 628.96,431.33 631.03,432.69 633.10,433.98 635.17,435.19 637.24,436.35 639.30,437.44 641.37,438.46 643.44,439.38 645.50,440.22 647.57,440.99 649.64,441.73 651.71,442.40 653.77,443.03 655.84,443.61 657.91,444.16 659.98,444.68 662.05,445.15 664.11,445.61 666.18,446.11 668.44,446.71 670.83,447.38 672.96,447.98 674.45,448.40" fill="none" stroke="#f52a2a" stroke-width="1.0" stroke-linejoin="round"/>
<rect x="385.0" y="263.4" width="289.5" height="100.60000000000002" fill="none" stroke="#2a2a2a" stroke-width="1"/>
<rect x="385.0" y="364.0" width="289.5" height="100.5" fill="none" stroke="#2a2a2a" stroke-width="1"/>
<text x="0" y="0" font-size="13.4" font-weight="bold" text-anchor="end" transform="translate(380.40,362.10) scale(1,1.0)">10<tspan font-size='8.8' dy='-5.40'>1</tspan></text>
<text x="0" y="0" font-size="13.4" font-weight="bold" text-anchor="end" transform="translate(380.40,342.25) scale(1,1.0)">10<tspan font-size='8.8' dy='-5.40'>2</tspan></text>
<text x="0" y="0" font-size="13.4" font-weight="bold" text-anchor="end" transform="translate(380.40,322.40) scale(1,1.0)">10<tspan font-size='8.8' dy='-5.40'>3</tspan></text>
<text x="0" y="0" font-size="13.4" font-weight="bold" text-anchor="end" transform="translate(380.40,302.55) scale(1,1.0)">10<tspan font-size='8.8' dy='-5.40'>4</tspan></text>
<text x="0" y="0" font-size="13.4" font-weight="bold" text-anchor="end" transform="translate(380.40,282.70) scale(1,1.0)">10<tspan font-size='8.8' dy='-5.40'>5</tspan></text>
<text x="0" y="0" font-size="13.4" font-weight="bold" text-anchor="end" transform="translate(380.90,463.30) scale(1,1.0)">0</text>
<text x="0" y="0" font-size="13.4" font-weight="bold" text-anchor="end" transform="translate(380.90,440.90) scale(1,1.0)">20</text>
<text x="0" y="0" font-size="13.4" font-weight="bold" text-anchor="end" transform="translate(380.90,418.50) scale(1,1.0)">40</text>
<text x="0" y="0" font-size="13.4" font-weight="bold" text-anchor="end" transform="translate(380.90,396.10) scale(1,1.0)">60</text>
<text x="0" y="0" font-size="13.4" font-weight="bold" text-anchor="end" transform="translate(380.90,373.70) scale(1,1.0)">80</text>
<text x="0" y="0" font-size="13.4" font-weight="bold" text-anchor="middle" transform="translate(385.00,481.40) scale(1,1.0)">10<tspan font-size='9.4' dy='-5.00'>−2</tspan></text>
<text x="0" y="0" font-size="13.4" font-weight="bold" text-anchor="middle" transform="translate(426.36,481.40) scale(1,1.0)">10<tspan font-size='9.4' dy='-5.00'>−1</tspan></text>
<text x="0" y="0" font-size="13.4" font-weight="bold" text-anchor="middle" transform="translate(467.71,481.40) scale(1,1.0)">10<tspan font-size='9.4' dy='-5.00'>0</tspan></text>
<text x="0" y="0" font-size="13.4" font-weight="bold" text-anchor="middle" transform="translate(509.07,481.40) scale(1,1.0)">10<tspan font-size='9.4' dy='-5.00'>1</tspan></text>
<text x="0" y="0" font-size="13.4" font-weight="bold" text-anchor="middle" transform="translate(550.43,481.40) scale(1,1.0)">10<tspan font-size='9.4' dy='-5.00'>2</tspan></text>
<text x="0" y="0" font-size="13.4" font-weight="bold" text-anchor="middle" transform="translate(591.79,481.40) scale(1,1.0)">10<tspan font-size='9.4' dy='-5.00'>3</tspan></text>
<text x="0" y="0" font-size="13.4" font-weight="bold" text-anchor="middle" transform="translate(633.14,481.40) scale(1,1.0)">10<tspan font-size='9.4' dy='-5.00'>4</tspan></text>
<text x="0" y="0" font-size="13.4" font-weight="bold" text-anchor="middle" transform="translate(674.50,481.40) scale(1,1.0)">10<tspan font-size='9.4' dy='-5.00'>5</tspan></text>
<text x="468.60" y="497.90" font-size="16.9" font-weight="bold" text-anchor="start" >Frequence (Hz)</text>
<text x="0.00" y="0.00" font-size="16.9" font-weight="bold" text-anchor="middle" transform="translate(352.7,317.9) rotate(-90)">|Z| (Ω·cm<tspan font-size='10' dy='-7'>2</tspan><tspan dy='7'>)</tspan></text>
<text x="0.00" y="0.00" font-size="16.95" font-weight="bold" text-anchor="middle" transform="translate(352.7,420.1) rotate(-90)">-Phase (degree)</text>
<text x="326.60" y="267.70" font-size="22.5" font-weight="bold" text-anchor="start" >(b<tspan font-size='15' dy='6.3'>2</tspan><tspan dy='-6.3'>)</tspan></text>
<rect x="217.5" y="522.0" width="262.0" height="209.5" fill="url(#g)" stroke="none"/>
<line x1="235.40" y1="731.50" x2="235.40" y2="727.50" stroke="#2a2a2a" stroke-width="1"/>
<line x1="310.40" y1="731.50" x2="310.40" y2="727.50" stroke="#2a2a2a" stroke-width="1"/>
<line x1="385.40" y1="731.50" x2="385.40" y2="727.50" stroke="#2a2a2a" stroke-width="1"/>
<line x1="460.40" y1="731.50" x2="460.40" y2="727.50" stroke="#2a2a2a" stroke-width="1"/>
<line x1="217.50" y1="707.00" x2="221.50" y2="707.00" stroke="#2a2a2a" stroke-width="1"/>
<line x1="217.50" y1="665.75" x2="221.50" y2="665.75" stroke="#2a2a2a" stroke-width="1"/>
<line x1="217.50" y1="624.50" x2="221.50" y2="624.50" stroke="#2a2a2a" stroke-width="1"/>
<line x1="217.50" y1="583.25" x2="221.50" y2="583.25" stroke="#2a2a2a" stroke-width="1"/>
<line x1="217.50" y1="542.00" x2="221.50" y2="542.00" stroke="#2a2a2a" stroke-width="1"/>
<line x1="217.50" y1="727.62" x2="220.00" y2="727.62" stroke="#2a2a2a" stroke-width="1"/>
<line x1="217.50" y1="686.38" x2="220.00" y2="686.38" stroke="#2a2a2a" stroke-width="1"/>
<line x1="217.50" y1="645.12" x2="220.00" y2="645.12" stroke="#2a2a2a" stroke-width="1"/>
<line x1="217.50" y1="603.88" x2="220.00" y2="603.88" stroke="#2a2a2a" stroke-width="1"/>
<line x1="217.50" y1="562.62" x2="220.00" y2="562.62" stroke="#2a2a2a" stroke-width="1"/>
<line x1="217.50" y1="521.38" x2="220.00" y2="521.38" stroke="#2a2a2a" stroke-width="1"/>
<polyline points="235.40,705.60 310.40,655.85 385.40,633.00 460.40,617.90" fill="none" stroke="#333333" stroke-width="1" stroke-linejoin="round"/>
<polyline points="235.40,550.25 310.40,582.01 385.40,599.34 460.40,603.88" fill="none" stroke="#f01a1a" stroke-width="1" stroke-linejoin="round"/>
<line x1="235.40" y1="692.20" x2="235.40" y2="719.00" stroke="#1a1a1a" stroke-width="1.2"/>
<line x1="232.80" y1="692.20" x2="238.00" y2="692.20" stroke="#1a1a1a" stroke-width="1.2"/>
<line x1="232.80" y1="719.00" x2="238.00" y2="719.00" stroke="#1a1a1a" stroke-width="1.2"/>
<line x1="310.40" y1="647.50" x2="310.40" y2="664.70" stroke="#1a1a1a" stroke-width="1.2"/>
<line x1="307.80" y1="647.50" x2="313.00" y2="647.50" stroke="#1a1a1a" stroke-width="1.2"/>
<line x1="307.80" y1="664.70" x2="313.00" y2="664.70" stroke="#1a1a1a" stroke-width="1.2"/>
<line x1="385.40" y1="621.50" x2="385.40" y2="644.40" stroke="#1a1a1a" stroke-width="1.2"/>
<line x1="382.80" y1="621.50" x2="388.00" y2="621.50" stroke="#1a1a1a" stroke-width="1.2"/>
<line x1="382.80" y1="644.40" x2="388.00" y2="644.40" stroke="#1a1a1a" stroke-width="1.2"/>
<line x1="460.40" y1="609.20" x2="460.40" y2="628.30" stroke="#1a1a1a" stroke-width="1.2"/>
<line x1="457.80" y1="609.20" x2="463.00" y2="609.20" stroke="#1a1a1a" stroke-width="1.2"/>
<line x1="457.80" y1="628.30" x2="463.00" y2="628.30" stroke="#1a1a1a" stroke-width="1.2"/>
<line x1="235.40" y1="541.00" x2="235.40" y2="559.40" stroke="#f01a1a" stroke-width="1.1"/>
<line x1="233.10" y1="541.00" x2="237.70" y2="541.00" stroke="#f01a1a" stroke-width="1.2"/>
<line x1="233.10" y1="559.40" x2="237.70" y2="559.40" stroke="#f01a1a" stroke-width="1.2"/>
<line x1="310.40" y1="572.90" x2="310.40" y2="590.10" stroke="#f01a1a" stroke-width="1.1"/>
<line x1="308.10" y1="572.90" x2="312.70" y2="572.90" stroke="#f01a1a" stroke-width="1.2"/>
<line x1="308.10" y1="590.10" x2="312.70" y2="590.10" stroke="#f01a1a" stroke-width="1.2"/>
<line x1="385.40" y1="589.00" x2="385.40" y2="609.20" stroke="#f01a1a" stroke-width="1.1"/>
<line x1="383.10" y1="589.00" x2="387.70" y2="589.00" stroke="#f01a1a" stroke-width="1.2"/>
<line x1="383.10" y1="609.20" x2="387.70" y2="609.20" stroke="#f01a1a" stroke-width="1.2"/>
<line x1="460.40" y1="594.00" x2="460.40" y2="613.80" stroke="#f01a1a" stroke-width="1.1"/>
<line x1="458.10" y1="594.00" x2="462.70" y2="594.00" stroke="#f01a1a" stroke-width="1.2"/>
<line x1="458.10" y1="613.80" x2="462.70" y2="613.80" stroke="#f01a1a" stroke-width="1.2"/>
<rect x="232.30" y="702.50" width="6.2" height="6.2" fill="#ffffff" stroke="#1a1a1a" stroke-width="1.1"/>
<rect x="307.30" y="652.75" width="6.2" height="6.2" fill="#ffffff" stroke="#1a1a1a" stroke-width="1.1"/>
<rect x="382.30" y="629.90" width="6.2" height="6.2" fill="#ffffff" stroke="#1a1a1a" stroke-width="1.1"/>
<rect x="457.30" y="614.80" width="6.2" height="6.2" fill="#ffffff" stroke="#1a1a1a" stroke-width="1.1"/>
<circle cx="235.40" cy="550.25" r="3.6" fill="url(#br)"/>
<circle cx="310.40" cy="582.01" r="3.6" fill="url(#br)"/>
<circle cx="385.40" cy="599.34" r="3.6" fill="url(#br)"/>
<circle cx="460.40" cy="603.88" r="3.6" fill="url(#br)"/>
<rect x="217.5" y="522.0" width="262.0" height="209.5" fill="none" stroke="#2a2a2a" stroke-width="1"/>
<text x="0" y="0" font-size="13.8" font-weight="bold" text-anchor="middle" transform="translate(235.40,747.00) scale(1,1.0)">0</text>
<text x="0" y="0" font-size="13.8" font-weight="bold" text-anchor="middle" transform="translate(310.40,747.00) scale(1,1.0)">10</text>
<text x="0" y="0" font-size="13.8" font-weight="bold" text-anchor="middle" transform="translate(385.40,747.00) scale(1,1.0)">20</text>
<text x="0" y="0" font-size="13.8" font-weight="bold" text-anchor="middle" transform="translate(460.40,747.00) scale(1,1.0)">30</text>
<text x="0" y="0" font-size="13.8" font-weight="bold" text-anchor="end" transform="translate(212.40,711.00) scale(1,1.0)">4.0</text>
<text x="0" y="0" font-size="13.8" font-weight="bold" text-anchor="end" transform="translate(212.40,669.75) scale(1,1.0)">4.5</text>
<text x="0" y="0" font-size="13.8" font-weight="bold" text-anchor="end" transform="translate(212.40,628.50) scale(1,1.0)">5.0</text>
<text x="0" y="0" font-size="13.8" font-weight="bold" text-anchor="end" transform="translate(212.40,587.25) scale(1,1.0)">5.5</text>
<text x="0" y="0" font-size="13.8" font-weight="bold" text-anchor="end" transform="translate(212.40,546.00) scale(1,1.0)">6.0</text>
<line x1="295.30" y1="535.50" x2="321.60" y2="535.50" stroke="#333333" stroke-width="1"/>
<rect x="305.75" y="532.75" width="5.5" height="5.5" fill="#ffffff" stroke="#1a1a1a" stroke-width="1.0"/>
<line x1="295.30" y1="552.70" x2="321.60" y2="552.70" stroke="#f01a1a" stroke-width="1"/>
<circle cx="308.50" cy="552.70" r="3.4" fill="url(#br)"/>
<text x="325.80" y="540.30" font-size="14" font-weight="normal" text-anchor="start" >Bare samples</text>
<text x="325.80" y="557.50" font-size="14" font-weight="normal" text-anchor="start" >Pre-passivation samples</text>
<text x="277.80" y="765.20" font-size="17.0" font-weight="bold" text-anchor="start" letter-spacing='0.45'>Corrosion time (d)</text>
<text x="0.00" y="0.00" font-size="18.1" font-weight="bold" text-anchor="middle" transform="translate(182.9,628.9) rotate(-90)">Log <tspan font-style='italic'>R</tspan><tspan font-size='12' dy='4.2'>p</tspan><tspan dy='-4.2' dx='1.5'>(Ω·cm</tspan><tspan font-size='11.5' dy='-8'>2</tspan><tspan dy='8'>)</tspan></text>
<text x="164.80" y="532.80" font-size="22.5" font-weight="bold" text-anchor="start" letter-spacing='0.9'>(c)</text>
<rect x="171" y="770" width="1.2" height="1.4" fill="#8ff0ff" opacity="0.7"/></svg>
</body></html>
